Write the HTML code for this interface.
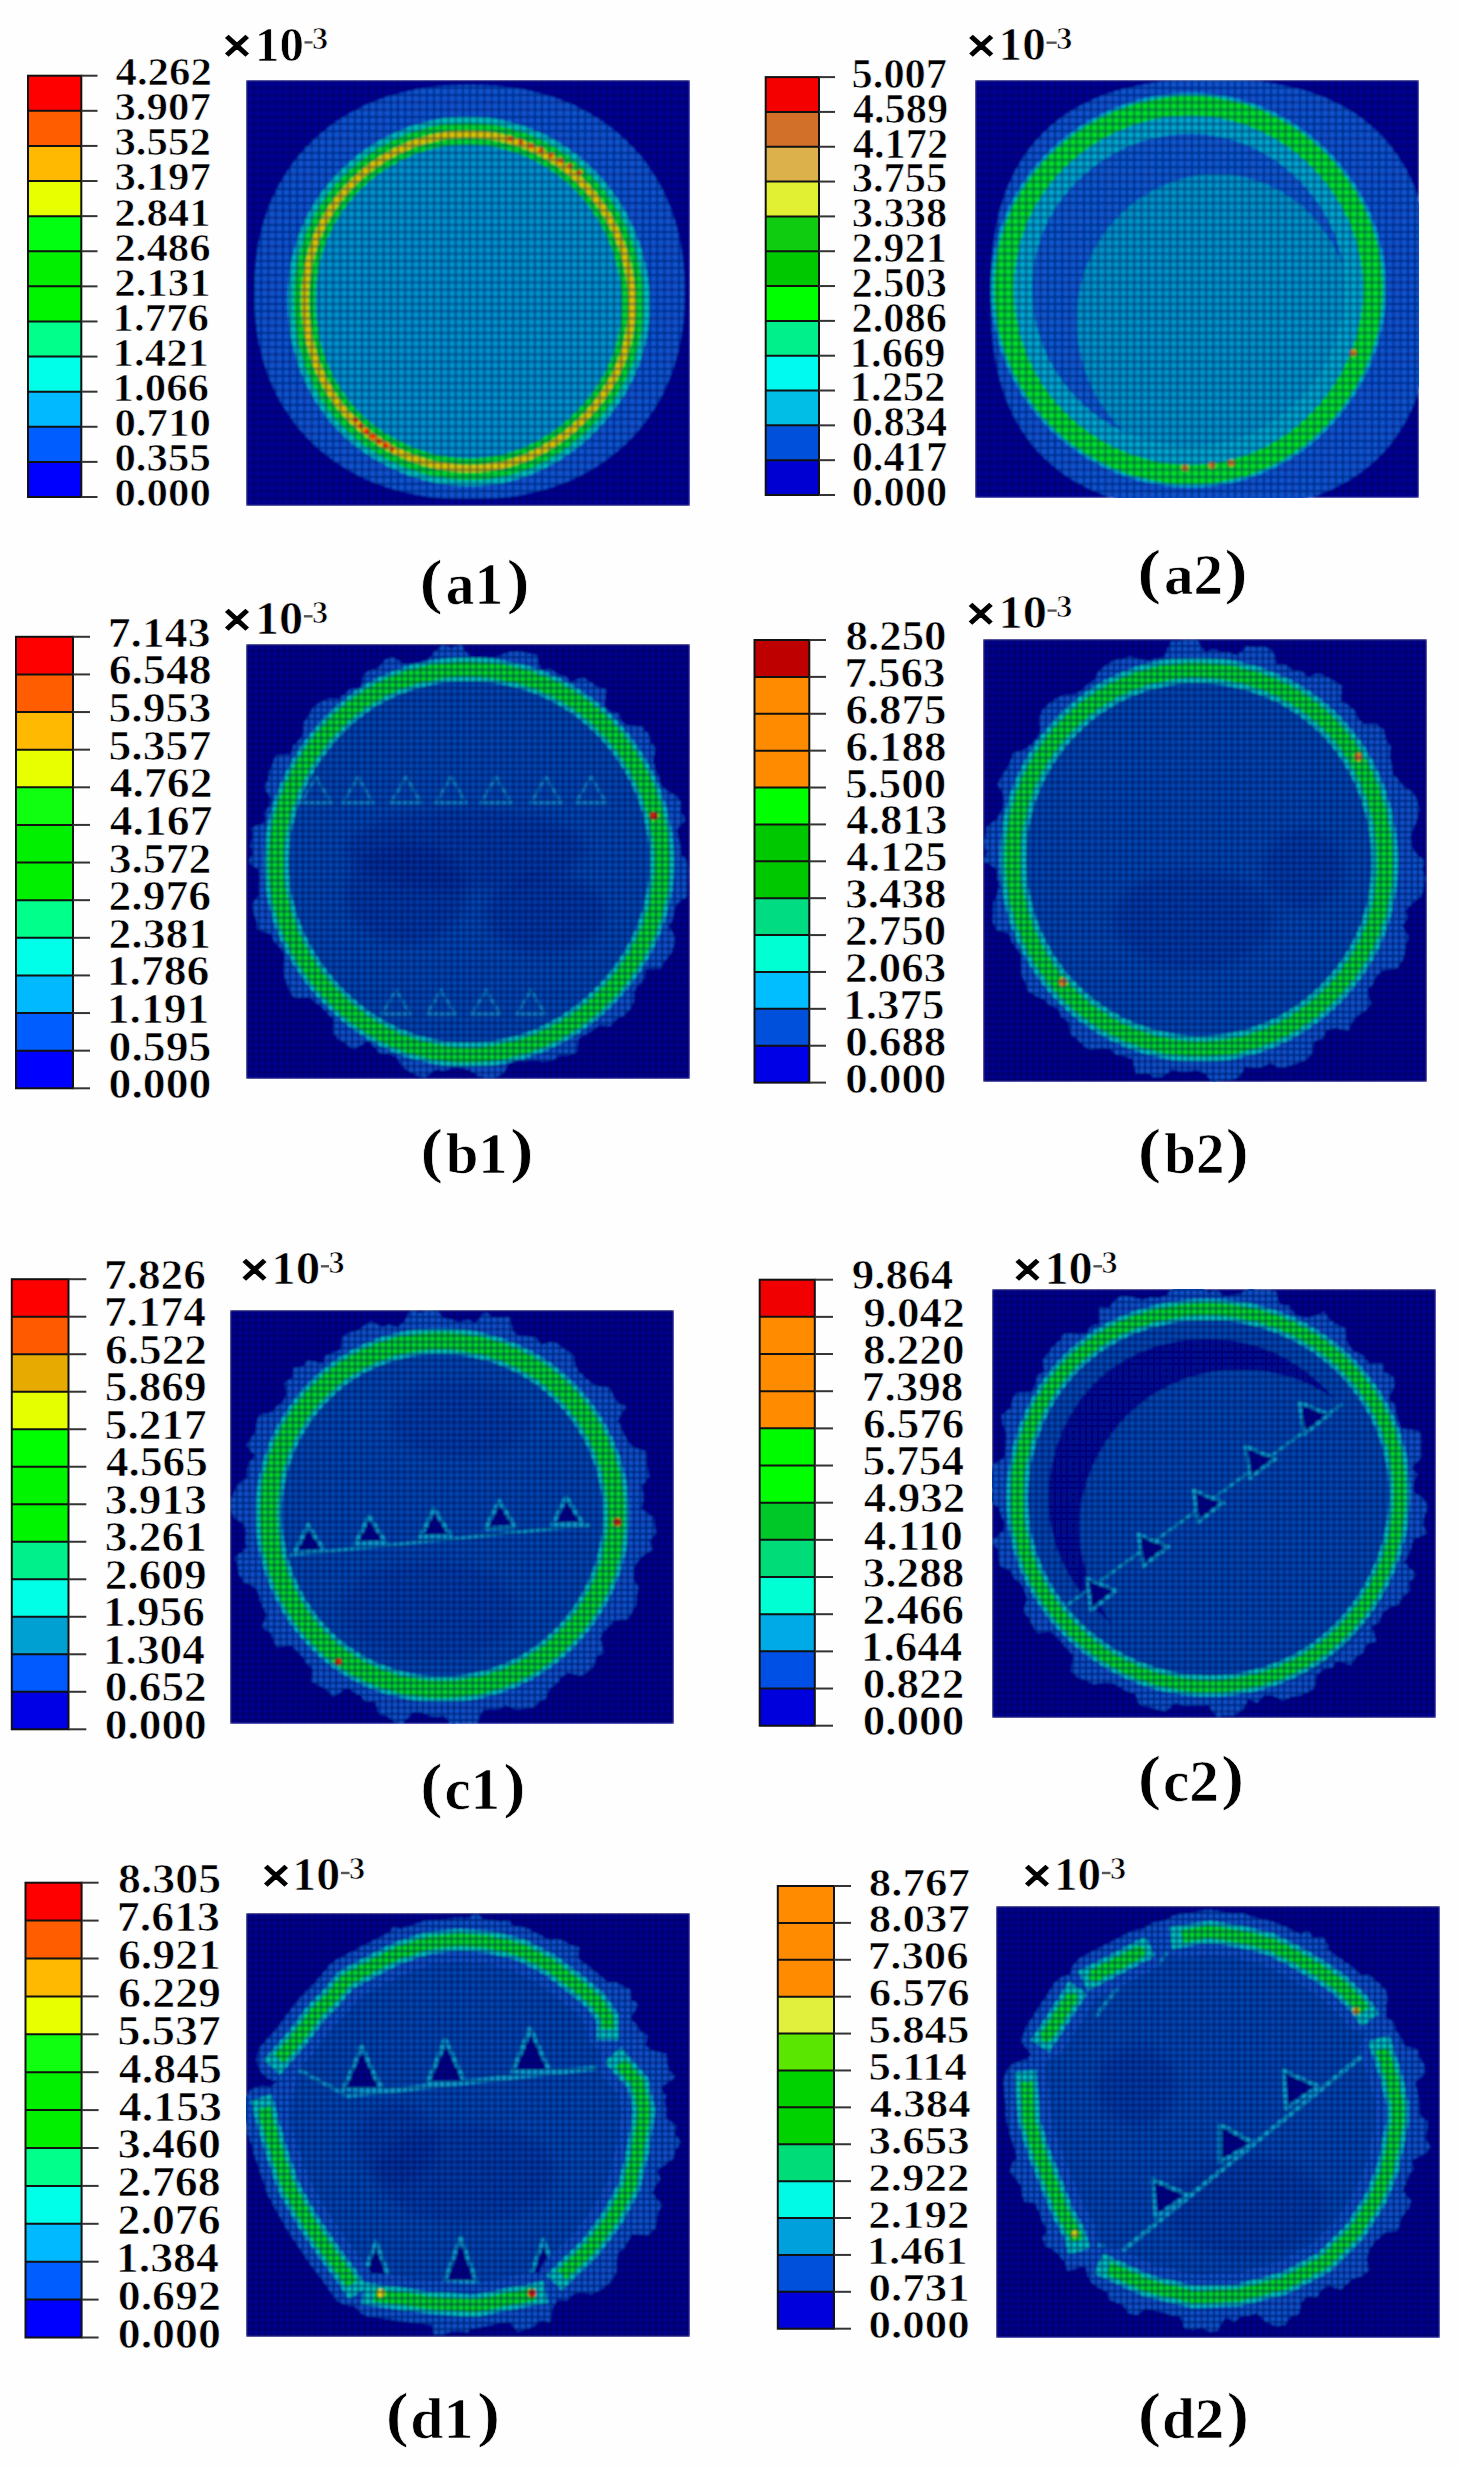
<!DOCTYPE html>
<html><head><meta charset="utf-8"><title>Figure</title>
<style>
html,body{margin:0;padding:0;background:#fff;}
svg{display:block;}
text{font-family:"Liberation Serif",serif;font-weight:bold;stroke:#fff;stroke-width:0.7px;}
</style></head>
<body>
<svg width="1460" height="2468" viewBox="0 0 1460 2468">
<defs>
<pattern id="m7" width="7.2" height="7.2" patternUnits="userSpaceOnUse"><path d="M0 0H7.2M0 0V7.2" stroke="#000040" stroke-width="3.2" stroke-opacity="0.62" fill="none"/></pattern>
<pattern id="m6" width="6.2" height="6.2" patternUnits="userSpaceOnUse"><path d="M0 0H6.2M0 0V6.2" stroke="#000040" stroke-width="3.2" stroke-opacity="0.75" fill="none"/></pattern>
<filter id="soft" x="-2%" y="-2%" width="104%" height="104%"><feGaussianBlur stdDeviation="1.0"/></filter>
<filter id="blur6" x="-50%" y="-50%" width="200%" height="200%"><feGaussianBlur stdDeviation="6"/></filter>
</defs>
<rect width="1460" height="2468" fill="#fefefe"/>
<!-- a1 -->
<rect x="28.0" y="75.70" width="53.3" height="35.61" fill="#ff0000"/>
<rect x="28.0" y="110.81" width="53.3" height="35.61" fill="#ff5d00"/>
<rect x="28.0" y="145.92" width="53.3" height="35.61" fill="#ffb900"/>
<rect x="28.0" y="181.03" width="53.3" height="35.61" fill="#e8ff00"/>
<rect x="28.0" y="216.13" width="53.3" height="35.61" fill="#00ff10"/>
<rect x="28.0" y="251.24" width="53.3" height="35.61" fill="#00f000"/>
<rect x="28.0" y="286.35" width="53.3" height="35.61" fill="#00f500"/>
<rect x="28.0" y="321.46" width="53.3" height="35.61" fill="#00ff8b"/>
<rect x="28.0" y="356.57" width="53.3" height="35.61" fill="#00ffe8"/>
<rect x="28.0" y="391.68" width="53.3" height="35.61" fill="#00b9ff"/>
<rect x="28.0" y="426.78" width="53.3" height="35.61" fill="#005dff"/>
<rect x="28.0" y="461.89" width="53.3" height="35.61" fill="#0000ff"/>
<line x1="28.0" y1="110.81" x2="81.3" y2="110.81" stroke="#111" stroke-width="2"/>
<line x1="28.0" y1="145.92" x2="81.3" y2="145.92" stroke="#111" stroke-width="2"/>
<line x1="28.0" y1="181.03" x2="81.3" y2="181.03" stroke="#111" stroke-width="2"/>
<line x1="28.0" y1="216.13" x2="81.3" y2="216.13" stroke="#111" stroke-width="2"/>
<line x1="28.0" y1="251.24" x2="81.3" y2="251.24" stroke="#111" stroke-width="2"/>
<line x1="28.0" y1="286.35" x2="81.3" y2="286.35" stroke="#111" stroke-width="2"/>
<line x1="28.0" y1="321.46" x2="81.3" y2="321.46" stroke="#111" stroke-width="2"/>
<line x1="28.0" y1="356.57" x2="81.3" y2="356.57" stroke="#111" stroke-width="2"/>
<line x1="28.0" y1="391.68" x2="81.3" y2="391.68" stroke="#111" stroke-width="2"/>
<line x1="28.0" y1="426.78" x2="81.3" y2="426.78" stroke="#111" stroke-width="2"/>
<line x1="28.0" y1="461.89" x2="81.3" y2="461.89" stroke="#111" stroke-width="2"/>
<rect x="28.0" y="75.70" width="53.3" height="421.30" fill="none" stroke="#111" stroke-width="2"/>
<line x1="81.3" y1="75.70" x2="97.5" y2="75.70" stroke="#333" stroke-width="2"/>
<line x1="81.3" y1="110.81" x2="97.5" y2="110.81" stroke="#333" stroke-width="2"/>
<line x1="81.3" y1="145.92" x2="97.5" y2="145.92" stroke="#333" stroke-width="2"/>
<line x1="81.3" y1="181.03" x2="97.5" y2="181.03" stroke="#333" stroke-width="2"/>
<line x1="81.3" y1="216.13" x2="97.5" y2="216.13" stroke="#333" stroke-width="2"/>
<line x1="81.3" y1="251.24" x2="97.5" y2="251.24" stroke="#333" stroke-width="2"/>
<line x1="81.3" y1="286.35" x2="97.5" y2="286.35" stroke="#333" stroke-width="2"/>
<line x1="81.3" y1="321.46" x2="97.5" y2="321.46" stroke="#333" stroke-width="2"/>
<line x1="81.3" y1="356.57" x2="97.5" y2="356.57" stroke="#333" stroke-width="2"/>
<line x1="81.3" y1="391.68" x2="97.5" y2="391.68" stroke="#333" stroke-width="2"/>
<line x1="81.3" y1="426.78" x2="97.5" y2="426.78" stroke="#333" stroke-width="2"/>
<line x1="81.3" y1="461.89" x2="97.5" y2="461.89" stroke="#333" stroke-width="2"/>
<line x1="81.3" y1="497.00" x2="97.5" y2="497.00" stroke="#333" stroke-width="2"/>
<text transform="translate(115.46,85.07) scale(1.0437,1)" font-size="41.08">4.262</text>
<text transform="translate(114.44,120.18) scale(1.0437,1)" font-size="41.08">3.907</text>
<text transform="translate(114.44,155.28) scale(1.0437,1)" font-size="41.08">3.552</text>
<text transform="translate(114.44,190.39) scale(1.0437,1)" font-size="41.08">3.197</text>
<text transform="translate(114.25,225.50) scale(1.0437,1)" font-size="41.08">2.841</text>
<text transform="translate(114.25,260.61) scale(1.0437,1)" font-size="41.08">2.486</text>
<text transform="translate(114.25,295.72) scale(1.0437,1)" font-size="41.08">2.131</text>
<text transform="translate(112.62,330.83) scale(1.0437,1)" font-size="41.08">1.776</text>
<text transform="translate(112.62,365.93) scale(1.0437,1)" font-size="41.08">1.421</text>
<text transform="translate(112.62,401.04) scale(1.0437,1)" font-size="41.08">1.066</text>
<text transform="translate(114.42,436.15) scale(1.0437,1)" font-size="41.08">0.710</text>
<text transform="translate(114.42,471.26) scale(1.0437,1)" font-size="41.08">0.355</text>
<text transform="translate(114.42,506.37) scale(1.0437,1)" font-size="41.08">0.000</text>
<text transform="translate(254.99,60.54) scale(1.0275,1)" font-size="47.57" fill="#000" >10</text>
<text transform="translate(221.96,62.18) scale(1.0846,1)" font-size="48.92" fill="#000" style="stroke:#000;stroke-width:1.3px">×</text>
<text transform="translate(311.99,48.80) scale(1.0511,1)" font-size="30.66" fill="#000" >3</text>
<line x1="304.5" y1="42.4" x2="312.5" y2="42.4" stroke="#555" stroke-width="2.4"/>
<text transform="translate(419.42,601.52) scale(1.1491,1)" font-size="60.99" fill="#000" >(</text>
<text transform="translate(506.79,601.52) scale(1.1236,1)" font-size="60.99" fill="#000" >)</text>
<text transform="translate(445.85,603.60) scale(0.9872,1)" font-size="58.17">a1</text>
<clipPath id="clip_a1"><rect x="0" y="0" width="444" height="426"/></clipPath><g transform="translate(246,80)" clip-path="url(#clip_a1)"><g filter="url(#soft)"><rect width="444" height="426" fill="#000598"/><path d="M438.5 212.0 L438.2 226.2 L437.4 238.6 L436.1 250.3 L434.2 261.6 L431.8 272.6 L428.9 283.2 L425.5 293.4 L421.5 303.4 L417.1 313.0 L412.1 322.2 L406.7 331.1 L400.8 339.7 L394.5 347.9 L387.6 355.7 L380.4 363.1 L372.7 370.0 L364.6 376.6 L356.1 382.7 L347.2 388.4 L338.0 393.6 L328.4 398.4 L318.4 402.7 L308.1 406.5 L297.4 409.8 L286.4 412.6 L275.1 414.9 L263.3 416.7 L251.1 418.0 L238.2 418.7 L223.5 419.0 L208.8 418.7 L195.9 418.0 L183.7 416.7 L171.9 414.9 L160.6 412.6 L149.6 409.8 L138.9 406.5 L128.6 402.7 L118.6 398.4 L109.0 393.6 L99.8 388.4 L90.9 382.7 L82.4 376.6 L74.3 370.0 L66.6 363.1 L59.4 355.7 L52.5 347.9 L46.2 339.7 L40.3 331.1 L34.9 322.2 L29.9 313.0 L25.5 303.4 L21.5 293.4 L18.1 283.2 L15.2 272.6 L12.8 261.6 L10.9 250.3 L9.6 238.6 L8.8 226.2 L8.5 212.0 L8.8 197.8 L9.6 185.4 L10.9 173.7 L12.8 162.4 L15.2 151.4 L18.1 140.8 L21.5 130.6 L25.5 120.6 L29.9 111.0 L34.9 101.8 L40.3 92.9 L46.2 84.3 L52.5 76.1 L59.4 68.3 L66.6 60.9 L74.3 54.0 L82.4 47.4 L90.9 41.3 L99.8 35.6 L109.0 30.4 L118.6 25.6 L128.6 21.3 L138.9 17.5 L149.6 14.2 L160.6 11.4 L171.9 9.1 L183.7 7.3 L195.9 6.0 L208.8 5.3 L223.5 5.0 L238.2 5.3 L251.1 6.0 L263.3 7.3 L275.1 9.1 L286.4 11.4 L297.4 14.2 L308.1 17.5 L318.4 21.3 L328.4 25.6 L338.0 30.4 L347.2 35.6 L356.1 41.3 L364.6 47.4 L372.7 54.0 L380.4 60.9 L387.6 68.3 L394.5 76.1 L400.8 84.3 L406.7 92.9 L412.1 101.8 L417.1 111.0 L421.5 120.6 L425.5 130.6 L428.9 140.8 L431.8 151.4 L434.2 162.4 L436.1 173.7 L437.4 185.4 L438.2 197.8Z" fill="#0a55d2" />
<path d="M379.6 222.5 L379.4 233.1 L378.5 243.6 L376.9 254.1 L374.5 264.4 L371.4 274.5 L367.7 284.4 L363.3 293.9 L358.3 303.1 L352.7 311.9 L346.6 320.4 L340.0 328.4 L332.9 336.0 L325.5 343.1 L317.6 349.8 L309.4 356.0 L300.8 361.6 L291.9 366.8 L282.7 371.3 L273.2 375.1 L263.5 378.3 L253.5 380.8 L243.4 382.5 L233.2 383.5 L223.0 383.8 L212.8 383.3 L202.6 382.1 L192.6 380.3 L182.7 377.8 L173.0 374.6 L163.4 370.9 L154.1 366.6 L145.1 361.7 L136.4 356.3 L128.0 350.3 L120.0 343.7 L112.5 336.5 L105.5 328.9 L99.0 320.7 L93.0 312.1 L87.7 303.1 L83.0 293.7 L79.0 284.1 L75.5 274.2 L72.7 264.1 L70.5 253.8 L68.9 243.4 L67.9 233.0 L67.6 222.5 L67.8 212.0 L68.6 201.5 L70.1 191.1 L72.3 180.8 L75.1 170.7 L78.6 160.8 L82.8 151.1 L87.6 141.8 L93.0 132.8 L99.0 124.3 L105.5 116.2 L112.5 108.5 L120.0 101.3 L128.0 94.7 L136.3 88.6 L145.0 83.0 L154.0 78.0 L163.2 73.6 L172.8 69.8 L182.6 66.7 L192.5 64.3 L202.6 62.5 L212.8 61.5 L223.0 61.1 L233.2 61.5 L243.4 62.6 L253.5 64.5 L263.4 67.0 L273.1 70.1 L282.6 73.9 L291.9 78.4 L300.8 83.4 L309.4 89.0 L317.6 95.2 L325.5 101.9 L332.9 109.1 L339.8 116.8 L346.3 124.9 L352.2 133.4 L357.6 142.3 L362.4 151.5 L366.7 161.1 L370.4 170.8 L373.5 180.9 L376.0 191.1 L377.9 201.5 L379.1 211.9Z" fill="#0094d0" />
<path d="M403.7 221.5 L403.5 233.6 L402.4 245.7 L400.5 257.7 L397.8 269.5 L394.2 281.1 L389.9 292.4 L384.8 303.3 L378.9 313.9 L372.5 324.0 L365.4 333.6 L357.7 342.8 L349.5 351.5 L340.9 359.7 L331.8 367.4 L322.3 374.5 L312.3 381.0 L302.0 386.8 L291.3 392.0 L280.2 396.4 L268.9 400.1 L257.4 402.9 L245.7 404.9 L233.9 406.0 L222.0 406.3 L210.2 405.8 L198.4 404.4 L186.7 402.3 L175.2 399.4 L163.9 395.9 L152.9 391.6 L142.1 386.7 L131.6 381.1 L121.5 374.8 L111.8 367.9 L102.5 360.4 L93.8 352.2 L85.6 343.4 L78.1 334.1 L71.2 324.2 L65.1 313.9 L59.6 303.1 L54.9 292.1 L50.9 280.7 L47.6 269.1 L45.1 257.4 L43.2 245.5 L42.1 233.5 L41.6 221.5 L41.9 209.5 L42.9 197.5 L44.6 185.5 L47.1 173.7 L50.4 162.1 L54.5 150.8 L59.3 139.7 L64.8 129.0 L71.1 118.7 L78.1 108.9 L85.7 99.6 L93.8 90.9 L102.5 82.7 L111.7 75.0 L121.4 68.0 L131.5 61.6 L141.9 55.9 L152.7 50.9 L163.7 46.5 L175.1 43.0 L186.6 40.2 L198.3 38.1 L210.1 36.9 L222.0 36.6 L233.9 37.0 L245.7 38.3 L257.3 40.4 L268.9 43.3 L280.1 46.9 L291.2 51.3 L301.9 56.3 L312.3 62.1 L322.3 68.6 L331.8 75.6 L340.9 83.3 L349.5 91.5 L357.5 100.3 L365.0 109.6 L371.9 119.4 L378.2 129.6 L383.8 140.2 L388.8 151.1 L393.1 162.3 L396.7 173.8 L399.6 185.5 L401.7 197.4 L403.1 209.4Z M397.1 209.8 L395.8 198.2 L393.7 186.7 L390.9 175.3 L387.4 164.2 L383.2 153.4 L378.4 142.8 L373.0 132.6 L366.9 122.7 L360.3 113.3 L353.0 104.3 L345.3 95.8 L337.0 87.8 L328.2 80.4 L318.9 73.5 L309.3 67.3 L299.2 61.7 L288.9 56.8 L278.2 52.6 L267.3 49.1 L256.2 46.3 L244.9 44.3 L233.5 43.0 L222.0 42.6 L210.5 42.9 L199.1 44.1 L187.8 46.1 L176.6 48.8 L165.7 52.2 L155.0 56.4 L144.5 61.3 L134.5 66.8 L124.7 73.0 L115.4 79.8 L106.5 87.2 L98.1 95.1 L90.2 103.6 L82.9 112.6 L76.1 122.1 L70.1 132.0 L64.7 142.4 L60.0 153.1 L56.1 164.1 L52.9 175.3 L50.5 186.7 L48.8 198.2 L47.9 209.9 L47.6 221.5 L48.1 233.1 L49.2 244.7 L51.0 256.2 L53.4 267.6 L56.6 278.8 L60.4 289.8 L65.0 300.5 L70.3 310.9 L76.2 320.9 L82.9 330.4 L90.1 339.4 L98.0 347.9 L106.5 355.8 L115.4 363.1 L124.8 369.8 L134.6 375.9 L144.7 381.3 L155.2 386.1 L165.9 390.2 L176.8 393.6 L187.9 396.4 L199.2 398.5 L210.5 399.8 L222.0 400.3 L233.5 400.0 L244.9 398.9 L256.2 397.0 L267.4 394.3 L278.3 390.7 L289.0 386.4 L299.3 381.4 L309.3 375.8 L318.9 369.5 L328.2 362.6 L337.0 355.2 L345.3 347.3 L353.2 338.9 L360.6 330.0 L367.5 320.6 L373.7 310.9 L379.4 300.7 L384.3 290.1 L388.5 279.2 L392.0 267.9 L394.6 256.5 L396.4 244.9 L397.5 233.2 L397.7 221.5Z" fill="#00c0c0" fill-rule="evenodd" />
<path d="M397.7 221.5 L397.5 233.2 L396.4 244.9 L394.6 256.5 L392.0 267.9 L388.5 279.2 L384.3 290.1 L379.4 300.7 L373.7 310.9 L367.5 320.6 L360.6 330.0 L353.2 338.9 L345.3 347.3 L337.0 355.2 L328.2 362.6 L318.9 369.5 L309.3 375.8 L299.3 381.4 L289.0 386.4 L278.3 390.7 L267.4 394.3 L256.2 397.0 L244.9 398.9 L233.5 400.0 L222.0 400.3 L210.5 399.8 L199.2 398.5 L187.9 396.4 L176.8 393.6 L165.9 390.2 L155.2 386.1 L144.7 381.3 L134.6 375.9 L124.8 369.8 L115.4 363.1 L106.5 355.8 L98.0 347.9 L90.1 339.4 L82.9 330.4 L76.2 320.9 L70.3 310.9 L65.0 300.5 L60.4 289.8 L56.6 278.8 L53.4 267.6 L51.0 256.2 L49.2 244.7 L48.1 233.1 L47.6 221.5 L47.9 209.9 L48.8 198.2 L50.5 186.7 L52.9 175.3 L56.1 164.1 L60.0 153.1 L64.7 142.4 L70.1 132.0 L76.1 122.1 L82.9 112.6 L90.2 103.6 L98.1 95.1 L106.5 87.2 L115.4 79.8 L124.7 73.0 L134.5 66.8 L144.5 61.3 L155.0 56.4 L165.7 52.2 L176.6 48.8 L187.8 46.1 L199.1 44.1 L210.5 42.9 L222.0 42.6 L233.5 43.0 L244.9 44.3 L256.2 46.3 L267.3 49.1 L278.2 52.6 L288.9 56.8 L299.2 61.7 L309.3 67.3 L318.9 73.5 L328.2 80.4 L337.0 87.8 L345.3 95.8 L353.0 104.3 L360.3 113.3 L366.9 122.7 L373.0 132.6 L378.4 142.8 L383.2 153.4 L387.4 164.2 L390.9 175.3 L393.7 186.7 L395.8 198.2 L397.1 209.8Z M375.1 211.2 L373.9 201.0 L372.1 191.0 L369.7 181.0 L366.6 171.3 L363.0 161.8 L358.8 152.5 L354.0 143.5 L348.7 134.9 L342.9 126.6 L336.6 118.7 L329.8 111.3 L322.5 104.3 L314.8 97.8 L306.7 91.8 L298.3 86.3 L289.5 81.4 L280.5 77.1 L271.2 73.4 L261.6 70.3 L251.9 67.9 L242.0 66.1 L232.0 65.0 L222.0 64.6 L212.0 65.0 L202.0 66.0 L192.1 67.7 L182.3 70.1 L172.8 73.1 L163.4 76.8 L154.3 81.0 L145.5 85.9 L137.0 91.3 L128.8 97.3 L121.0 103.7 L113.7 110.7 L106.8 118.1 L100.3 126.0 L94.5 134.3 L89.2 143.0 L84.5 152.1 L80.4 161.5 L77.0 171.1 L74.2 181.0 L72.1 191.0 L70.6 201.1 L69.8 211.3 L69.5 221.5 L69.9 231.7 L70.9 241.8 L72.5 251.9 L74.6 261.9 L77.4 271.7 L80.7 281.3 L84.7 290.7 L89.3 299.8 L94.5 308.6 L100.4 317.0 L106.7 324.9 L113.6 332.4 L121.0 339.3 L128.8 345.7 L137.1 351.5 L145.6 356.8 L154.5 361.6 L163.6 365.8 L172.9 369.4 L182.5 372.4 L192.2 374.9 L202.0 376.7 L212.0 377.8 L222.0 378.3 L232.0 378.0 L242.0 377.1 L251.9 375.4 L261.7 373.0 L271.2 369.9 L280.6 366.1 L289.6 361.7 L298.3 356.8 L306.8 351.2 L314.8 345.2 L322.5 338.7 L329.8 331.8 L336.7 324.4 L343.2 316.6 L349.2 308.4 L354.7 299.8 L359.6 290.9 L363.9 281.6 L367.6 272.0 L370.6 262.2 L372.9 252.2 L374.5 242.0 L375.4 231.8 L375.6 221.5Z" fill="#00d830" fill-rule="evenodd" />
<path d="M389.6 221.5 L389.4 232.7 L388.5 243.9 L386.7 254.9 L384.2 265.9 L380.9 276.6 L376.9 287.0 L372.2 297.1 L366.8 306.8 L360.8 316.2 L354.3 325.1 L347.2 333.6 L339.7 341.6 L331.7 349.2 L323.3 356.3 L314.5 362.8 L305.3 368.9 L295.8 374.3 L285.9 379.0 L275.7 383.1 L265.3 386.5 L254.7 389.1 L243.9 391.0 L232.9 392.0 L222.0 392.3 L211.1 391.8 L200.2 390.5 L189.4 388.6 L178.8 385.9 L168.4 382.6 L158.2 378.7 L148.3 374.1 L138.6 369.0 L129.3 363.2 L120.3 356.8 L111.8 349.8 L103.7 342.3 L96.2 334.2 L89.2 325.5 L82.9 316.4 L77.2 306.9 L72.2 296.9 L67.8 286.7 L64.1 276.2 L61.1 265.5 L58.8 254.6 L57.1 243.7 L56.0 232.6 L55.6 221.5 L55.8 210.4 L56.8 199.3 L58.4 188.3 L60.7 177.4 L63.7 166.6 L67.4 156.1 L71.9 145.9 L77.0 136.0 L82.8 126.5 L89.2 117.5 L96.2 108.9 L103.8 100.8 L111.8 93.2 L120.3 86.1 L129.2 79.7 L138.5 73.8 L148.1 68.5 L158.0 63.8 L168.2 59.8 L178.7 56.5 L189.3 53.9 L200.2 52.1 L211.1 51.0 L222.0 50.6 L232.9 51.0 L243.8 52.2 L254.6 54.1 L265.2 56.8 L275.6 60.1 L285.8 64.2 L295.7 68.9 L305.3 74.2 L314.5 80.2 L323.3 86.7 L331.7 93.8 L339.6 101.4 L347.1 109.5 L354.0 118.1 L360.3 127.2 L366.1 136.6 L371.3 146.3 L375.9 156.4 L379.8 166.8 L383.2 177.4 L385.8 188.2 L387.8 199.2 L389.1 210.3Z M382.1 210.8 L380.9 200.1 L379.0 189.6 L376.4 179.2 L373.2 169.0 L369.4 159.1 L365.0 149.4 L360.0 140.1 L354.5 131.0 L348.4 122.4 L341.8 114.1 L334.7 106.3 L327.1 99.0 L319.1 92.2 L310.6 86.0 L301.8 80.3 L292.6 75.1 L283.1 70.6 L273.4 66.8 L263.4 63.6 L253.2 61.0 L242.9 59.2 L232.5 58.0 L222.0 57.6 L211.5 58.0 L201.1 59.0 L190.7 60.8 L180.5 63.3 L170.5 66.5 L160.7 70.3 L151.2 74.8 L142.0 79.8 L133.1 85.5 L124.5 91.7 L116.4 98.5 L108.7 105.7 L101.5 113.5 L94.8 121.7 L88.6 130.4 L83.1 139.5 L78.2 149.0 L73.9 158.8 L70.3 168.9 L67.4 179.2 L65.2 189.6 L63.7 200.2 L62.8 210.8 L62.6 221.5 L63.0 232.2 L64.0 242.8 L65.6 253.3 L67.9 263.7 L70.8 274.0 L74.3 284.0 L78.4 293.8 L83.3 303.4 L88.7 312.5 L94.8 321.2 L101.5 329.5 L108.7 337.3 L116.4 344.6 L124.6 351.2 L133.2 357.4 L142.1 362.9 L151.4 367.9 L160.9 372.2 L170.7 376.0 L180.7 379.2 L190.8 381.7 L201.1 383.6 L211.5 384.8 L222.0 385.3 L232.5 385.0 L242.9 384.0 L253.3 382.3 L263.5 379.7 L273.5 376.5 L283.2 372.6 L292.7 368.0 L301.8 362.8 L310.6 357.0 L319.1 350.8 L327.1 344.0 L334.8 336.7 L342.0 329.0 L348.7 320.9 L355.0 312.3 L360.7 303.3 L365.9 294.0 L370.4 284.3 L374.2 274.3 L377.4 264.0 L379.8 253.6 L381.5 243.0 L382.4 232.2 L382.6 221.5Z" fill="#d8c800" fill-rule="evenodd" />
<path d="M262 58 Q300 68 338 96" stroke="#f06000" stroke-width="5" fill="none" stroke-dasharray="5 6"/>
<path d="M108 338 Q122 356 148 370" stroke="#ff3000" stroke-width="5" fill="none" stroke-dasharray="5 3"/><rect width="444" height="426" fill="url(#m7)"/></g></g>
<!-- a2 -->
<rect x="765.7" y="77.10" width="53.3" height="35.32" fill="#f50000"/>
<rect x="765.7" y="111.92" width="53.3" height="35.32" fill="#d2702a"/>
<rect x="765.7" y="146.75" width="53.3" height="35.32" fill="#dcb04a"/>
<rect x="765.7" y="181.57" width="53.3" height="35.32" fill="#e2f033"/>
<rect x="765.7" y="216.40" width="53.3" height="35.32" fill="#10cc10"/>
<rect x="765.7" y="251.22" width="53.3" height="35.32" fill="#00c800"/>
<rect x="765.7" y="286.05" width="53.3" height="35.32" fill="#00ff00"/>
<rect x="765.7" y="320.88" width="53.3" height="35.32" fill="#00f08c"/>
<rect x="765.7" y="355.70" width="53.3" height="35.32" fill="#00faf0"/>
<rect x="765.7" y="390.52" width="53.3" height="35.32" fill="#00bee6"/>
<rect x="765.7" y="425.35" width="53.3" height="35.32" fill="#0050dc"/>
<rect x="765.7" y="460.17" width="53.3" height="35.32" fill="#0000d2"/>
<line x1="765.7" y1="111.92" x2="819.0" y2="111.92" stroke="#111" stroke-width="2"/>
<line x1="765.7" y1="146.75" x2="819.0" y2="146.75" stroke="#111" stroke-width="2"/>
<line x1="765.7" y1="181.57" x2="819.0" y2="181.57" stroke="#111" stroke-width="2"/>
<line x1="765.7" y1="216.40" x2="819.0" y2="216.40" stroke="#111" stroke-width="2"/>
<line x1="765.7" y1="251.22" x2="819.0" y2="251.22" stroke="#111" stroke-width="2"/>
<line x1="765.7" y1="286.05" x2="819.0" y2="286.05" stroke="#111" stroke-width="2"/>
<line x1="765.7" y1="320.88" x2="819.0" y2="320.88" stroke="#111" stroke-width="2"/>
<line x1="765.7" y1="355.70" x2="819.0" y2="355.70" stroke="#111" stroke-width="2"/>
<line x1="765.7" y1="390.52" x2="819.0" y2="390.52" stroke="#111" stroke-width="2"/>
<line x1="765.7" y1="425.35" x2="819.0" y2="425.35" stroke="#111" stroke-width="2"/>
<line x1="765.7" y1="460.17" x2="819.0" y2="460.17" stroke="#111" stroke-width="2"/>
<rect x="765.7" y="77.10" width="53.3" height="417.90" fill="none" stroke="#111" stroke-width="2"/>
<line x1="819.0" y1="77.10" x2="835.0" y2="77.10" stroke="#333" stroke-width="2"/>
<line x1="819.0" y1="111.92" x2="835.0" y2="111.92" stroke="#333" stroke-width="2"/>
<line x1="819.0" y1="146.75" x2="835.0" y2="146.75" stroke="#333" stroke-width="2"/>
<line x1="819.0" y1="181.57" x2="835.0" y2="181.57" stroke="#333" stroke-width="2"/>
<line x1="819.0" y1="216.40" x2="835.0" y2="216.40" stroke="#333" stroke-width="2"/>
<line x1="819.0" y1="251.22" x2="835.0" y2="251.22" stroke="#333" stroke-width="2"/>
<line x1="819.0" y1="286.05" x2="835.0" y2="286.05" stroke="#333" stroke-width="2"/>
<line x1="819.0" y1="320.88" x2="835.0" y2="320.88" stroke="#333" stroke-width="2"/>
<line x1="819.0" y1="355.70" x2="835.0" y2="355.70" stroke="#333" stroke-width="2"/>
<line x1="819.0" y1="390.52" x2="835.0" y2="390.52" stroke="#333" stroke-width="2"/>
<line x1="819.0" y1="425.35" x2="835.0" y2="425.35" stroke="#333" stroke-width="2"/>
<line x1="819.0" y1="460.17" x2="835.0" y2="460.17" stroke="#333" stroke-width="2"/>
<line x1="819.0" y1="495.00" x2="835.0" y2="495.00" stroke="#333" stroke-width="2"/>
<text transform="translate(851.55,87.96) scale(1.0226,1)" font-size="41.52">5.007</text>
<text transform="translate(852.67,122.79) scale(1.0226,1)" font-size="41.52">4.589</text>
<text transform="translate(852.67,157.61) scale(1.0226,1)" font-size="41.52">4.172</text>
<text transform="translate(851.65,192.44) scale(1.0226,1)" font-size="41.52">3.755</text>
<text transform="translate(851.65,227.26) scale(1.0226,1)" font-size="41.52">3.338</text>
<text transform="translate(851.47,262.09) scale(1.0226,1)" font-size="41.52">2.921</text>
<text transform="translate(851.47,296.91) scale(1.0226,1)" font-size="41.52">2.503</text>
<text transform="translate(851.47,331.74) scale(1.0226,1)" font-size="41.52">2.086</text>
<text transform="translate(849.85,366.56) scale(1.0226,1)" font-size="41.52">1.669</text>
<text transform="translate(849.85,401.39) scale(1.0226,1)" font-size="41.52">1.252</text>
<text transform="translate(851.63,436.21) scale(1.0226,1)" font-size="41.52">0.834</text>
<text transform="translate(851.63,471.04) scale(1.0226,1)" font-size="41.52">0.417</text>
<text transform="translate(851.63,505.86) scale(1.0226,1)" font-size="41.52">0.000</text>
<text transform="translate(998.62,60.15) scale(1.0138,1)" font-size="46.53" fill="#000" >10</text>
<text transform="translate(966.16,62.11) scale(1.0846,1)" font-size="48.92" fill="#000" style="stroke:#000;stroke-width:1.3px">×</text>
<text transform="translate(1056.19,49.10) scale(1.0511,1)" font-size="30.66" fill="#000" >3</text>
<line x1="1046.5" y1="42.7" x2="1056.7" y2="42.7" stroke="#555" stroke-width="2.4"/>
<text transform="translate(1137.23,591.67) scale(1.1768,1)" font-size="61.21" fill="#000" >(</text>
<text transform="translate(1224.47,591.67) scale(1.1323,1)" font-size="61.21" fill="#000" >)</text>
<text transform="translate(1163.89,594.40) scale(1.0198,1)" font-size="58.00">a2</text>
<clipPath id="clip_a2"><rect x="0" y="0" width="444" height="418"/></clipPath><g transform="translate(975,80)" clip-path="url(#clip_a2)"><g filter="url(#soft)"><rect width="444" height="418" fill="#000598"/><path d="M456.0 215.0 L455.8 235.3 L455.0 250.3 L453.8 263.7 L452.1 276.2 L450.0 287.9 L447.3 299.0 L444.2 309.6 L440.6 319.7 L436.6 329.3 L432.1 338.5 L427.1 347.2 L421.7 355.5 L415.8 363.4 L409.5 370.9 L402.7 377.9 L395.5 384.5 L387.9 390.7 L379.8 396.5 L371.3 401.8 L362.4 406.6 L353.0 411.0 L343.1 415.0 L332.8 418.5 L322.0 421.5 L310.6 424.1 L298.6 426.2 L285.9 427.9 L272.1 429.1 L256.8 429.8 L236.0 430.0 L215.2 429.8 L199.9 429.1 L186.1 427.9 L173.4 426.2 L161.4 424.1 L150.0 421.5 L139.2 418.5 L128.9 415.0 L119.0 411.0 L109.6 406.6 L100.7 401.8 L92.2 396.5 L84.1 390.7 L76.5 384.5 L69.3 377.9 L62.5 370.9 L56.2 363.4 L50.3 355.5 L44.9 347.2 L39.9 338.5 L35.4 329.3 L31.4 319.7 L27.8 309.6 L24.7 299.0 L22.0 287.9 L19.9 276.2 L18.2 263.7 L17.0 250.3 L16.2 235.3 L16.0 215.0 L16.2 194.7 L17.0 179.7 L18.2 166.3 L19.9 153.8 L22.0 142.1 L24.7 131.0 L27.8 120.4 L31.4 110.3 L35.4 100.7 L39.9 91.5 L44.9 82.8 L50.3 74.5 L56.2 66.6 L62.5 59.1 L69.3 52.1 L76.5 45.5 L84.1 39.3 L92.2 33.5 L100.7 28.2 L109.6 23.4 L119.0 19.0 L128.9 15.0 L139.2 11.5 L150.0 8.5 L161.4 5.9 L173.4 3.8 L186.1 2.1 L199.9 0.9 L215.2 0.2 L236.0 0.0 L256.8 0.2 L272.1 0.9 L285.9 2.1 L298.6 3.8 L310.6 5.9 L322.0 8.5 L332.8 11.5 L343.1 15.0 L353.0 19.0 L362.4 23.4 L371.3 28.2 L379.8 33.5 L387.9 39.3 L395.5 45.5 L402.7 52.1 L409.5 59.1 L415.8 66.6 L421.7 74.5 L427.1 82.8 L432.1 91.5 L436.6 100.7 L440.6 110.3 L444.2 120.4 L447.3 131.0 L450.0 142.1 L452.1 153.8 L453.8 166.3 L455.0 179.7 L455.8 194.7Z" fill="#0a55d2" />
<path d="M384.3 211.0 L383.9 222.1 L382.7 233.2 L380.7 244.2 L378.1 255.0 L374.7 265.6 L370.7 275.9 L366.0 286.0 L360.7 295.7 L354.9 305.1 L348.4 314.1 L341.4 322.8 L333.9 330.9 L325.9 338.6 L317.4 345.8 L308.5 352.4 L299.1 358.4 L289.4 363.8 L279.3 368.5 L268.8 372.6 L258.2 375.8 L247.3 378.4 L236.3 380.2 L225.2 381.2 L214.0 381.5 L202.9 381.0 L191.8 379.7 L180.8 377.8 L170.0 375.1 L159.4 371.8 L149.1 367.8 L139.0 363.1 L129.2 357.8 L119.8 351.9 L110.8 345.5 L102.2 338.4 L94.1 330.9 L86.5 322.8 L79.4 314.2 L72.9 305.3 L67.0 295.9 L61.7 286.1 L57.1 276.0 L53.1 265.6 L49.8 255.0 L47.2 244.2 L45.3 233.2 L44.1 222.1 L43.6 211.0 L43.9 199.9 L44.9 188.7 L46.7 177.7 L49.2 166.8 L52.5 156.2 L56.4 145.7 L61.1 135.6 L66.5 125.8 L72.5 116.4 L79.1 107.5 L86.3 99.0 L94.0 91.0 L102.2 83.5 L110.8 76.5 L119.9 70.1 L129.3 64.3 L139.1 59.0 L149.1 54.4 L159.5 50.4 L170.1 47.1 L180.9 44.4 L191.8 42.5 L202.9 41.3 L214.0 40.8 L225.1 41.1 L236.2 42.2 L247.2 44.0 L258.1 46.5 L268.7 49.8 L279.1 53.8 L289.2 58.5 L299.0 63.8 L308.4 69.7 L317.4 76.3 L325.9 83.4 L334.0 91.0 L341.6 99.1 L348.7 107.6 L355.3 116.6 L361.2 126.0 L366.5 135.8 L371.2 145.9 L375.2 156.3 L378.5 166.9 L381.1 177.8 L382.9 188.8 L384.0 199.9Z" fill="#0a5ad2" />
<path d="M377.9 241.0 L377.6 250.6 L376.7 260.2 L375.2 269.6 L373.1 279.0 L370.5 288.2 L367.3 297.2 L363.5 305.9 L359.3 314.4 L354.6 322.5 L349.4 330.4 L343.7 337.9 L337.6 345.0 L331.1 351.6 L324.2 357.8 L316.9 363.5 L309.2 368.7 L301.3 373.3 L293.0 377.3 L284.5 380.7 L275.8 383.5 L267.0 385.6 L258.0 387.0 L249.0 387.8 L240.0 388.0 L231.0 387.5 L222.0 386.4 L213.2 384.8 L204.4 382.5 L195.8 379.7 L187.4 376.3 L179.2 372.4 L171.2 367.9 L163.5 362.9 L156.2 357.4 L149.1 351.4 L142.5 344.9 L136.3 337.9 L130.5 330.5 L125.2 322.7 L120.4 314.6 L116.1 306.1 L112.4 297.3 L109.2 288.3 L106.6 279.1 L104.5 269.7 L103.0 260.2 L102.1 250.6 L101.7 241.0 L102.0 231.4 L102.8 221.8 L104.3 212.2 L106.3 202.8 L109.0 193.6 L112.2 184.6 L116.0 175.8 L120.3 167.4 L125.1 159.2 L130.5 151.5 L136.3 144.1 L142.5 137.2 L149.2 130.7 L156.2 124.7 L163.6 119.2 L171.3 114.2 L179.2 109.7 L187.4 105.7 L195.8 102.4 L204.4 99.5 L213.2 97.3 L222.0 95.6 L231.0 94.6 L240.0 94.2 L249.0 94.4 L258.0 95.2 L267.0 96.6 L275.8 98.7 L284.5 101.4 L293.0 104.8 L301.2 108.7 L309.2 113.3 L316.9 118.4 L324.3 124.0 L331.2 130.2 L337.8 136.8 L343.9 143.9 L349.6 151.4 L354.8 159.3 L359.5 167.5 L363.7 176.0 L367.4 184.8 L370.5 193.8 L373.2 203.0 L375.2 212.4 L376.7 221.8 L377.6 231.4Z" fill="#0096cc" />
<path d="M410.9 210.0 L410.3 222.9 L409.0 235.7 L406.7 248.4 L403.6 260.9 L399.7 273.2 L395.1 285.2 L389.7 296.9 L383.5 308.2 L376.7 319.1 L369.3 329.5 L361.2 339.5 L352.5 349.0 L343.2 357.9 L333.4 366.2 L323.0 373.9 L312.1 380.8 L300.8 387.1 L289.1 392.6 L277.1 397.2 L264.7 401.0 L252.1 404.0 L239.3 406.0 L226.4 407.2 L213.5 407.5 L200.6 407.0 L187.8 405.5 L175.1 403.3 L162.5 400.2 L150.3 396.3 L138.3 391.7 L126.6 386.3 L115.3 380.1 L104.4 373.3 L93.9 365.8 L84.0 357.7 L74.6 348.9 L65.8 339.6 L57.6 329.6 L50.0 319.2 L43.2 308.3 L37.1 297.0 L31.7 285.3 L27.0 273.3 L23.2 261.0 L20.2 248.5 L18.0 235.7 L16.6 222.9 L16.1 210.0 L16.4 197.1 L17.6 184.2 L19.6 171.4 L22.5 158.8 L26.3 146.5 L30.9 134.4 L36.3 122.6 L42.5 111.3 L49.5 100.4 L57.1 90.0 L65.5 80.2 L74.4 70.9 L83.9 62.2 L93.9 54.1 L104.4 46.7 L115.3 40.0 L126.7 33.9 L138.3 28.5 L150.3 23.9 L162.6 20.1 L175.1 17.0 L187.8 14.7 L200.6 13.3 L213.5 12.8 L226.4 13.1 L239.3 14.3 L252.0 16.4 L264.6 19.4 L276.9 23.2 L289.0 27.8 L300.7 33.2 L312.0 39.4 L322.9 46.3 L333.3 53.9 L343.2 62.1 L352.6 70.9 L361.4 80.3 L369.6 90.2 L377.2 100.6 L384.1 111.5 L390.3 122.8 L395.7 134.5 L400.3 146.6 L404.2 158.9 L407.2 171.5 L409.3 184.2 L410.5 197.1Z M407.5 197.3 L406.3 184.6 L404.2 172.1 L401.3 159.7 L397.5 147.5 L392.9 135.7 L387.6 124.2 L381.5 113.0 L374.7 102.3 L367.2 92.0 L359.2 82.3 L350.5 73.0 L341.2 64.3 L331.5 56.2 L321.2 48.8 L310.5 42.0 L299.3 35.9 L287.8 30.6 L275.9 26.0 L263.8 22.3 L251.4 19.4 L238.9 17.3 L226.2 16.1 L213.5 15.8 L200.8 16.3 L188.2 17.7 L175.7 19.9 L163.4 22.9 L151.3 26.7 L139.5 31.3 L128.0 36.6 L116.8 42.6 L106.1 49.2 L95.7 56.5 L85.9 64.5 L76.5 73.0 L67.7 82.2 L59.5 91.9 L52.0 102.1 L45.1 112.8 L39.0 124.0 L33.7 135.5 L29.2 147.4 L25.4 159.6 L22.6 172.0 L20.5 184.6 L19.4 197.3 L19.1 210.0 L19.6 222.7 L20.9 235.4 L23.1 247.9 L26.1 260.2 L29.9 272.3 L34.4 284.2 L39.7 295.7 L45.8 306.8 L52.5 317.6 L59.9 327.8 L68.0 337.6 L76.7 346.8 L86.0 355.4 L95.8 363.5 L106.0 370.8 L116.8 377.6 L127.9 383.6 L139.4 388.9 L151.2 393.5 L163.3 397.3 L175.6 400.3 L188.1 402.6 L200.8 404.0 L213.5 404.5 L226.2 404.2 L238.9 403.1 L251.5 401.0 L263.9 398.1 L276.1 394.4 L288.0 389.8 L299.5 384.4 L310.6 378.2 L321.3 371.4 L331.5 363.8 L341.2 355.6 L350.4 346.9 L358.9 337.5 L366.9 327.7 L374.2 317.4 L380.9 306.7 L387.0 295.5 L392.3 284.1 L396.9 272.3 L400.7 260.2 L403.8 247.8 L406.0 235.3 L407.4 222.7 L407.9 210.0Z" fill="#00b4d2" fill-rule="evenodd" />
<path d="M407.9 210.0 L407.4 222.7 L406.0 235.3 L403.8 247.8 L400.7 260.2 L396.9 272.3 L392.3 284.1 L387.0 295.5 L380.9 306.7 L374.2 317.4 L366.9 327.7 L358.9 337.5 L350.4 346.9 L341.2 355.6 L331.5 363.8 L321.3 371.4 L310.6 378.2 L299.5 384.4 L288.0 389.8 L276.1 394.4 L263.9 398.1 L251.5 401.0 L238.9 403.1 L226.2 404.2 L213.5 404.5 L200.8 404.0 L188.1 402.6 L175.6 400.3 L163.3 397.3 L151.2 393.5 L139.4 388.9 L127.9 383.6 L116.8 377.6 L106.0 370.8 L95.8 363.5 L86.0 355.4 L76.7 346.8 L68.0 337.6 L59.9 327.8 L52.5 317.6 L45.8 306.8 L39.7 295.7 L34.4 284.2 L29.9 272.3 L26.1 260.2 L23.1 247.9 L20.9 235.4 L19.6 222.7 L19.1 210.0 L19.4 197.3 L20.5 184.6 L22.6 172.0 L25.4 159.6 L29.2 147.4 L33.7 135.5 L39.0 124.0 L45.1 112.8 L52.0 102.1 L59.5 91.9 L67.7 82.2 L76.5 73.0 L85.9 64.5 L95.7 56.5 L106.1 49.2 L116.8 42.6 L128.0 36.6 L139.5 31.3 L151.3 26.7 L163.4 22.9 L175.7 19.9 L188.2 17.7 L200.8 16.3 L213.5 15.8 L226.2 16.1 L238.9 17.3 L251.4 19.4 L263.8 22.3 L275.9 26.0 L287.8 30.6 L299.3 35.9 L310.5 42.0 L321.2 48.8 L331.5 56.2 L341.2 64.3 L350.5 73.0 L359.2 82.3 L367.2 92.0 L374.7 102.3 L381.5 113.0 L387.6 124.2 L392.9 135.7 L397.5 147.5 L401.3 159.7 L404.2 172.1 L406.3 184.6 L407.5 197.3Z M387.5 198.6 L386.4 187.2 L384.5 176.0 L381.9 164.9 L378.5 154.0 L374.4 143.3 L369.6 133.0 L364.2 123.0 L358.1 113.4 L351.4 104.2 L344.1 95.4 L336.4 87.1 L328.1 79.3 L319.3 72.1 L310.1 65.4 L300.5 59.3 L290.5 53.9 L280.2 49.1 L269.5 45.0 L258.6 41.6 L247.5 39.0 L236.3 37.2 L224.9 36.1 L213.5 35.8 L202.1 36.3 L190.8 37.5 L179.6 39.5 L168.5 42.2 L157.7 45.6 L147.1 49.7 L136.8 54.5 L126.8 59.8 L117.1 65.8 L107.9 72.3 L99.0 79.5 L90.6 87.1 L82.7 95.3 L75.4 104.0 L68.6 113.2 L62.5 122.8 L57.0 132.8 L52.2 143.2 L48.2 153.9 L44.8 164.8 L42.3 175.9 L40.4 187.2 L39.4 198.6 L39.1 210.0 L39.6 221.4 L40.8 232.7 L42.8 244.0 L45.4 255.0 L48.8 265.9 L52.9 276.5 L57.7 286.9 L63.1 296.9 L69.1 306.5 L75.8 315.7 L83.0 324.4 L90.8 332.7 L99.1 340.4 L107.9 347.6 L117.1 354.3 L126.7 360.3 L136.7 365.7 L147.0 370.4 L157.6 374.6 L168.5 378.0 L179.5 380.7 L190.8 382.7 L202.1 384.0 L213.5 384.5 L224.9 384.2 L236.3 383.2 L247.6 381.3 L258.7 378.7 L269.6 375.4 L280.3 371.2 L290.6 366.4 L300.6 360.9 L310.2 354.7 L319.4 348.0 L328.1 340.6 L336.3 332.8 L343.9 324.4 L351.1 315.6 L357.7 306.3 L363.7 296.7 L369.1 286.7 L373.9 276.4 L378.0 265.8 L381.4 255.0 L384.1 243.9 L386.1 232.7 L387.4 221.4 L387.8 210.0Z" fill="#06e02a" fill-rule="evenodd" />
<path d="M387.8 210.0 L387.4 221.4 L386.1 232.7 L384.1 243.9 L381.4 255.0 L378.0 265.8 L373.9 276.4 L369.1 286.7 L363.7 296.7 L357.7 306.3 L351.1 315.6 L343.9 324.4 L336.3 332.8 L328.1 340.6 L319.4 348.0 L310.2 354.7 L300.6 360.9 L290.6 366.4 L280.3 371.2 L269.6 375.4 L258.7 378.7 L247.6 381.3 L236.3 383.2 L224.9 384.2 L213.5 384.5 L202.1 384.0 L190.8 382.7 L179.5 380.7 L168.5 378.0 L157.6 374.6 L147.0 370.4 L136.7 365.7 L126.7 360.3 L117.1 354.3 L107.9 347.6 L99.1 340.4 L90.8 332.7 L83.0 324.4 L75.8 315.7 L69.1 306.5 L63.1 296.9 L57.7 286.9 L52.9 276.5 L48.8 265.9 L45.4 255.0 L42.8 244.0 L40.8 232.7 L39.6 221.4 L39.1 210.0 L39.4 198.6 L40.4 187.2 L42.3 175.9 L44.8 164.8 L48.2 153.9 L52.2 143.2 L57.0 132.8 L62.5 122.8 L68.6 113.2 L75.4 104.0 L82.7 95.3 L90.6 87.1 L99.0 79.5 L107.9 72.3 L117.1 65.8 L126.8 59.8 L136.8 54.5 L147.1 49.7 L157.7 45.6 L168.5 42.2 L179.6 39.5 L190.8 37.5 L202.1 36.3 L213.5 35.8 L224.9 36.1 L236.3 37.2 L247.5 39.0 L258.6 41.6 L269.5 45.0 L280.2 49.1 L290.5 53.9 L300.5 59.3 L310.1 65.4 L319.3 72.1 L328.1 79.3 L336.4 87.1 L344.1 95.4 L351.4 104.2 L358.1 113.4 L364.2 123.0 L369.6 133.0 L374.4 143.3 L378.5 154.0 L381.9 164.9 L384.5 176.0 L386.4 187.2 L387.5 198.6Z M369.5 199.8 L368.5 189.6 L366.8 179.5 L364.5 169.5 L361.5 159.8 L357.8 150.2 L353.5 141.0 L348.6 132.0 L343.1 123.4 L337.1 115.1 L330.6 107.3 L323.7 99.8 L316.2 92.9 L308.4 86.4 L300.1 80.4 L291.5 74.9 L282.5 70.0 L273.3 65.7 L263.7 62.1 L253.9 59.1 L244.0 56.7 L233.9 55.1 L223.7 54.1 L213.5 53.8 L203.3 54.3 L193.1 55.4 L183.1 57.2 L173.2 59.6 L163.5 62.6 L154.0 66.3 L144.7 70.5 L135.8 75.4 L127.1 80.7 L118.8 86.6 L110.9 93.0 L103.3 99.8 L96.3 107.2 L89.7 115.0 L83.6 123.2 L78.1 131.8 L73.2 140.8 L68.9 150.1 L65.3 159.7 L62.3 169.5 L60.0 179.5 L58.3 189.6 L57.4 199.8 L57.1 210.0 L57.6 220.2 L58.7 230.4 L60.4 240.5 L62.8 250.4 L65.9 260.1 L69.5 269.6 L73.8 278.9 L78.6 287.9 L84.1 296.5 L90.0 304.7 L96.5 312.6 L103.5 320.0 L110.9 326.9 L118.8 333.4 L127.1 339.3 L135.7 344.7 L144.7 349.6 L153.9 353.9 L163.4 357.5 L173.1 360.6 L183.1 363.0 L193.1 364.8 L203.3 366.0 L213.5 366.4 L223.7 366.2 L233.9 365.2 L244.1 363.6 L254.0 361.3 L263.8 358.2 L273.4 354.6 L282.7 350.2 L291.6 345.3 L300.2 339.8 L308.4 333.7 L316.2 327.1 L323.6 320.1 L330.4 312.6 L336.9 304.7 L342.8 296.4 L348.2 287.7 L353.0 278.8 L357.3 269.6 L361.0 260.1 L364.0 250.3 L366.5 240.4 L368.3 230.4 L369.4 220.2 L369.8 210.0Z" fill="#00a8d0" fill-rule="evenodd" />
<circle cx="210" cy="388" r="3.5" fill="#d08020"/>
<circle cx="237" cy="385" r="3.5" fill="#d08020"/>
<circle cx="256" cy="383" r="3.5" fill="#d08020"/>
<circle cx="378" cy="273" r="3.5" fill="#d08020"/><rect width="444" height="418" fill="url(#m7)"/></g></g>
<!-- b1 -->
<rect x="16.0" y="636.80" width="57.0" height="38.12" fill="#ff0000"/>
<rect x="16.0" y="674.42" width="57.0" height="38.12" fill="#ff5d00"/>
<rect x="16.0" y="712.05" width="57.0" height="38.12" fill="#ffb900"/>
<rect x="16.0" y="749.67" width="57.0" height="38.12" fill="#e8ff00"/>
<rect x="16.0" y="787.30" width="57.0" height="38.12" fill="#10ff10"/>
<rect x="16.0" y="824.92" width="57.0" height="38.12" fill="#00f000"/>
<rect x="16.0" y="862.55" width="57.0" height="38.12" fill="#00f000"/>
<rect x="16.0" y="900.17" width="57.0" height="38.12" fill="#00ff8b"/>
<rect x="16.0" y="937.80" width="57.0" height="38.12" fill="#00ffe8"/>
<rect x="16.0" y="975.42" width="57.0" height="38.12" fill="#00b9ff"/>
<rect x="16.0" y="1013.05" width="57.0" height="38.12" fill="#005dff"/>
<rect x="16.0" y="1050.67" width="57.0" height="38.12" fill="#0000ff"/>
<line x1="16.0" y1="674.42" x2="73.0" y2="674.42" stroke="#111" stroke-width="2"/>
<line x1="16.0" y1="712.05" x2="73.0" y2="712.05" stroke="#111" stroke-width="2"/>
<line x1="16.0" y1="749.67" x2="73.0" y2="749.67" stroke="#111" stroke-width="2"/>
<line x1="16.0" y1="787.30" x2="73.0" y2="787.30" stroke="#111" stroke-width="2"/>
<line x1="16.0" y1="824.92" x2="73.0" y2="824.92" stroke="#111" stroke-width="2"/>
<line x1="16.0" y1="862.55" x2="73.0" y2="862.55" stroke="#111" stroke-width="2"/>
<line x1="16.0" y1="900.17" x2="73.0" y2="900.17" stroke="#111" stroke-width="2"/>
<line x1="16.0" y1="937.80" x2="73.0" y2="937.80" stroke="#111" stroke-width="2"/>
<line x1="16.0" y1="975.42" x2="73.0" y2="975.42" stroke="#111" stroke-width="2"/>
<line x1="16.0" y1="1013.05" x2="73.0" y2="1013.05" stroke="#111" stroke-width="2"/>
<line x1="16.0" y1="1050.67" x2="73.0" y2="1050.67" stroke="#111" stroke-width="2"/>
<rect x="16.0" y="636.80" width="57.0" height="451.50" fill="none" stroke="#111" stroke-width="2"/>
<line x1="73.0" y1="636.80" x2="90.0" y2="636.80" stroke="#333" stroke-width="2"/>
<line x1="73.0" y1="674.42" x2="90.0" y2="674.42" stroke="#333" stroke-width="2"/>
<line x1="73.0" y1="712.05" x2="90.0" y2="712.05" stroke="#333" stroke-width="2"/>
<line x1="73.0" y1="749.67" x2="90.0" y2="749.67" stroke="#333" stroke-width="2"/>
<line x1="73.0" y1="787.30" x2="90.0" y2="787.30" stroke="#333" stroke-width="2"/>
<line x1="73.0" y1="824.92" x2="90.0" y2="824.92" stroke="#333" stroke-width="2"/>
<line x1="73.0" y1="862.55" x2="90.0" y2="862.55" stroke="#333" stroke-width="2"/>
<line x1="73.0" y1="900.17" x2="90.0" y2="900.17" stroke="#333" stroke-width="2"/>
<line x1="73.0" y1="937.80" x2="90.0" y2="937.80" stroke="#333" stroke-width="2"/>
<line x1="73.0" y1="975.42" x2="90.0" y2="975.42" stroke="#333" stroke-width="2"/>
<line x1="73.0" y1="1013.05" x2="90.0" y2="1013.05" stroke="#333" stroke-width="2"/>
<line x1="73.0" y1="1050.67" x2="90.0" y2="1050.67" stroke="#333" stroke-width="2"/>
<line x1="73.0" y1="1088.30" x2="90.0" y2="1088.30" stroke="#333" stroke-width="2"/>
<text transform="translate(107.74,646.85) scale(1.0699,1)" font-size="42.70">7.143</text>
<text transform="translate(108.79,684.47) scale(1.0699,1)" font-size="42.70">6.548</text>
<text transform="translate(108.52,722.10) scale(1.0699,1)" font-size="42.70">5.953</text>
<text transform="translate(108.52,759.72) scale(1.0699,1)" font-size="42.70">5.357</text>
<text transform="translate(109.73,797.35) scale(1.0699,1)" font-size="42.70">4.762</text>
<text transform="translate(109.73,834.97) scale(1.0699,1)" font-size="42.70">4.167</text>
<text transform="translate(108.63,872.60) scale(1.0699,1)" font-size="42.70">3.572</text>
<text transform="translate(108.43,910.22) scale(1.0699,1)" font-size="42.70">2.976</text>
<text transform="translate(108.43,947.85) scale(1.0699,1)" font-size="42.70">2.381</text>
<text transform="translate(106.69,985.47) scale(1.0699,1)" font-size="42.70">1.786</text>
<text transform="translate(106.69,1023.10) scale(1.0699,1)" font-size="42.70">1.191</text>
<text transform="translate(108.61,1060.72) scale(1.0699,1)" font-size="42.70">0.595</text>
<text transform="translate(108.61,1098.35) scale(1.0699,1)" font-size="42.70">0.000</text>
<text transform="translate(254.93,633.55) scale(1.0448,1)" font-size="46.24" fill="#000" >10</text>
<text transform="translate(222.06,635.60) scale(1.0846,1)" font-size="48.92" fill="#000" style="stroke:#000;stroke-width:1.3px">×</text>
<text transform="translate(312.09,622.70) scale(1.0511,1)" font-size="30.66" fill="#000" >3</text>
<line x1="303.9" y1="616.3" x2="312.6" y2="616.3" stroke="#555" stroke-width="2.4"/>
<text transform="translate(420.62,1170.57) scale(1.1068,1)" font-size="61.21" fill="#000" >(</text>
<text transform="translate(509.92,1170.57) scale(1.1577,1)" font-size="61.21" fill="#000" >)</text>
<text transform="translate(445.65,1173.30) scale(1.0432,1)" font-size="56.35">b1</text>
<clipPath id="clip_b1"><rect x="0" y="0" width="444" height="435"/></clipPath><g transform="translate(246,644)" clip-path="url(#clip_b1)"><g filter="url(#soft)"><rect width="444" height="435" fill="#000598"/><path d="M441.7 218.0 L442.5 226.5 L442.0 235.1 L441.4 243.6 L441.4 252.3 L431.4 259.1 L428.0 266.8 L426.6 274.9 L422.9 282.3 L428.7 293.2 L427.5 301.9 L424.7 310.1 L418.7 316.8 L414.9 324.4 L399.4 325.1 L398.8 334.4 L392.9 340.3 L387.8 346.7 L387.8 357.4 L383.8 365.2 L377.8 371.4 L369.8 375.3 L364.3 381.9 L352.9 381.2 L346.4 386.2 L339.4 390.5 L332.3 394.6 L330.6 408.4 L322.6 411.6 L313.1 411.5 L306.0 416.4 L297.4 417.8 L288.0 416.2 L279.8 417.4 L271.2 417.0 L263.3 418.5 L256.9 429.8 L248.7 433.2 L240.1 433.4 L231.5 431.4 L223.0 425.8 L214.8 423.7 L206.7 423.4 L198.1 426.8 L189.9 425.2 L179.8 433.1 L171.3 431.4 L163.3 427.5 L156.0 422.3 L150.6 412.4 L142.5 410.6 L134.1 409.1 L128.2 402.4 L121.7 397.2 L107.0 405.6 L100.4 399.8 L92.9 395.4 L87.3 388.6 L87.6 375.0 L81.4 369.7 L76.3 363.4 L69.7 358.4 L63.4 353.1 L48.8 354.1 L43.5 347.2 L40.8 338.6 L37.5 330.6 L37.8 320.8 L38.7 311.0 L34.8 304.0 L28.3 297.9 L25.7 290.1 L11.7 286.0 L10.8 277.3 L7.9 269.1 L5.7 260.8 L13.3 250.9 L12.6 242.7 L14.1 234.3 L12.9 226.2 L2.5 218.0 L7.0 209.6 L4.7 201.0 L6.4 192.6 L5.5 183.9 L19.9 178.0 L18.1 169.3 L23.7 162.3 L24.8 154.2 L18.0 143.1 L22.4 135.7 L23.6 127.0 L27.0 119.1 L30.1 111.0 L45.5 110.2 L47.4 101.8 L53.6 96.1 L57.6 88.8 L58.2 78.6 L62.7 71.2 L67.3 63.8 L74.0 58.4 L82.2 54.6 L93.3 55.0 L99.2 49.2 L105.8 44.2 L115.2 43.7 L117.4 31.1 L124.3 26.1 L132.7 24.1 L138.6 16.2 L146.8 13.4 L158.0 19.9 L166.3 18.8 L174.6 18.1 L182.4 15.6 L189.3 7.0 L197.1 1.5 L206.0 4.2 L214.4 0.5 L223.0 12.1 L231.1 13.2 L239.3 12.3 L247.4 13.4 L256.1 10.8 L265.2 7.8 L273.9 7.8 L282.4 9.4 L290.8 11.3 L294.6 25.6 L304.0 24.3 L310.6 29.8 L318.7 31.9 L324.9 37.8 L337.0 33.7 L344.3 38.1 L351.4 42.9 L360.2 45.5 L358.1 61.3 L363.4 67.5 L373.1 69.3 L375.6 78.3 L384.1 81.7 L395.7 83.1 L401.8 89.3 L404.6 97.8 L409.3 104.9 L406.8 116.0 L408.9 124.2 L412.5 131.4 L413.9 139.7 L419.8 146.1 L429.7 151.5 L435.5 158.6 L434.2 167.8 L439.6 175.3 L430.6 185.4 L432.2 193.5 L434.0 201.5 L434.2 209.8Z" fill="#0a55d2" />
<path d="M407.9 217.5 L407.4 229.7 L406.1 241.9 L404.0 253.9 L401.0 265.7 L397.2 277.3 L392.6 288.5 L387.3 299.4 L381.4 309.9 L374.8 320.0 L367.6 329.7 L359.9 338.9 L351.7 347.6 L342.9 355.7 L333.7 363.3 L324.0 370.4 L314.0 376.8 L303.5 382.6 L292.7 387.6 L281.6 392.0 L270.2 395.6 L258.6 398.5 L246.8 400.6 L235.0 401.9 L223.0 402.3 L211.0 402.0 L199.1 400.9 L187.3 398.9 L175.7 396.1 L164.2 392.5 L153.1 388.2 L142.2 383.1 L131.8 377.3 L121.7 370.8 L112.1 363.7 L102.9 356.0 L94.2 347.7 L86.0 339.0 L78.3 329.7 L71.2 320.0 L64.7 309.9 L58.7 299.4 L53.4 288.5 L48.9 277.3 L45.1 265.7 L42.0 253.9 L39.9 241.9 L38.6 229.7 L38.2 217.5 L38.7 205.3 L40.1 193.2 L42.4 181.2 L45.4 169.4 L49.2 157.8 L53.7 146.6 L58.8 135.7 L64.6 125.1 L71.0 114.8 L78.0 105.0 L85.6 95.7 L93.7 86.8 L102.4 78.5 L111.6 70.7 L121.3 63.7 L131.5 57.3 L142.1 51.7 L153.1 46.8 L164.3 42.7 L175.8 39.4 L187.5 36.9 L199.3 35.1 L211.1 34.1 L223.0 33.9 L234.9 34.3 L246.7 35.5 L258.4 37.4 L270.1 40.0 L281.5 43.3 L292.7 47.4 L303.6 52.2 L314.3 57.7 L324.5 64.0 L334.3 70.9 L343.6 78.5 L352.3 86.7 L360.6 95.5 L368.3 104.8 L375.3 114.6 L381.8 124.8 L387.6 135.4 L392.8 146.4 L397.2 157.7 L401.0 169.3 L403.9 181.1 L406.1 193.1 L407.4 205.3Z" fill="#044cbc" />
<ellipse cx="220" cy="205" rx="120" ry="40" fill="#000070" opacity="0.18" filter="url(#blur6)"/>
<ellipse cx="160" cy="250" rx="60" ry="50" fill="#000070" opacity="0.18" filter="url(#blur6)"/>
<ellipse cx="300" cy="270" rx="60" ry="40" fill="#000070" opacity="0.18" filter="url(#blur6)"/>
<path d="M70.0 132.7 L85.0 158.7 L55.0 158.7Z" fill="none" stroke="#10a0d8" stroke-width="3" stroke-linejoin="round" opacity="0.6"/>
<path d="M112.0 132.7 L127.0 158.7 L97.0 158.7Z" fill="none" stroke="#10a0d8" stroke-width="3" stroke-linejoin="round" opacity="0.6"/>
<path d="M160.0 132.7 L175.0 158.7 L145.0 158.7Z" fill="none" stroke="#10a0d8" stroke-width="3" stroke-linejoin="round" opacity="0.6"/>
<path d="M205.0 132.7 L220.0 158.7 L190.0 158.7Z" fill="none" stroke="#10a0d8" stroke-width="3" stroke-linejoin="round" opacity="0.6"/>
<path d="M250.0 132.7 L265.0 158.7 L235.0 158.7Z" fill="none" stroke="#10a0d8" stroke-width="3" stroke-linejoin="round" opacity="0.6"/>
<path d="M300.0 132.7 L315.0 158.7 L285.0 158.7Z" fill="none" stroke="#10a0d8" stroke-width="3" stroke-linejoin="round" opacity="0.6"/>
<path d="M345.0 132.7 L360.0 158.7 L330.0 158.7Z" fill="none" stroke="#10a0d8" stroke-width="3" stroke-linejoin="round" opacity="0.6"/>
<path d="M150.0 346.0 L164.0 370.0 L136.0 370.0Z" fill="none" stroke="#10a0d8" stroke-width="3" stroke-linejoin="round" opacity="0.6"/>
<path d="M195.0 346.0 L209.0 370.0 L181.0 370.0Z" fill="none" stroke="#10a0d8" stroke-width="3" stroke-linejoin="round" opacity="0.6"/>
<path d="M240.0 346.0 L254.0 370.0 L226.0 370.0Z" fill="none" stroke="#10a0d8" stroke-width="3" stroke-linejoin="round" opacity="0.6"/>
<path d="M285.0 346.0 L299.0 370.0 L271.0 370.0Z" fill="none" stroke="#10a0d8" stroke-width="3" stroke-linejoin="round" opacity="0.6"/>
<path d="M428.1 217.5 L427.6 231.1 L426.2 244.6 L423.8 257.9 L420.4 271.0 L416.2 283.9 L411.1 296.4 L405.3 308.5 L398.7 320.2 L391.4 331.4 L383.4 342.1 L374.9 352.3 L365.7 362.0 L356.0 371.0 L345.8 379.5 L335.1 387.3 L323.9 394.4 L312.3 400.8 L300.3 406.5 L288.0 411.3 L275.4 415.4 L262.5 418.5 L249.4 420.9 L236.3 422.3 L223.0 422.8 L209.7 422.5 L196.5 421.2 L183.4 419.0 L170.5 415.9 L157.8 411.9 L145.4 407.1 L133.4 401.4 L121.8 395.0 L110.6 387.8 L99.9 379.9 L89.8 371.3 L80.1 362.1 L71.0 352.4 L62.5 342.2 L54.6 331.4 L47.4 320.2 L40.8 308.5 L34.9 296.4 L29.8 283.9 L25.6 271.0 L22.3 257.9 L19.9 244.6 L18.5 231.1 L18.0 217.5 L18.6 203.9 L20.1 190.5 L22.6 177.2 L26.0 164.1 L30.2 151.2 L35.2 138.7 L40.9 126.6 L47.3 114.8 L54.4 103.5 L62.2 92.6 L70.6 82.2 L79.6 72.3 L89.2 63.1 L99.4 54.5 L110.2 46.6 L121.5 39.5 L133.3 33.3 L145.4 27.9 L157.9 23.3 L170.6 19.7 L183.6 16.9 L196.7 14.9 L209.8 13.8 L223.0 13.5 L236.2 14.0 L249.3 15.3 L262.3 17.4 L275.2 20.3 L287.9 24.0 L300.3 28.5 L312.5 33.9 L324.2 40.0 L335.6 47.0 L346.4 54.7 L356.7 63.1 L366.5 72.2 L375.6 82.0 L384.1 92.3 L392.0 103.2 L399.1 114.6 L405.6 126.3 L411.3 138.5 L416.3 151.1 L420.4 164.0 L423.7 177.1 L426.1 190.4 L427.6 203.9Z M423.5 204.2 L422.1 191.0 L419.7 177.9 L416.5 165.0 L412.5 152.4 L407.6 140.1 L402.0 128.1 L395.7 116.6 L388.6 105.4 L381.0 94.8 L372.6 84.6 L363.7 75.1 L354.1 66.1 L344.0 57.8 L333.3 50.3 L322.2 43.5 L310.7 37.4 L298.8 32.2 L286.6 27.8 L274.2 24.1 L261.5 21.3 L248.8 19.2 L235.9 18.0 L223.0 17.5 L210.1 17.8 L197.2 18.9 L184.4 20.8 L171.7 23.5 L159.2 27.1 L146.9 31.6 L135.0 36.9 L123.5 43.0 L112.4 49.9 L101.9 57.7 L91.8 66.1 L82.4 75.1 L73.6 84.8 L65.3 95.0 L57.7 105.7 L50.8 116.8 L44.5 128.4 L38.9 140.3 L34.0 152.5 L29.9 165.1 L26.6 177.9 L24.1 191.0 L22.6 204.2 L22.1 217.5 L22.5 230.8 L23.9 244.0 L26.2 257.1 L29.5 270.0 L33.6 282.6 L38.6 294.8 L44.4 306.7 L50.8 318.2 L57.9 329.2 L65.7 339.7 L74.0 349.8 L82.9 359.3 L92.4 368.3 L102.4 376.7 L112.8 384.5 L123.8 391.5 L135.2 397.9 L146.9 403.4 L159.1 408.2 L171.5 412.1 L184.2 415.1 L197.0 417.2 L210.0 418.5 L223.0 418.8 L236.0 418.3 L248.9 416.9 L261.7 414.6 L274.3 411.5 L286.7 407.6 L298.8 402.8 L310.6 397.3 L321.9 391.0 L332.9 384.0 L343.4 376.4 L353.4 368.1 L362.9 359.2 L371.9 349.7 L380.3 339.7 L388.0 329.2 L395.2 318.2 L401.7 306.7 L407.4 294.8 L412.4 282.6 L416.5 270.0 L419.8 257.1 L422.2 244.0 L423.6 230.8 L424.0 217.5Z" fill="#00c8c8" fill-rule="evenodd" />
<path d="M424.0 217.5 L423.6 230.8 L422.2 244.0 L419.8 257.1 L416.5 270.0 L412.4 282.6 L407.4 294.8 L401.7 306.7 L395.2 318.2 L388.0 329.2 L380.3 339.7 L371.9 349.7 L362.9 359.2 L353.4 368.1 L343.4 376.4 L332.9 384.0 L321.9 391.0 L310.6 397.3 L298.8 402.8 L286.7 407.6 L274.3 411.5 L261.7 414.6 L248.9 416.9 L236.0 418.3 L223.0 418.8 L210.0 418.5 L197.0 417.2 L184.2 415.1 L171.5 412.1 L159.1 408.2 L146.9 403.4 L135.2 397.9 L123.8 391.5 L112.8 384.5 L102.4 376.7 L92.4 368.3 L82.9 359.3 L74.0 349.8 L65.7 339.7 L57.9 329.2 L50.8 318.2 L44.4 306.7 L38.6 294.8 L33.6 282.6 L29.5 270.0 L26.2 257.1 L23.9 244.0 L22.5 230.8 L22.1 217.5 L22.6 204.2 L24.1 191.0 L26.6 177.9 L29.9 165.1 L34.0 152.5 L38.9 140.3 L44.5 128.4 L50.8 116.8 L57.7 105.7 L65.3 95.0 L73.6 84.8 L82.4 75.1 L91.8 66.1 L101.9 57.7 L112.4 49.9 L123.5 43.0 L135.0 36.9 L146.9 31.6 L159.2 27.1 L171.7 23.5 L184.4 20.8 L197.2 18.9 L210.1 17.8 L223.0 17.5 L235.9 18.0 L248.8 19.2 L261.5 21.3 L274.2 24.1 L286.6 27.8 L298.8 32.2 L310.7 37.4 L322.2 43.5 L333.3 50.3 L344.0 57.8 L354.1 66.1 L363.7 75.1 L372.6 84.6 L381.0 94.8 L388.6 105.4 L395.7 116.6 L402.0 128.1 L407.6 140.1 L412.5 152.4 L416.5 165.0 L419.7 177.9 L422.1 191.0 L423.5 204.2Z M407.4 205.2 L406.1 193.1 L403.9 181.0 L401.0 169.2 L397.2 157.5 L392.8 146.2 L387.6 135.2 L381.8 124.6 L375.3 114.3 L368.3 104.5 L360.6 95.2 L352.3 86.4 L343.6 78.1 L334.3 70.5 L324.5 63.6 L314.3 57.3 L303.6 51.7 L292.7 46.9 L281.5 42.8 L270.1 39.5 L258.4 36.9 L246.7 35.0 L234.9 33.8 L223.0 33.4 L211.1 33.6 L199.3 34.6 L187.5 36.4 L175.8 38.9 L164.3 42.2 L153.1 46.3 L142.1 51.2 L131.5 56.9 L121.3 63.3 L111.6 70.3 L102.4 78.1 L93.7 86.4 L85.6 95.3 L78.0 104.7 L71.0 114.6 L64.6 124.8 L58.8 135.4 L53.7 146.4 L49.2 157.7 L45.4 169.3 L42.4 181.1 L40.1 193.1 L38.7 205.3 L38.2 217.5 L38.6 229.8 L39.9 241.9 L42.0 254.0 L45.1 265.8 L48.9 277.4 L53.4 288.7 L58.7 299.6 L64.7 310.2 L71.2 320.3 L78.3 330.0 L86.0 339.3 L94.2 348.1 L102.9 356.3 L112.1 364.1 L121.7 371.2 L131.8 377.7 L142.2 383.5 L153.1 388.7 L164.2 393.0 L175.7 396.6 L187.3 399.4 L199.1 401.4 L211.0 402.5 L223.0 402.8 L235.0 402.4 L246.8 401.1 L258.6 399.0 L270.2 396.1 L281.6 392.5 L292.7 388.1 L303.5 383.0 L314.0 377.2 L324.0 370.8 L333.7 363.7 L342.9 356.1 L351.7 347.9 L359.9 339.2 L367.6 330.0 L374.8 320.3 L381.4 310.2 L387.3 299.6 L392.6 288.7 L397.2 277.4 L401.0 265.8 L404.0 254.0 L406.1 241.9 L407.4 229.8 L407.9 217.5Z" fill="#06e02a" fill-rule="evenodd" />
<path d="M407.9 217.5 L407.4 229.8 L406.1 241.9 L404.0 254.0 L401.0 265.8 L397.2 277.4 L392.6 288.7 L387.3 299.6 L381.4 310.2 L374.8 320.3 L367.6 330.0 L359.9 339.2 L351.7 347.9 L342.9 356.1 L333.7 363.7 L324.0 370.8 L314.0 377.2 L303.5 383.0 L292.7 388.1 L281.6 392.5 L270.2 396.1 L258.6 399.0 L246.8 401.1 L235.0 402.4 L223.0 402.8 L211.0 402.5 L199.1 401.4 L187.3 399.4 L175.7 396.6 L164.2 393.0 L153.1 388.7 L142.2 383.5 L131.8 377.7 L121.7 371.2 L112.1 364.1 L102.9 356.3 L94.2 348.1 L86.0 339.3 L78.3 330.0 L71.2 320.3 L64.7 310.2 L58.7 299.6 L53.4 288.7 L48.9 277.4 L45.1 265.8 L42.0 254.0 L39.9 241.9 L38.6 229.8 L38.2 217.5 L38.7 205.3 L40.1 193.1 L42.4 181.1 L45.4 169.3 L49.2 157.7 L53.7 146.4 L58.8 135.4 L64.6 124.8 L71.0 114.6 L78.0 104.7 L85.6 95.3 L93.7 86.4 L102.4 78.1 L111.6 70.3 L121.3 63.3 L131.5 56.9 L142.1 51.2 L153.1 46.3 L164.3 42.2 L175.8 38.9 L187.5 36.4 L199.3 34.6 L211.1 33.6 L223.0 33.4 L234.9 33.8 L246.7 35.0 L258.4 36.9 L270.1 39.5 L281.5 42.8 L292.7 46.9 L303.6 51.7 L314.3 57.3 L324.5 63.6 L334.3 70.5 L343.6 78.1 L352.3 86.4 L360.6 95.2 L368.3 104.5 L375.3 114.3 L381.8 124.6 L387.6 135.2 L392.8 146.2 L397.2 157.5 L401.0 169.2 L403.9 181.0 L406.1 193.1 L407.4 205.2Z M403.4 205.5 L402.1 193.6 L400.0 181.8 L397.1 170.2 L393.4 158.8 L389.1 147.8 L384.0 137.0 L378.3 126.6 L372.0 116.6 L365.1 107.0 L357.6 97.8 L349.5 89.2 L340.9 81.2 L331.8 73.7 L322.3 66.9 L312.3 60.7 L301.9 55.3 L291.2 50.6 L280.2 46.6 L269.0 43.3 L257.7 40.8 L246.2 38.9 L234.6 37.8 L223.0 37.3 L211.4 37.6 L199.8 38.6 L188.2 40.3 L176.8 42.8 L165.6 46.0 L154.6 50.0 L143.9 54.8 L133.5 60.3 L123.5 66.6 L114.0 73.5 L105.0 81.1 L96.5 89.3 L88.6 98.0 L81.2 107.2 L74.3 116.8 L68.1 126.8 L62.4 137.2 L57.4 147.9 L53.0 159.0 L49.3 170.3 L46.3 181.9 L44.1 193.6 L42.8 205.5 L42.3 217.5 L42.6 229.5 L43.9 241.4 L46.0 253.2 L48.9 264.8 L52.7 276.1 L57.1 287.2 L62.3 297.8 L68.1 308.2 L74.5 318.1 L81.5 327.6 L89.0 336.7 L97.0 345.3 L105.5 353.3 L114.5 360.9 L123.9 367.9 L133.7 374.3 L144.0 380.0 L154.6 385.0 L165.5 389.2 L176.7 392.7 L188.1 395.5 L199.6 397.4 L211.3 398.5 L223.0 398.8 L234.7 398.4 L246.3 397.1 L257.8 395.1 L269.2 392.3 L280.3 388.7 L291.2 384.4 L301.8 379.4 L312.0 373.8 L321.8 367.5 L331.3 360.6 L340.3 353.1 L348.8 345.1 L356.9 336.6 L364.4 327.6 L371.5 318.1 L377.9 308.2 L383.7 297.9 L388.9 287.2 L393.4 276.1 L397.1 264.8 L400.0 253.2 L402.1 241.4 L403.4 229.5 L403.8 217.5Z" fill="#00c8c8" fill-rule="evenodd" />
<circle cx="408" cy="172" r="4" fill="#e02000"/><rect width="444" height="435" fill="url(#m6)"/></g></g>
<!-- b2 -->
<rect x="754.5" y="640.00" width="54.8" height="37.38" fill="#be0000"/>
<rect x="754.5" y="676.88" width="54.8" height="37.38" fill="#ff8c00"/>
<rect x="754.5" y="713.77" width="54.8" height="37.38" fill="#ff8c00"/>
<rect x="754.5" y="750.65" width="54.8" height="37.38" fill="#ff8c00"/>
<rect x="754.5" y="787.53" width="54.8" height="37.38" fill="#00ff00"/>
<rect x="754.5" y="824.42" width="54.8" height="37.38" fill="#00c800"/>
<rect x="754.5" y="861.30" width="54.8" height="37.38" fill="#00c800"/>
<rect x="754.5" y="898.18" width="54.8" height="37.38" fill="#00dc82"/>
<rect x="754.5" y="935.07" width="54.8" height="37.38" fill="#00ffd2"/>
<rect x="754.5" y="971.95" width="54.8" height="37.38" fill="#00beff"/>
<rect x="754.5" y="1008.83" width="54.8" height="37.38" fill="#0050dc"/>
<rect x="754.5" y="1045.72" width="54.8" height="37.38" fill="#0000e6"/>
<line x1="754.5" y1="676.88" x2="809.3" y2="676.88" stroke="#111" stroke-width="2"/>
<line x1="754.5" y1="713.77" x2="809.3" y2="713.77" stroke="#111" stroke-width="2"/>
<line x1="754.5" y1="750.65" x2="809.3" y2="750.65" stroke="#111" stroke-width="2"/>
<line x1="754.5" y1="787.53" x2="809.3" y2="787.53" stroke="#111" stroke-width="2"/>
<line x1="754.5" y1="824.42" x2="809.3" y2="824.42" stroke="#111" stroke-width="2"/>
<line x1="754.5" y1="861.30" x2="809.3" y2="861.30" stroke="#111" stroke-width="2"/>
<line x1="754.5" y1="898.18" x2="809.3" y2="898.18" stroke="#111" stroke-width="2"/>
<line x1="754.5" y1="935.07" x2="809.3" y2="935.07" stroke="#111" stroke-width="2"/>
<line x1="754.5" y1="971.95" x2="809.3" y2="971.95" stroke="#111" stroke-width="2"/>
<line x1="754.5" y1="1008.83" x2="809.3" y2="1008.83" stroke="#111" stroke-width="2"/>
<line x1="754.5" y1="1045.72" x2="809.3" y2="1045.72" stroke="#111" stroke-width="2"/>
<rect x="754.5" y="640.00" width="54.8" height="442.60" fill="none" stroke="#111" stroke-width="2"/>
<line x1="809.3" y1="640.00" x2="826.0" y2="640.00" stroke="#333" stroke-width="2"/>
<line x1="809.3" y1="676.88" x2="826.0" y2="676.88" stroke="#333" stroke-width="2"/>
<line x1="809.3" y1="713.77" x2="826.0" y2="713.77" stroke="#333" stroke-width="2"/>
<line x1="809.3" y1="750.65" x2="826.0" y2="750.65" stroke="#333" stroke-width="2"/>
<line x1="809.3" y1="787.53" x2="826.0" y2="787.53" stroke="#333" stroke-width="2"/>
<line x1="809.3" y1="824.42" x2="826.0" y2="824.42" stroke="#333" stroke-width="2"/>
<line x1="809.3" y1="861.30" x2="826.0" y2="861.30" stroke="#333" stroke-width="2"/>
<line x1="809.3" y1="898.18" x2="826.0" y2="898.18" stroke="#333" stroke-width="2"/>
<line x1="809.3" y1="935.07" x2="826.0" y2="935.07" stroke="#333" stroke-width="2"/>
<line x1="809.3" y1="971.95" x2="826.0" y2="971.95" stroke="#333" stroke-width="2"/>
<line x1="809.3" y1="1008.83" x2="826.0" y2="1008.83" stroke="#333" stroke-width="2"/>
<line x1="809.3" y1="1045.72" x2="826.0" y2="1045.72" stroke="#333" stroke-width="2"/>
<line x1="809.3" y1="1082.60" x2="826.0" y2="1082.60" stroke="#333" stroke-width="2"/>
<text transform="translate(845.46,650.05) scale(1.0636,1)" font-size="42.26">8.250</text>
<text transform="translate(844.38,686.93) scale(1.0636,1)" font-size="42.26">7.563</text>
<text transform="translate(845.41,723.82) scale(1.0636,1)" font-size="42.26">6.875</text>
<text transform="translate(845.41,760.70) scale(1.0636,1)" font-size="42.26">6.188</text>
<text transform="translate(845.15,797.58) scale(1.0636,1)" font-size="42.26">5.500</text>
<text transform="translate(846.34,834.47) scale(1.0636,1)" font-size="42.26">4.813</text>
<text transform="translate(846.34,871.35) scale(1.0636,1)" font-size="42.26">4.125</text>
<text transform="translate(845.26,908.23) scale(1.0636,1)" font-size="42.26">3.438</text>
<text transform="translate(845.06,945.12) scale(1.0636,1)" font-size="42.26">2.750</text>
<text transform="translate(845.06,982.00) scale(1.0636,1)" font-size="42.26">2.063</text>
<text transform="translate(843.35,1018.88) scale(1.0636,1)" font-size="42.26">1.375</text>
<text transform="translate(845.24,1055.77) scale(1.0636,1)" font-size="42.26">0.688</text>
<text transform="translate(845.24,1092.65) scale(1.0636,1)" font-size="42.26">0.000</text>
<text transform="translate(998.53,627.75) scale(1.0482,1)" font-size="46.09" fill="#000" >10</text>
<text transform="translate(965.66,629.85) scale(1.0846,1)" font-size="48.92" fill="#000" style="stroke:#000;stroke-width:1.3px">×</text>
<text transform="translate(1056.19,617.00) scale(1.0511,1)" font-size="30.66" fill="#000" >3</text>
<line x1="1047.5" y1="610.6" x2="1056.7" y2="610.6" stroke="#555" stroke-width="2.4"/>
<text transform="translate(1137.70,1170.66) scale(1.1597,1)" font-size="60.77" fill="#000" >(</text>
<text transform="translate(1225.87,1170.66) scale(1.1405,1)" font-size="60.77" fill="#000" >)</text>
<text transform="translate(1164.28,1173.30) scale(1.0092,1)" font-size="56.35">b2</text>
<clipPath id="clip_b2"><rect x="0" y="0" width="444" height="443"/></clipPath><g transform="translate(983,639)" clip-path="url(#clip_b2)"><g filter="url(#soft)"><rect width="444" height="443" fill="#000598"/><path d="M441.1 222.0 L439.0 230.6 L442.9 239.5 L440.2 248.1 L438.7 256.6 L429.6 263.7 L423.0 270.7 L424.7 279.7 L419.1 286.6 L425.5 297.8 L422.7 305.9 L421.4 314.8 L418.6 323.1 L413.2 330.1 L398.7 331.3 L393.4 337.6 L389.5 344.9 L384.3 351.2 L387.8 365.0 L382.2 371.5 L374.8 376.2 L369.1 382.6 L365.4 391.4 L352.2 388.7 L343.6 391.0 L339.5 399.5 L331.3 402.1 L328.8 414.5 L322.4 420.9 L314.3 424.2 L305.9 426.4 L297.8 429.3 L287.0 423.8 L279.5 427.8 L271.3 429.2 L262.5 427.3 L255.9 438.0 L247.7 441.0 L239.1 441.3 L230.7 444.6 L222.0 434.0 L213.9 431.1 L205.6 432.2 L197.3 432.2 L189.3 430.5 L179.6 437.4 L170.6 438.0 L162.9 433.5 L153.4 435.0 L149.7 419.7 L141.8 417.4 L133.5 415.7 L127.2 409.7 L118.5 408.6 L107.3 410.9 L100.1 406.1 L94.1 399.7 L87.0 394.8 L86.0 382.7 L78.8 378.4 L75.6 369.7 L67.2 366.4 L61.5 360.4 L52.6 356.8 L45.0 351.8 L42.2 343.3 L38.4 335.5 L38.2 325.9 L38.2 316.5 L33.8 309.6 L29.0 302.7 L26.5 294.8 L12.9 290.6 L9.9 282.4 L10.4 273.3 L10.5 264.5 L14.1 255.2 L16.7 246.5 L14.4 238.5 L14.5 230.2 L1.0 222.0 L4.5 213.4 L1.3 204.5 L3.5 195.9 L4.2 187.2 L14.3 180.3 L18.2 172.6 L21.2 164.8 L20.5 155.9 L14.8 144.8 L19.1 137.2 L23.8 129.8 L27.8 122.1 L30.4 113.7 L42.0 110.6 L48.3 104.9 L54.5 99.1 L57.4 91.0 L56.4 79.2 L60.0 70.8 L66.2 64.8 L73.3 59.7 L81.4 55.8 L91.8 55.3 L99.2 51.4 L105.0 45.3 L111.9 40.7 L116.2 31.4 L123.4 26.6 L130.4 21.5 L139.3 20.6 L147.1 17.2 L157.2 20.7 L166.1 22.1 L173.7 19.0 L181.8 18.0 L187.6 2.5 L196.3 2.5 L204.8 1.4 L213.4 0.6 L222.0 13.6 L230.2 10.2 L238.3 13.3 L246.4 13.8 L254.2 16.6 L264.3 7.2 L272.8 8.4 L281.8 7.9 L289.6 12.1 L294.0 25.1 L302.4 26.1 L309.3 30.9 L318.1 31.7 L324.1 38.0 L335.9 34.4 L343.7 38.2 L351.4 42.2 L358.6 47.1 L357.6 61.7 L364.8 66.1 L371.1 71.5 L375.0 79.3 L380.7 85.2 L393.9 85.2 L400.7 90.9 L402.4 100.3 L407.6 107.2 L406.6 117.6 L408.5 126.1 L409.3 134.8 L415.4 141.1 L420.7 148.0 L430.1 153.8 L434.1 161.6 L436.5 170.0 L434.6 179.3 L430.8 188.6 L427.1 197.5 L428.3 205.6 L432.2 213.7Z" fill="#0a55d2" />
<path d="M390.8 220.5 L390.6 232.1 L389.7 243.8 L388.0 255.3 L385.5 266.7 L382.2 277.9 L378.2 288.8 L373.5 299.5 L368.0 309.8 L361.9 319.7 L355.2 329.1 L347.8 338.1 L340.0 346.6 L331.6 354.5 L322.7 361.9 L313.3 368.7 L303.6 374.8 L293.5 380.3 L283.0 385.1 L272.3 389.2 L261.3 392.6 L250.2 395.2 L238.9 397.1 L227.4 398.1 L216.0 398.4 L204.6 398.0 L193.2 396.7 L181.9 394.8 L170.8 392.1 L159.9 388.7 L149.2 384.6 L138.8 379.8 L128.7 374.3 L119.0 368.2 L109.7 361.5 L100.8 354.1 L92.5 346.2 L84.6 337.7 L77.4 328.7 L70.7 319.3 L64.7 309.4 L59.3 299.1 L54.5 288.5 L50.5 277.7 L47.1 266.5 L44.5 255.2 L42.5 243.7 L41.3 232.1 L40.9 220.5 L41.2 208.8 L42.3 197.2 L44.1 185.7 L46.7 174.4 L50.0 163.2 L54.1 152.3 L58.8 141.7 L64.2 131.4 L70.3 121.5 L77.0 112.0 L84.2 103.0 L92.0 94.4 L100.4 86.4 L109.2 78.9 L118.5 72.1 L128.3 65.9 L138.4 60.4 L148.9 55.6 L159.6 51.6 L170.6 48.3 L181.8 45.8 L193.2 44.1 L204.6 43.1 L216.0 42.8 L227.4 43.4 L238.8 44.6 L250.0 46.5 L261.1 49.1 L272.1 52.5 L282.8 56.5 L293.3 61.2 L303.4 66.5 L313.2 72.6 L322.6 79.3 L331.4 86.6 L339.8 94.6 L347.6 103.1 L354.8 112.1 L361.4 121.7 L367.4 131.6 L372.7 141.9 L377.3 152.5 L381.2 163.4 L384.5 174.6 L387.2 185.9 L389.1 197.3 L390.3 208.9Z" fill="#044cbc" />
<ellipse cx="210" cy="280" rx="80" ry="50" fill="#000070" opacity="0.15" filter="url(#blur6)"/>
<ellipse cx="320" cy="230" rx="40" ry="40" fill="#000070" opacity="0.15" filter="url(#blur6)"/>
<path d="M414.8 220.5 L414.6 233.7 L413.5 247.0 L411.5 260.1 L408.7 273.0 L405.0 285.8 L400.5 298.3 L395.1 310.4 L388.9 322.1 L381.9 333.3 L374.3 344.1 L365.9 354.3 L357.0 363.9 L347.4 373.0 L337.3 381.4 L326.7 389.1 L315.6 396.1 L304.1 402.3 L292.2 407.8 L280.0 412.5 L267.6 416.3 L254.9 419.3 L242.0 421.4 L229.0 422.6 L216.0 422.9 L203.0 422.4 L190.1 421.0 L177.2 418.8 L164.6 415.7 L152.2 411.8 L140.0 407.1 L128.2 401.7 L116.7 395.5 L105.7 388.5 L95.1 380.9 L85.0 372.5 L75.5 363.5 L66.6 353.8 L58.4 343.6 L50.8 332.8 L43.9 321.6 L37.8 309.9 L32.4 297.9 L27.8 285.5 L23.9 272.9 L20.9 260.0 L18.7 246.9 L17.4 233.7 L16.9 220.5 L17.2 207.2 L18.5 194.0 L20.5 180.9 L23.5 168.0 L27.3 155.3 L31.9 142.9 L37.3 130.8 L43.4 119.1 L50.3 107.8 L57.9 97.1 L66.2 86.8 L75.0 77.1 L84.5 67.9 L94.6 59.5 L105.1 51.7 L116.2 44.6 L127.7 38.4 L139.6 32.9 L151.9 28.3 L164.4 24.6 L177.1 21.7 L190.0 19.8 L203.0 18.7 L216.0 18.4 L229.0 19.0 L241.9 20.4 L254.7 22.6 L267.3 25.6 L279.8 29.3 L292.0 33.9 L303.9 39.2 L315.4 45.3 L326.5 52.2 L337.2 59.8 L347.3 68.2 L356.8 77.2 L365.7 86.9 L373.9 97.2 L381.4 108.1 L388.1 119.4 L394.1 131.1 L399.4 143.2 L403.9 155.6 L407.6 168.2 L410.6 181.1 L412.8 194.1 L414.2 207.3Z M409.3 207.6 L407.9 194.8 L405.7 182.1 L402.8 169.5 L399.2 157.2 L394.8 145.1 L389.7 133.3 L383.8 121.9 L377.2 110.8 L369.9 100.3 L361.9 90.2 L353.3 80.8 L344.0 71.9 L334.1 63.8 L323.7 56.3 L312.9 49.6 L301.6 43.7 L290.1 38.5 L278.2 34.1 L266.0 30.4 L253.7 27.5 L241.2 25.3 L228.7 24.0 L216.0 23.4 L203.3 23.6 L190.7 24.7 L178.1 26.6 L165.7 29.4 L153.5 33.1 L141.6 37.6 L130.0 42.9 L118.7 49.0 L107.9 55.9 L97.6 63.4 L87.8 71.7 L78.6 80.6 L69.9 90.1 L61.9 100.1 L54.5 110.6 L47.8 121.6 L41.8 133.0 L36.5 144.8 L32.0 156.9 L28.3 169.3 L25.5 181.9 L23.4 194.7 L22.2 207.6 L21.9 220.5 L22.4 233.4 L23.7 246.3 L25.8 259.0 L28.8 271.6 L32.5 283.9 L37.0 296.0 L42.2 307.7 L48.2 319.1 L54.9 330.1 L62.3 340.6 L70.4 350.5 L79.0 359.9 L88.3 368.7 L98.1 376.9 L108.4 384.4 L119.2 391.2 L130.4 397.2 L141.9 402.5 L153.8 407.1 L165.9 410.9 L178.2 413.9 L190.7 416.1 L203.3 417.4 L216.0 417.9 L228.7 417.6 L241.3 416.4 L253.9 414.4 L266.3 411.5 L278.4 407.7 L290.3 403.2 L301.9 397.8 L313.1 391.7 L323.9 384.9 L334.2 377.4 L344.1 369.2 L353.4 360.4 L362.2 351.0 L370.3 341.0 L377.8 330.5 L384.5 319.6 L390.6 308.1 L395.8 296.3 L400.3 284.2 L403.9 271.7 L406.6 259.1 L408.5 246.3 L409.6 233.4 L409.8 220.5Z" fill="#00c8c8" fill-rule="evenodd" />
<path d="M409.8 220.5 L409.6 233.4 L408.5 246.3 L406.6 259.1 L403.9 271.7 L400.3 284.2 L395.8 296.3 L390.6 308.1 L384.5 319.6 L377.8 330.5 L370.3 341.0 L362.2 351.0 L353.4 360.4 L344.1 369.2 L334.2 377.4 L323.9 384.9 L313.1 391.7 L301.9 397.8 L290.3 403.2 L278.4 407.7 L266.3 411.5 L253.9 414.4 L241.3 416.4 L228.7 417.6 L216.0 417.9 L203.3 417.4 L190.7 416.1 L178.2 413.9 L165.9 410.9 L153.8 407.1 L141.9 402.5 L130.4 397.2 L119.2 391.2 L108.4 384.4 L98.1 376.9 L88.3 368.7 L79.0 359.9 L70.4 350.5 L62.3 340.6 L54.9 330.1 L48.2 319.1 L42.2 307.7 L37.0 296.0 L32.5 283.9 L28.8 271.6 L25.8 259.0 L23.7 246.3 L22.4 233.4 L21.9 220.5 L22.2 207.6 L23.4 194.7 L25.5 181.9 L28.3 169.3 L32.0 156.9 L36.5 144.8 L41.8 133.0 L47.8 121.6 L54.5 110.6 L61.9 100.1 L69.9 90.1 L78.6 80.6 L87.8 71.7 L97.6 63.4 L107.9 55.9 L118.7 49.0 L130.0 42.9 L141.6 37.6 L153.5 33.1 L165.7 29.4 L178.1 26.6 L190.7 24.7 L203.3 23.6 L216.0 23.4 L228.7 24.0 L241.2 25.3 L253.7 27.5 L266.0 30.4 L278.2 34.1 L290.1 38.5 L301.6 43.7 L312.9 49.6 L323.7 56.3 L334.1 63.8 L344.0 71.9 L353.3 80.8 L361.9 90.2 L369.9 100.3 L377.2 110.8 L383.8 121.9 L389.7 133.3 L394.8 145.1 L399.2 157.2 L402.8 169.5 L405.7 182.1 L407.9 194.8 L409.3 207.6Z M393.3 208.6 L392.1 196.9 L390.1 185.2 L387.4 173.7 L384.1 162.3 L380.0 151.2 L375.3 140.4 L370.0 129.9 L363.9 119.7 L357.2 110.0 L349.9 100.8 L341.9 92.1 L333.4 84.0 L324.4 76.5 L314.9 69.6 L304.9 63.5 L294.6 58.0 L283.9 53.2 L273.0 49.2 L261.9 45.8 L250.6 43.1 L239.2 41.1 L227.6 39.9 L216.0 39.4 L204.4 39.6 L192.8 40.6 L181.2 42.4 L169.9 44.9 L158.7 48.3 L147.7 52.4 L137.1 57.3 L126.8 62.9 L116.8 69.2 L107.4 76.2 L98.4 83.8 L89.9 91.9 L82.0 100.6 L74.6 109.9 L67.8 119.5 L61.6 129.6 L56.1 140.1 L51.3 150.9 L47.2 162.1 L43.8 173.5 L41.2 185.0 L39.3 196.8 L38.2 208.6 L37.9 220.5 L38.3 232.4 L39.5 244.2 L41.5 255.9 L44.2 267.4 L47.6 278.8 L51.8 289.9 L56.6 300.7 L62.1 311.1 L68.2 321.2 L75.0 330.8 L82.4 340.0 L90.3 348.6 L98.8 356.7 L107.8 364.2 L117.3 371.1 L127.2 377.3 L137.5 382.9 L148.0 387.8 L158.9 392.0 L170.0 395.5 L181.3 398.2 L192.8 400.2 L204.4 401.5 L216.0 401.9 L227.6 401.6 L239.2 400.5 L250.8 398.7 L262.1 396.0 L273.3 392.6 L284.2 388.4 L294.8 383.5 L305.1 377.9 L315.0 371.6 L324.5 364.7 L333.5 357.2 L342.1 349.1 L350.1 340.4 L357.6 331.3 L364.4 321.6 L370.6 311.5 L376.2 301.0 L381.0 290.2 L385.1 279.0 L388.4 267.6 L390.9 256.0 L392.7 244.2 L393.6 232.4 L393.8 220.5Z" fill="#06e02a" fill-rule="evenodd" />
<path d="M393.8 220.5 L393.6 232.4 L392.7 244.2 L390.9 256.0 L388.4 267.6 L385.1 279.0 L381.0 290.2 L376.2 301.0 L370.6 311.5 L364.4 321.6 L357.6 331.3 L350.1 340.4 L342.1 349.1 L333.5 357.2 L324.5 364.7 L315.0 371.6 L305.1 377.9 L294.8 383.5 L284.2 388.4 L273.3 392.6 L262.1 396.0 L250.8 398.7 L239.2 400.5 L227.6 401.6 L216.0 401.9 L204.4 401.5 L192.8 400.2 L181.3 398.2 L170.0 395.5 L158.9 392.0 L148.0 387.8 L137.5 382.9 L127.2 377.3 L117.3 371.1 L107.8 364.2 L98.8 356.7 L90.3 348.6 L82.4 340.0 L75.0 330.8 L68.2 321.2 L62.1 311.1 L56.6 300.7 L51.8 289.9 L47.6 278.8 L44.2 267.4 L41.5 255.9 L39.5 244.2 L38.3 232.4 L37.9 220.5 L38.2 208.6 L39.3 196.8 L41.2 185.0 L43.8 173.5 L47.2 162.1 L51.3 150.9 L56.1 140.1 L61.6 129.6 L67.8 119.5 L74.6 109.9 L82.0 100.6 L89.9 91.9 L98.4 83.8 L107.4 76.2 L116.8 69.2 L126.8 62.9 L137.1 57.3 L147.7 52.4 L158.7 48.3 L169.9 44.9 L181.2 42.4 L192.8 40.6 L204.4 39.6 L216.0 39.4 L227.6 39.9 L239.2 41.1 L250.6 43.1 L261.9 45.8 L273.0 49.2 L283.9 53.2 L294.6 58.0 L304.9 63.5 L314.9 69.6 L324.4 76.5 L333.4 84.0 L341.9 92.1 L349.9 100.8 L357.2 110.0 L363.9 119.7 L370.0 129.9 L375.3 140.4 L380.0 151.2 L384.1 162.3 L387.4 173.7 L390.1 185.2 L392.1 196.9 L393.3 208.6Z M388.3 209.0 L387.1 197.5 L385.2 186.2 L382.6 175.0 L379.4 163.9 L375.4 153.1 L370.9 142.6 L365.6 132.4 L359.8 122.5 L353.3 113.0 L346.1 104.1 L338.4 95.6 L330.1 87.7 L321.3 80.4 L312.1 73.8 L302.4 67.8 L292.4 62.5 L282.0 57.8 L271.4 53.9 L260.6 50.6 L249.6 48.0 L238.5 46.1 L227.3 44.9 L216.0 44.3 L204.7 44.6 L193.4 45.5 L182.2 47.3 L171.2 49.8 L160.3 53.0 L149.6 57.0 L139.3 61.8 L129.3 67.2 L119.6 73.4 L110.4 80.1 L101.7 87.5 L93.5 95.5 L85.7 103.9 L78.6 112.9 L72.0 122.3 L66.0 132.1 L60.6 142.3 L55.9 152.9 L51.9 163.7 L48.6 174.7 L46.1 186.0 L44.3 197.4 L43.2 208.9 L42.9 220.5 L43.3 232.0 L44.5 243.5 L46.4 254.9 L49.0 266.1 L52.4 277.2 L56.4 288.0 L61.1 298.5 L66.4 308.6 L72.4 318.4 L78.9 327.8 L86.1 336.7 L93.9 345.1 L102.1 353.0 L110.9 360.3 L120.1 367.0 L129.7 373.0 L139.7 378.4 L150.0 383.2 L160.5 387.3 L171.3 390.6 L182.3 393.3 L193.4 395.3 L204.7 396.5 L216.0 396.9 L227.3 396.6 L238.6 395.6 L249.8 393.7 L260.8 391.2 L271.7 387.8 L282.3 383.8 L292.6 379.0 L302.6 373.5 L312.2 367.4 L321.4 360.7 L330.2 353.4 L338.5 345.5 L346.3 337.1 L353.6 328.2 L360.3 318.8 L366.3 309.0 L371.7 298.8 L376.4 288.3 L380.3 277.4 L383.5 266.3 L386.0 255.0 L387.7 243.6 L388.6 232.0 L388.8 220.5Z" fill="#00c8c8" fill-rule="evenodd" />
<circle cx="375" cy="118" r="4" fill="#e08020"/>
<circle cx="80" cy="343" r="4" fill="#e08020"/><rect width="444" height="443" fill="url(#m6)"/></g></g>
<!-- c1 -->
<rect x="11.8" y="1279.20" width="56.7" height="38.01" fill="#ff0000"/>
<rect x="11.8" y="1316.71" width="56.7" height="38.01" fill="#ff5a00"/>
<rect x="11.8" y="1354.22" width="56.7" height="38.01" fill="#e6aa00"/>
<rect x="11.8" y="1391.72" width="56.7" height="38.01" fill="#e6ff00"/>
<rect x="11.8" y="1429.23" width="56.7" height="38.01" fill="#00ff00"/>
<rect x="11.8" y="1466.74" width="56.7" height="38.01" fill="#00f500"/>
<rect x="11.8" y="1504.25" width="56.7" height="38.01" fill="#00f500"/>
<rect x="11.8" y="1541.76" width="56.7" height="38.01" fill="#00f08c"/>
<rect x="11.8" y="1579.27" width="56.7" height="38.01" fill="#00ffe6"/>
<rect x="11.8" y="1616.78" width="56.7" height="38.01" fill="#00a0d2"/>
<rect x="11.8" y="1654.28" width="56.7" height="38.01" fill="#005aff"/>
<rect x="11.8" y="1691.79" width="56.7" height="38.01" fill="#0000e6"/>
<line x1="11.8" y1="1316.71" x2="68.5" y2="1316.71" stroke="#111" stroke-width="2"/>
<line x1="11.8" y1="1354.22" x2="68.5" y2="1354.22" stroke="#111" stroke-width="2"/>
<line x1="11.8" y1="1391.72" x2="68.5" y2="1391.72" stroke="#111" stroke-width="2"/>
<line x1="11.8" y1="1429.23" x2="68.5" y2="1429.23" stroke="#111" stroke-width="2"/>
<line x1="11.8" y1="1466.74" x2="68.5" y2="1466.74" stroke="#111" stroke-width="2"/>
<line x1="11.8" y1="1504.25" x2="68.5" y2="1504.25" stroke="#111" stroke-width="2"/>
<line x1="11.8" y1="1541.76" x2="68.5" y2="1541.76" stroke="#111" stroke-width="2"/>
<line x1="11.8" y1="1579.27" x2="68.5" y2="1579.27" stroke="#111" stroke-width="2"/>
<line x1="11.8" y1="1616.78" x2="68.5" y2="1616.78" stroke="#111" stroke-width="2"/>
<line x1="11.8" y1="1654.28" x2="68.5" y2="1654.28" stroke="#111" stroke-width="2"/>
<line x1="11.8" y1="1691.79" x2="68.5" y2="1691.79" stroke="#111" stroke-width="2"/>
<rect x="11.8" y="1279.20" width="56.7" height="450.10" fill="none" stroke="#111" stroke-width="2"/>
<line x1="68.5" y1="1279.20" x2="86.3" y2="1279.20" stroke="#333" stroke-width="2"/>
<line x1="68.5" y1="1316.71" x2="86.3" y2="1316.71" stroke="#333" stroke-width="2"/>
<line x1="68.5" y1="1354.22" x2="86.3" y2="1354.22" stroke="#333" stroke-width="2"/>
<line x1="68.5" y1="1391.72" x2="86.3" y2="1391.72" stroke="#333" stroke-width="2"/>
<line x1="68.5" y1="1429.23" x2="86.3" y2="1429.23" stroke="#333" stroke-width="2"/>
<line x1="68.5" y1="1466.74" x2="86.3" y2="1466.74" stroke="#333" stroke-width="2"/>
<line x1="68.5" y1="1504.25" x2="86.3" y2="1504.25" stroke="#333" stroke-width="2"/>
<line x1="68.5" y1="1541.76" x2="86.3" y2="1541.76" stroke="#333" stroke-width="2"/>
<line x1="68.5" y1="1579.27" x2="86.3" y2="1579.27" stroke="#333" stroke-width="2"/>
<line x1="68.5" y1="1616.78" x2="86.3" y2="1616.78" stroke="#333" stroke-width="2"/>
<line x1="68.5" y1="1654.28" x2="86.3" y2="1654.28" stroke="#333" stroke-width="2"/>
<line x1="68.5" y1="1691.79" x2="86.3" y2="1691.79" stroke="#333" stroke-width="2"/>
<line x1="68.5" y1="1729.30" x2="86.3" y2="1729.30" stroke="#333" stroke-width="2"/>
<text transform="translate(103.96,1288.65) scale(1.0761,1)" font-size="42.11">7.826</text>
<text transform="translate(103.96,1326.16) scale(1.0761,1)" font-size="42.11">7.174</text>
<text transform="translate(105.00,1363.67) scale(1.0761,1)" font-size="42.11">6.522</text>
<text transform="translate(104.74,1401.18) scale(1.0761,1)" font-size="42.11">5.869</text>
<text transform="translate(104.74,1438.69) scale(1.0761,1)" font-size="42.11">5.217</text>
<text transform="translate(105.93,1476.20) scale(1.0761,1)" font-size="42.11">4.565</text>
<text transform="translate(104.85,1513.70) scale(1.0761,1)" font-size="42.11">3.913</text>
<text transform="translate(104.85,1551.21) scale(1.0761,1)" font-size="42.11">3.261</text>
<text transform="translate(104.65,1588.72) scale(1.0761,1)" font-size="42.11">2.609</text>
<text transform="translate(102.92,1626.23) scale(1.0761,1)" font-size="42.11">1.956</text>
<text transform="translate(102.92,1663.74) scale(1.0761,1)" font-size="42.11">1.304</text>
<text transform="translate(104.82,1701.25) scale(1.0761,1)" font-size="42.11">0.652</text>
<text transform="translate(104.82,1738.75) scale(1.0761,1)" font-size="42.11">0.000</text>
<text transform="translate(271.28,1283.55) scale(1.0595,1)" font-size="46.24" fill="#000" >10</text>
<text transform="translate(239.46,1285.60) scale(1.0846,1)" font-size="48.92" fill="#000" style="stroke:#000;stroke-width:1.3px">×</text>
<text transform="translate(328.49,1272.70) scale(1.0511,1)" font-size="30.66" fill="#000" >3</text>
<line x1="320.9" y1="1266.3" x2="329.0" y2="1266.3" stroke="#555" stroke-width="2.4"/>
<text transform="translate(420.27,1805.93) scale(1.1016,1)" font-size="60.44" fill="#000" >(</text>
<text transform="translate(503.14,1805.93) scale(1.1081,1)" font-size="60.44" fill="#000" >)</text>
<text transform="translate(444.38,1808.50) scale(1.0003,1)" font-size="59.08">c1</text>
<clipPath id="clip_c1"><rect x="0" y="0" width="444" height="414"/></clipPath><g transform="translate(230,1310)" clip-path="url(#clip_c1)"><g filter="url(#soft)"><rect width="444" height="414" fill="#000598"/><path d="M423.3 207.0 L424.5 215.2 L425.9 223.5 L419.4 231.1 L422.1 239.6 L412.4 246.1 L406.5 252.8 L403.5 259.9 L403.5 268.0 L408.2 277.9 L406.2 285.8 L406.2 294.7 L401.7 301.7 L398.0 309.1 L383.6 309.9 L379.4 316.4 L373.0 321.4 L369.9 328.7 L374.4 342.7 L366.0 346.1 L363.8 355.3 L358.3 361.6 L350.7 365.4 L337.8 362.5 L331.3 366.9 L326.5 373.8 L319.8 378.0 L316.3 387.9 L309.0 391.7 L302.9 398.0 L294.2 398.7 L285.8 399.7 L275.7 395.0 L268.8 399.3 L260.6 399.3 L252.7 399.7 L247.0 413.3 L238.7 413.6 L230.3 412.5 L222.3 415.5 L214.0 405.8 L206.1 407.0 L198.2 405.6 L190.7 402.0 L182.8 402.1 L172.5 413.6 L164.3 412.0 L157.4 405.9 L149.1 404.7 L145.5 391.0 L136.4 392.5 L130.8 385.6 L123.9 382.2 L117.7 377.2 L102.8 386.7 L97.2 380.1 L90.2 375.7 L82.1 372.6 L82.9 358.9 L77.0 353.8 L72.9 346.7 L67.4 341.2 L61.9 335.6 L47.1 337.3 L43.6 329.6 L40.2 322.0 L32.0 317.4 L36.9 305.2 L33.7 298.0 L30.2 290.9 L28.7 283.0 L23.7 276.5 L13.5 271.5 L8.9 264.3 L8.2 255.9 L4.3 248.3 L16.9 237.9 L15.5 230.3 L16.4 222.4 L14.8 214.7 L3.6 207.0 L1.4 198.7 L1.5 190.4 L4.2 182.4 L7.5 174.6 L17.5 168.3 L17.3 160.2 L18.9 152.5 L25.3 146.3 L16.8 135.0 L21.7 128.1 L25.9 121.1 L26.8 112.6 L29.6 104.7 L41.7 102.5 L47.0 96.5 L53.5 91.5 L56.3 83.9 L54.8 72.4 L62.2 68.1 L63.9 58.3 L73.2 56.1 L78.5 49.9 L92.1 53.9 L95.8 45.9 L103.0 42.5 L110.7 40.0 L112.1 26.7 L119.2 22.8 L127.4 20.9 L134.1 16.1 L141.1 11.3 L151.7 17.3 L159.3 15.0 L168.1 17.6 L174.7 11.3 L180.9 -0.1 L189.7 3.3 L197.6 0.5 L205.8 -0.4 L214.0 8.7 L221.8 9.7 L229.4 12.6 L237.6 9.4 L245.0 13.3 L255.2 2.0 L262.4 7.4 L270.7 7.8 L279.8 6.5 L282.9 22.0 L289.8 25.8 L298.1 26.4 L306.1 27.9 L311.3 34.9 L322.7 31.4 L329.8 35.4 L336.1 40.6 L343.3 44.6 L344.8 55.4 L349.1 62.3 L354.9 67.5 L360.8 72.7 L368.3 76.5 L379.7 77.7 L382.9 85.5 L387.5 92.2 L395.6 96.8 L387.5 110.8 L391.2 117.6 L394.3 124.7 L397.7 131.7 L403.6 137.7 L416.6 141.8 L416.5 150.4 L417.5 158.6 L418.9 166.6 L411.5 176.0 L413.0 183.7 L412.9 191.5 L411.1 199.3Z" fill="#0a55d2" />
<path d="M374.1 205.0 L373.7 215.7 L372.6 226.4 L370.8 237.0 L368.3 247.4 L365.0 257.6 L361.1 267.5 L356.6 277.2 L351.5 286.6 L345.9 295.6 L339.7 304.2 L332.9 312.4 L325.7 320.1 L318.0 327.4 L309.9 334.1 L301.3 340.3 L292.4 345.9 L283.1 350.9 L273.5 355.3 L263.6 358.9 L253.5 362.0 L243.3 364.3 L232.9 366.0 L222.5 367.0 L212.0 367.3 L201.5 367.0 L191.1 366.0 L180.7 364.4 L170.4 362.1 L160.3 359.1 L150.5 355.4 L140.8 351.1 L131.5 346.2 L122.5 340.6 L113.9 334.4 L105.8 327.6 L98.1 320.3 L91.0 312.5 L84.3 304.2 L78.2 295.5 L72.7 286.4 L67.8 277.0 L63.4 267.3 L59.6 257.4 L56.5 247.2 L54.0 236.8 L52.2 226.3 L51.1 215.7 L50.6 205.0 L50.9 194.3 L51.9 183.7 L53.6 173.1 L55.9 162.7 L59.0 152.4 L62.7 142.4 L67.1 132.6 L72.1 123.2 L77.6 114.1 L83.8 105.4 L90.5 97.1 L97.7 89.3 L105.4 82.0 L113.6 75.2 L122.3 69.0 L131.3 63.5 L140.7 58.5 L150.3 54.3 L160.3 50.7 L170.4 47.8 L180.7 45.7 L191.1 44.1 L201.5 43.3 L212.0 43.1 L222.5 43.5 L232.9 44.6 L243.2 46.3 L253.4 48.7 L263.4 51.7 L273.2 55.3 L282.8 59.6 L292.1 64.5 L301.1 70.0 L309.7 76.1 L317.9 82.7 L325.7 89.9 L333.0 97.6 L339.7 105.8 L346.0 114.4 L351.6 123.4 L356.7 132.7 L361.2 142.4 L365.1 152.4 L368.3 162.6 L370.8 173.0 L372.7 183.6 L373.8 194.3Z" fill="#044cbc" />
<ellipse cx="200" cy="300" rx="90" ry="50" fill="#000070" opacity="0.12" filter="url(#blur6)"/>
<ellipse cx="230" cy="110" rx="70" ry="40" fill="#000070" opacity="0.12" filter="url(#blur6)"/>
<path d="M60 245 L360 215" stroke="#0896d0" stroke-width="3" fill="none"/>
<path d="M78.1 215.0 L94.5 241.2 L64.5 242.8Z" fill="#000090" stroke="#0aa0d8" stroke-width="4" stroke-linejoin="round" opacity="1.0"/>
<path d="M139.1 206.0 L155.5 232.2 L125.5 233.8Z" fill="#000090" stroke="#0aa0d8" stroke-width="4" stroke-linejoin="round" opacity="1.0"/>
<path d="M204.1 199.0 L220.5 225.2 L190.5 226.8Z" fill="#000090" stroke="#0aa0d8" stroke-width="4" stroke-linejoin="round" opacity="1.0"/>
<path d="M269.1 191.0 L285.5 217.2 L255.5 218.8Z" fill="#000090" stroke="#0aa0d8" stroke-width="4" stroke-linejoin="round" opacity="1.0"/>
<path d="M336.1 187.0 L352.5 213.2 L322.5 214.8Z" fill="#000090" stroke="#0aa0d8" stroke-width="4" stroke-linejoin="round" opacity="1.0"/>
<path d="M399.3 205.0 L398.9 217.4 L397.6 229.7 L395.5 241.9 L392.5 253.9 L388.8 265.7 L384.3 277.1 L379.1 288.3 L373.2 299.1 L366.7 309.5 L359.5 319.4 L351.7 328.8 L343.4 337.8 L334.5 346.2 L325.1 353.9 L315.2 361.1 L304.8 367.5 L294.1 373.3 L283.0 378.3 L271.6 382.6 L260.0 386.0 L248.2 388.7 L236.2 390.7 L224.1 391.8 L212.0 392.2 L199.9 391.8 L187.8 390.7 L175.8 388.8 L164.0 386.1 L152.3 382.7 L140.9 378.5 L129.8 373.5 L119.0 367.8 L108.6 361.4 L98.7 354.2 L89.3 346.4 L80.5 338.0 L72.2 328.9 L64.5 319.4 L57.5 309.4 L51.1 298.9 L45.4 288.1 L40.3 276.9 L36.0 265.4 L32.4 253.6 L29.5 241.7 L27.4 229.6 L26.1 217.3 L25.6 205.0 L25.9 192.7 L27.0 180.4 L29.0 168.2 L31.7 156.2 L35.2 144.4 L39.5 132.8 L44.6 121.5 L50.3 110.7 L56.8 100.2 L63.9 90.1 L71.6 80.6 L80.0 71.5 L88.9 63.1 L98.4 55.3 L108.3 48.2 L118.8 41.8 L129.6 36.1 L140.8 31.2 L152.2 27.1 L163.9 23.7 L175.8 21.2 L187.8 19.5 L199.9 18.5 L212.0 18.2 L224.1 18.8 L236.1 20.0 L248.0 22.0 L259.8 24.7 L271.4 28.2 L282.7 32.4 L293.8 37.3 L304.6 42.9 L315.0 49.3 L324.9 56.3 L334.4 64.0 L343.3 72.2 L351.7 81.1 L359.6 90.6 L366.8 100.5 L373.3 110.9 L379.2 121.6 L384.4 132.8 L388.9 144.3 L392.6 156.1 L395.5 168.1 L397.6 180.3 L398.9 192.6Z M394.8 192.9 L393.6 180.8 L391.5 168.9 L388.7 157.1 L385.1 145.6 L380.7 134.4 L375.6 123.4 L369.9 112.9 L363.4 102.7 L356.4 93.0 L348.7 83.8 L340.5 75.1 L331.7 67.0 L322.5 59.4 L312.7 52.6 L302.6 46.4 L292.1 40.9 L281.2 36.0 L270.1 32.0 L258.8 28.6 L247.2 25.9 L235.6 24.0 L223.8 22.7 L212.0 22.2 L200.2 22.4 L188.4 23.4 L176.6 25.1 L165.0 27.6 L153.5 30.9 L142.3 34.9 L131.4 39.7 L120.8 45.2 L110.6 51.5 L100.8 58.5 L91.5 66.1 L82.8 74.4 L74.6 83.2 L67.1 92.6 L60.1 102.4 L53.8 112.7 L48.2 123.3 L43.2 134.3 L39.0 145.6 L35.6 157.2 L32.9 169.0 L31.0 180.9 L29.9 192.9 L29.6 205.0 L30.1 217.1 L31.4 229.0 L33.4 240.9 L36.2 252.6 L39.8 264.1 L44.0 275.3 L48.9 286.3 L54.5 296.9 L60.8 307.1 L67.7 317.0 L75.2 326.3 L83.3 335.1 L91.9 343.4 L101.1 351.1 L110.8 358.1 L121.0 364.4 L131.5 370.0 L142.4 374.8 L153.6 378.9 L165.0 382.3 L176.6 384.9 L188.3 386.8 L200.1 387.9 L212.0 388.2 L223.9 387.8 L235.7 386.7 L247.4 384.8 L259.0 382.2 L270.3 378.8 L281.5 374.6 L292.3 369.7 L302.9 364.1 L313.0 357.8 L322.6 350.8 L331.8 343.2 L340.5 335.0 L348.7 326.2 L356.3 317.0 L363.3 307.2 L369.7 297.1 L375.5 286.5 L380.6 275.6 L385.0 264.4 L388.6 252.8 L391.5 241.1 L393.6 229.2 L394.8 217.1 L395.3 205.0Z" fill="#00c8c8" fill-rule="evenodd" />
<path d="M395.3 205.0 L394.8 217.1 L393.6 229.2 L391.5 241.1 L388.6 252.8 L385.0 264.4 L380.6 275.6 L375.5 286.5 L369.7 297.1 L363.3 307.2 L356.3 317.0 L348.7 326.2 L340.5 335.0 L331.8 343.2 L322.6 350.8 L313.0 357.8 L302.9 364.1 L292.3 369.7 L281.5 374.6 L270.3 378.8 L259.0 382.2 L247.4 384.8 L235.7 386.7 L223.9 387.8 L212.0 388.2 L200.1 387.9 L188.3 386.8 L176.6 384.9 L165.0 382.3 L153.6 378.9 L142.4 374.8 L131.5 370.0 L121.0 364.4 L110.8 358.1 L101.1 351.1 L91.9 343.4 L83.3 335.1 L75.2 326.3 L67.7 317.0 L60.8 307.1 L54.5 296.9 L48.9 286.3 L44.0 275.3 L39.8 264.1 L36.2 252.6 L33.4 240.9 L31.4 229.0 L30.1 217.1 L29.6 205.0 L29.9 192.9 L31.0 180.9 L32.9 169.0 L35.6 157.2 L39.0 145.6 L43.2 134.3 L48.2 123.3 L53.8 112.7 L60.1 102.4 L67.1 92.6 L74.6 83.2 L82.8 74.4 L91.5 66.1 L100.8 58.5 L110.6 51.5 L120.8 45.2 L131.4 39.7 L142.3 34.9 L153.5 30.9 L165.0 27.6 L176.6 25.1 L188.4 23.4 L200.2 22.4 L212.0 22.2 L223.8 22.7 L235.6 24.0 L247.2 25.9 L258.8 28.6 L270.1 32.0 L281.2 36.0 L292.1 40.9 L302.6 46.4 L312.7 52.6 L322.5 59.4 L331.7 67.0 L340.5 75.1 L348.7 83.8 L356.4 93.0 L363.4 102.7 L369.9 112.9 L375.6 123.4 L380.7 134.4 L385.1 145.6 L388.7 157.1 L391.5 168.9 L393.6 180.8 L394.8 192.9Z M376.8 194.1 L375.6 183.2 L373.8 172.4 L371.2 161.8 L368.0 151.4 L364.0 141.3 L359.4 131.4 L354.2 121.9 L348.5 112.7 L342.1 103.9 L335.2 95.6 L327.8 87.8 L319.9 80.5 L311.6 73.7 L302.8 67.5 L293.6 61.9 L284.1 56.9 L274.4 52.6 L264.4 48.9 L254.1 45.8 L243.8 43.4 L233.2 41.7 L222.6 40.6 L212.0 40.1 L201.3 40.3 L190.7 41.2 L180.1 42.7 L169.6 45.0 L159.3 47.9 L149.2 51.5 L139.3 55.9 L129.8 60.9 L120.6 66.5 L111.8 72.8 L103.4 79.7 L95.6 87.2 L88.2 95.1 L81.4 103.6 L75.1 112.4 L69.5 121.7 L64.4 131.3 L59.9 141.2 L56.1 151.4 L53.0 161.9 L50.6 172.5 L48.9 183.3 L47.9 194.1 L47.6 205.0 L48.1 215.9 L49.2 226.7 L51.1 237.4 L53.6 248.0 L56.8 258.3 L60.6 268.5 L65.1 278.3 L70.1 287.9 L75.7 297.2 L82.0 306.0 L88.7 314.4 L96.0 322.4 L103.8 329.9 L112.1 336.8 L120.8 343.1 L130.0 348.8 L139.5 353.8 L149.3 358.2 L159.4 361.9 L169.7 364.9 L180.1 367.3 L190.7 369.0 L201.3 370.0 L212.0 370.3 L222.7 370.0 L233.3 368.9 L243.9 367.2 L254.3 364.8 L264.6 361.8 L274.6 358.0 L284.4 353.6 L293.9 348.5 L303.0 342.8 L311.7 336.5 L320.0 329.6 L327.8 322.2 L335.2 314.4 L342.0 306.0 L348.4 297.2 L354.1 288.1 L359.3 278.5 L363.9 268.7 L367.9 258.6 L371.2 248.2 L373.8 237.6 L375.6 226.8 L376.8 215.9 L377.1 205.0Z" fill="#06e02a" fill-rule="evenodd" />
<path d="M377.1 205.0 L376.8 215.9 L375.6 226.8 L373.8 237.6 L371.2 248.2 L367.9 258.6 L363.9 268.7 L359.3 278.5 L354.1 288.1 L348.4 297.2 L342.0 306.0 L335.2 314.4 L327.8 322.2 L320.0 329.6 L311.7 336.5 L303.0 342.8 L293.9 348.5 L284.4 353.6 L274.6 358.0 L264.6 361.8 L254.3 364.8 L243.9 367.2 L233.3 368.9 L222.7 370.0 L212.0 370.3 L201.3 370.0 L190.7 369.0 L180.1 367.3 L169.7 364.9 L159.4 361.9 L149.3 358.2 L139.5 353.8 L130.0 348.8 L120.8 343.1 L112.1 336.8 L103.8 329.9 L96.0 322.4 L88.7 314.4 L82.0 306.0 L75.7 297.2 L70.1 287.9 L65.1 278.3 L60.6 268.5 L56.8 258.3 L53.6 248.0 L51.1 237.4 L49.2 226.7 L48.1 215.9 L47.6 205.0 L47.9 194.1 L48.9 183.3 L50.6 172.5 L53.0 161.9 L56.1 151.4 L59.9 141.2 L64.4 131.3 L69.5 121.7 L75.1 112.4 L81.4 103.6 L88.2 95.1 L95.6 87.2 L103.4 79.7 L111.8 72.8 L120.6 66.5 L129.8 60.9 L139.3 55.9 L149.2 51.5 L159.3 47.9 L169.6 45.0 L180.1 42.7 L190.7 41.2 L201.3 40.3 L212.0 40.1 L222.6 40.6 L233.2 41.7 L243.8 43.4 L254.1 45.8 L264.4 48.9 L274.4 52.6 L284.1 56.9 L293.6 61.9 L302.8 67.5 L311.6 73.7 L319.9 80.5 L327.8 87.8 L335.2 95.6 L342.1 103.9 L348.5 112.7 L354.2 121.9 L359.4 131.4 L364.0 141.3 L368.0 151.4 L371.2 161.8 L373.8 172.4 L375.6 183.2 L376.8 194.1Z M372.7 194.3 L371.7 183.7 L369.8 173.2 L367.3 162.9 L364.1 152.7 L360.3 142.8 L355.8 133.2 L350.8 123.9 L345.1 114.9 L338.9 106.4 L332.2 98.3 L325.0 90.6 L317.3 83.5 L309.1 76.8 L300.6 70.8 L291.6 65.3 L282.4 60.5 L272.9 56.2 L263.1 52.6 L253.1 49.7 L243.0 47.3 L232.7 45.6 L222.4 44.5 L212.0 44.1 L201.6 44.3 L191.2 45.1 L180.9 46.6 L170.7 48.8 L160.6 51.7 L150.7 55.2 L141.1 59.4 L131.8 64.3 L122.8 69.9 L114.2 76.0 L106.1 82.7 L98.4 90.0 L91.2 97.8 L84.6 106.0 L78.5 114.7 L72.9 123.7 L68.0 133.1 L63.6 142.8 L59.9 152.7 L56.9 162.9 L54.5 173.3 L52.9 183.8 L51.9 194.4 L51.6 205.0 L52.1 215.6 L53.2 226.2 L55.0 236.6 L57.5 246.9 L60.6 257.0 L64.3 266.9 L68.7 276.6 L73.6 285.9 L79.1 294.9 L85.1 303.6 L91.7 311.8 L98.8 319.6 L106.5 326.9 L114.5 333.6 L123.1 339.8 L132.0 345.3 L141.3 350.2 L150.8 354.5 L160.7 358.1 L170.7 361.1 L180.9 363.4 L191.2 365.0 L201.6 366.0 L212.0 366.3 L222.4 366.0 L232.8 365.0 L243.1 363.3 L253.3 361.0 L263.3 358.0 L273.1 354.3 L282.6 350.0 L291.9 345.1 L300.8 339.5 L309.3 333.3 L317.4 326.6 L325.0 319.4 L332.2 311.7 L338.9 303.6 L345.0 295.0 L350.7 286.1 L355.7 276.8 L360.2 267.2 L364.1 257.3 L367.3 247.1 L369.8 236.8 L371.6 226.3 L372.7 215.7 L373.1 205.0Z" fill="#00c8c8" fill-rule="evenodd" />
<circle cx="387" cy="212" r="4" fill="#e03000"/>
<circle cx="108" cy="352" r="3.5" fill="#e03000"/><rect width="444" height="414" fill="url(#m6)"/></g></g>
<!-- c2 -->
<rect x="759.7" y="1279.70" width="55.1" height="37.67" fill="#f00000"/>
<rect x="759.7" y="1316.87" width="55.1" height="37.67" fill="#ff8c00"/>
<rect x="759.7" y="1354.03" width="55.1" height="37.67" fill="#ff8c00"/>
<rect x="759.7" y="1391.20" width="55.1" height="37.67" fill="#ff8c00"/>
<rect x="759.7" y="1428.37" width="55.1" height="37.67" fill="#00fa00"/>
<rect x="759.7" y="1465.53" width="55.1" height="37.67" fill="#00ff00"/>
<rect x="759.7" y="1502.70" width="55.1" height="37.67" fill="#00c828"/>
<rect x="759.7" y="1539.87" width="55.1" height="37.67" fill="#00dc78"/>
<rect x="759.7" y="1577.03" width="55.1" height="37.67" fill="#00ffd2"/>
<rect x="759.7" y="1614.20" width="55.1" height="37.67" fill="#00aae6"/>
<rect x="759.7" y="1651.37" width="55.1" height="37.67" fill="#0050e6"/>
<rect x="759.7" y="1688.53" width="55.1" height="37.67" fill="#0000dc"/>
<line x1="759.7" y1="1316.87" x2="814.8" y2="1316.87" stroke="#111" stroke-width="2"/>
<line x1="759.7" y1="1354.03" x2="814.8" y2="1354.03" stroke="#111" stroke-width="2"/>
<line x1="759.7" y1="1391.20" x2="814.8" y2="1391.20" stroke="#111" stroke-width="2"/>
<line x1="759.7" y1="1428.37" x2="814.8" y2="1428.37" stroke="#111" stroke-width="2"/>
<line x1="759.7" y1="1465.53" x2="814.8" y2="1465.53" stroke="#111" stroke-width="2"/>
<line x1="759.7" y1="1502.70" x2="814.8" y2="1502.70" stroke="#111" stroke-width="2"/>
<line x1="759.7" y1="1539.87" x2="814.8" y2="1539.87" stroke="#111" stroke-width="2"/>
<line x1="759.7" y1="1577.03" x2="814.8" y2="1577.03" stroke="#111" stroke-width="2"/>
<line x1="759.7" y1="1614.20" x2="814.8" y2="1614.20" stroke="#111" stroke-width="2"/>
<line x1="759.7" y1="1651.37" x2="814.8" y2="1651.37" stroke="#111" stroke-width="2"/>
<line x1="759.7" y1="1688.53" x2="814.8" y2="1688.53" stroke="#111" stroke-width="2"/>
<rect x="759.7" y="1279.70" width="55.1" height="446.00" fill="none" stroke="#111" stroke-width="2"/>
<line x1="814.8" y1="1279.70" x2="833.0" y2="1279.70" stroke="#333" stroke-width="2"/>
<line x1="814.8" y1="1316.87" x2="833.0" y2="1316.87" stroke="#333" stroke-width="2"/>
<line x1="814.8" y1="1354.03" x2="833.0" y2="1354.03" stroke="#333" stroke-width="2"/>
<line x1="814.8" y1="1391.20" x2="833.0" y2="1391.20" stroke="#333" stroke-width="2"/>
<line x1="814.8" y1="1428.37" x2="833.0" y2="1428.37" stroke="#333" stroke-width="2"/>
<line x1="814.8" y1="1465.53" x2="833.0" y2="1465.53" stroke="#333" stroke-width="2"/>
<line x1="814.8" y1="1502.70" x2="833.0" y2="1502.70" stroke="#333" stroke-width="2"/>
<line x1="814.8" y1="1539.87" x2="833.0" y2="1539.87" stroke="#333" stroke-width="2"/>
<line x1="814.8" y1="1577.03" x2="833.0" y2="1577.03" stroke="#333" stroke-width="2"/>
<line x1="814.8" y1="1614.20" x2="833.0" y2="1614.20" stroke="#333" stroke-width="2"/>
<line x1="814.8" y1="1651.37" x2="833.0" y2="1651.37" stroke="#333" stroke-width="2"/>
<line x1="814.8" y1="1688.53" x2="833.0" y2="1688.53" stroke="#333" stroke-width="2"/>
<line x1="814.8" y1="1725.70" x2="833.0" y2="1725.70" stroke="#333" stroke-width="2"/>
<text transform="translate(851.72,1289.45) scale(1.0717,1)" font-size="42.11">9.864</text>
<text transform="translate(863.22,1326.62) scale(1.0717,1)" font-size="42.11">9.042</text>
<text transform="translate(862.95,1363.79) scale(1.0717,1)" font-size="42.11">8.220</text>
<text transform="translate(861.87,1400.95) scale(1.0717,1)" font-size="42.11">7.398</text>
<text transform="translate(862.91,1438.12) scale(1.0717,1)" font-size="42.11">6.576</text>
<text transform="translate(862.64,1475.29) scale(1.0717,1)" font-size="42.11">5.754</text>
<text transform="translate(863.83,1512.45) scale(1.0717,1)" font-size="42.11">4.932</text>
<text transform="translate(863.83,1549.62) scale(1.0717,1)" font-size="42.11">4.110</text>
<text transform="translate(862.75,1586.79) scale(1.0717,1)" font-size="42.11">3.288</text>
<text transform="translate(862.55,1623.95) scale(1.0717,1)" font-size="42.11">2.466</text>
<text transform="translate(860.84,1661.12) scale(1.0717,1)" font-size="42.11">1.644</text>
<text transform="translate(862.73,1698.29) scale(1.0717,1)" font-size="42.11">0.822</text>
<text transform="translate(862.73,1735.45) scale(1.0717,1)" font-size="42.11">0.000</text>
<text transform="translate(1044.43,1283.55) scale(1.0448,1)" font-size="46.24" fill="#000" >10</text>
<text transform="translate(1012.56,1285.60) scale(1.0846,1)" font-size="48.92" fill="#000" style="stroke:#000;stroke-width:1.3px">×</text>
<text transform="translate(1101.59,1272.70) scale(1.0511,1)" font-size="30.66" fill="#000" >3</text>
<line x1="1093.4" y1="1266.3" x2="1102.1" y2="1266.3" stroke="#555" stroke-width="2.4"/>
<text transform="translate(1137.70,1798.29) scale(1.1618,1)" font-size="60.66" fill="#000" >(</text>
<text transform="translate(1221.07,1798.29) scale(1.1426,1)" font-size="60.66" fill="#000" >)</text>
<text transform="translate(1162.97,1801.00) scale(1.0043,1)" font-size="59.05">c2</text>
<clipPath id="clip_c2"><rect x="0" y="0" width="444" height="429"/></clipPath><g transform="translate(992,1289)" clip-path="url(#clip_c2)"><g filter="url(#soft)"><rect width="444" height="429" fill="#000598"/><path d="M431.5 210.0 L436.1 218.6 L432.1 226.8 L430.6 235.2 L434.5 244.3 L420.9 250.4 L419.1 258.3 L416.8 266.1 L411.6 273.0 L424.3 286.1 L417.3 292.6 L417.7 302.1 L410.2 308.0 L406.2 315.5 L395.8 319.2 L389.7 325.0 L386.9 333.0 L379.7 337.8 L383.9 352.1 L374.7 355.4 L370.8 363.4 L363.6 368.2 L358.9 375.8 L344.8 371.8 L339.8 378.8 L331.0 380.5 L324.7 385.8 L322.5 398.4 L315.6 403.6 L307.4 406.5 L298.7 407.7 L291.3 412.1 L280.3 405.9 L271.8 406.0 L265.3 413.4 L256.2 410.2 L249.9 421.8 L241.8 426.1 L233.1 425.9 L224.6 427.4 L216.0 415.8 L207.8 417.1 L199.5 417.1 L191.3 417.0 L183.4 413.8 L173.4 422.3 L165.1 420.2 L156.8 417.8 L148.2 416.7 L143.4 404.9 L135.6 402.3 L128.3 398.5 L121.3 394.0 L112.3 393.5 L101.5 395.1 L93.7 391.3 L85.4 388.1 L79.2 381.9 L81.3 366.3 L75.5 360.6 L70.3 354.3 L65.1 348.1 L59.1 342.8 L44.8 343.7 L40.6 336.2 L37.0 328.5 L31.3 322.2 L35.6 310.1 L32.7 302.5 L29.6 295.1 L22.6 289.4 L19.0 282.0 L8.5 276.8 L6.0 268.7 L6.0 259.9 L-0.4 252.6 L11.5 242.1 L12.4 233.9 L9.3 226.1 L7.0 218.1 L-6.1 210.0 L0.0 201.6 L-5.2 192.8 L-1.3 184.5 L-0.2 176.1 L11.9 169.8 L14.1 162.0 L14.3 153.6 L14.7 145.2 L10.8 135.0 L9.9 125.4 L18.4 119.7 L20.3 111.2 L24.4 103.7 L40.2 103.3 L43.1 95.5 L44.8 86.8 L52.7 82.5 L51.1 70.4 L56.4 63.9 L61.5 57.0 L68.0 51.4 L73.0 44.1 L85.2 45.6 L95.0 45.0 L98.9 36.4 L108.0 35.4 L107.4 17.9 L117.5 18.6 L123.4 11.1 L130.8 6.3 L140.9 8.5 L150.8 11.1 L158.6 8.5 L167.3 9.2 L175.1 6.1 L182.1 -2.3 L190.4 -3.9 L198.8 -6.5 L207.4 -7.0 L216.0 4.0 L224.3 1.4 L232.1 7.1 L240.4 5.7 L248.8 5.0 L258.7 -2.5 L266.5 1.5 L275.5 1.1 L283.9 3.1 L288.2 16.1 L296.8 16.7 L302.2 24.7 L309.4 28.4 L318.6 28.4 L331.7 23.0 L337.2 30.3 L344.1 35.4 L352.4 38.5 L354.2 49.7 L357.6 58.3 L363.9 63.5 L371.8 67.3 L376.5 74.2 L390.0 74.1 L392.1 83.2 L401.2 87.4 L402.1 97.0 L396.3 110.0 L402.5 115.9 L404.6 123.9 L406.2 131.9 L408.9 139.5 L427.1 142.1 L429.8 150.3 L428.7 159.4 L429.8 167.9 L419.6 178.1 L425.4 185.4 L421.2 194.0 L420.9 202.0Z" fill="#0a55d2" />
<path d="M396.1 208.0 L395.5 219.7 L394.1 231.3 L392.0 242.8 L389.1 254.1 L385.6 265.3 L381.5 276.2 L376.6 286.8 L371.2 297.1 L365.1 307.1 L358.5 316.7 L351.2 325.9 L343.3 334.6 L334.8 342.7 L325.8 350.3 L316.3 357.3 L306.3 363.5 L295.9 369.1 L285.2 374.0 L274.1 378.2 L262.8 381.6 L251.2 384.2 L239.6 386.1 L227.8 387.2 L216.0 387.5 L204.2 387.1 L192.5 385.8 L180.8 383.8 L169.4 381.1 L158.1 377.6 L147.1 373.3 L136.5 368.4 L126.2 362.8 L116.2 356.5 L106.7 349.6 L97.7 342.2 L89.1 334.2 L81.1 325.6 L73.6 316.6 L66.7 307.2 L60.5 297.3 L54.9 287.0 L50.0 276.4 L45.8 265.4 L42.4 254.3 L39.8 242.9 L37.9 231.3 L36.8 219.7 L36.5 208.0 L37.0 196.3 L38.1 184.7 L40.0 173.2 L42.6 161.8 L45.8 150.6 L49.7 139.5 L54.4 128.7 L59.7 118.2 L65.7 108.1 L72.3 98.4 L79.7 89.1 L87.7 80.4 L96.3 72.3 L105.5 64.8 L115.2 58.1 L125.4 52.0 L136.0 46.7 L146.9 42.1 L158.1 38.3 L169.4 35.2 L181.0 32.8 L192.6 31.2 L204.3 30.2 L216.0 29.9 L227.7 30.4 L239.4 31.5 L250.9 33.3 L262.4 35.9 L273.6 39.2 L284.6 43.2 L295.4 48.0 L305.8 53.4 L315.8 59.5 L325.4 66.2 L334.6 73.5 L343.3 81.4 L351.4 89.9 L359.0 98.9 L366.0 108.3 L372.4 118.2 L378.0 128.5 L383.0 139.2 L387.2 150.2 L390.6 161.5 L393.2 173.0 L395.0 184.6 L395.9 196.3Z" fill="#044cbc" />
<path d="M376.1 208.0 L375.5 218.4 L374.3 228.7 L372.4 238.9 L369.9 249.0 L366.8 258.9 L363.1 268.5 L358.8 278.0 L354.0 287.2 L348.6 296.0 L342.6 304.6 L336.1 312.7 L329.1 320.4 L321.6 327.7 L313.6 334.4 L305.1 340.6 L296.3 346.2 L287.0 351.1 L277.5 355.5 L267.6 359.2 L257.6 362.2 L247.3 364.5 L237.0 366.2 L226.5 367.2 L216.0 367.5 L205.5 367.1 L195.1 366.0 L184.7 364.2 L174.5 361.7 L164.5 358.6 L154.8 354.9 L145.3 350.5 L136.1 345.5 L127.3 339.9 L118.9 333.8 L110.8 327.2 L103.2 320.1 L96.1 312.5 L89.4 304.5 L83.3 296.1 L77.8 287.3 L72.8 278.2 L68.4 268.7 L64.7 259.0 L61.7 249.1 L59.4 239.0 L57.7 228.7 L56.8 218.4 L56.5 208.0 L56.9 197.6 L57.9 187.3 L59.6 177.1 L61.8 166.9 L64.7 157.0 L68.2 147.2 L72.3 137.6 L77.0 128.3 L82.4 119.3 L88.3 110.6 L94.8 102.4 L101.9 94.7 L109.6 87.4 L117.8 80.8 L126.4 74.8 L135.5 69.4 L144.9 64.7 L154.6 60.7 L164.5 57.3 L174.6 54.5 L184.9 52.4 L195.2 50.9 L205.6 50.1 L216.0 49.8 L226.4 50.2 L236.8 51.2 L247.1 52.9 L257.2 55.1 L267.2 58.1 L277.0 61.6 L286.5 65.8 L295.8 70.7 L304.7 76.1 L313.3 82.0 L321.4 88.5 L329.1 95.6 L336.4 103.1 L343.1 111.1 L349.3 119.5 L355.0 128.3 L360.0 137.4 L364.4 146.9 L368.2 156.7 L371.2 166.7 L373.5 176.9 L375.1 187.2 L375.9 197.6Z" fill="#000aa0" />
<path d="M408.0 240.0 L407.6 250.5 L406.4 260.9 L404.6 271.1 L402.1 281.3 L398.9 291.2 L395.1 300.9 L390.7 310.4 L385.8 319.6 L380.3 328.4 L374.3 336.9 L367.8 345.1 L360.8 352.8 L353.4 360.1 L345.4 366.9 L337.0 373.2 L328.2 378.9 L319.0 383.9 L309.4 388.3 L299.6 392.0 L289.5 395.0 L279.3 397.4 L268.9 399.0 L258.5 400.0 L248.0 400.3 L237.5 399.9 L227.1 398.9 L216.7 397.2 L206.5 394.9 L196.4 391.9 L186.6 388.2 L177.1 383.8 L167.8 378.8 L159.0 373.2 L150.6 367.0 L142.6 360.2 L135.1 352.9 L128.1 345.2 L121.6 337.0 L115.6 328.5 L110.2 319.6 L105.2 310.4 L100.9 300.9 L97.0 291.2 L93.8 281.3 L91.2 271.2 L89.3 260.9 L88.1 250.5 L87.6 240.0 L87.8 229.5 L88.8 219.0 L90.5 208.7 L93.0 198.5 L96.1 188.4 L99.9 178.7 L104.4 169.2 L109.4 160.0 L115.0 151.1 L121.1 142.6 L127.7 134.5 L134.8 126.8 L142.5 119.6 L150.5 113.0 L159.0 106.8 L167.9 101.3 L177.2 96.4 L186.8 92.2 L196.6 88.6 L206.7 85.7 L216.9 83.5 L227.2 81.9 L237.6 81.0 L248.0 80.8 L258.4 81.1 L268.8 82.1 L279.1 83.6 L289.3 85.8 L299.4 88.6 L309.3 92.1 L318.9 96.2 L328.2 101.0 L337.2 106.4 L345.8 112.5 L354.0 119.1 L361.7 126.3 L368.8 134.1 L375.4 142.2 L381.4 150.8 L386.9 159.8 L391.8 169.1 L396.0 178.7 L399.7 188.5 L402.7 198.5 L405.1 208.8 L406.8 219.1 L407.7 229.5Z" fill="#044cbc" />
<path d="M70 320 L350 115" stroke="#0896d0" stroke-width="3" fill="none"/>
<path d="M307.5 113.3 L337.4 125.5 L312.1 145.2Z" fill="#000090" stroke="#0aa0d8" stroke-width="3.5" stroke-linejoin="round" opacity="1.0"/>
<path d="M253.5 157.3 L283.4 169.5 L258.1 189.2Z" fill="#000090" stroke="#0aa0d8" stroke-width="3.5" stroke-linejoin="round" opacity="1.0"/>
<path d="M201.5 201.3 L231.4 213.5 L206.1 233.2Z" fill="#000090" stroke="#0aa0d8" stroke-width="3.5" stroke-linejoin="round" opacity="1.0"/>
<path d="M146.5 245.3 L176.4 257.5 L151.1 277.2Z" fill="#000090" stroke="#0aa0d8" stroke-width="3.5" stroke-linejoin="round" opacity="1.0"/>
<path d="M94.5 289.3 L124.4 301.5 L99.1 321.2Z" fill="#000090" stroke="#0aa0d8" stroke-width="3.5" stroke-linejoin="round" opacity="1.0"/>
<path d="M418.1 208.0 L417.4 221.0 L415.8 233.9 L413.5 246.7 L410.3 259.3 L406.3 271.7 L401.7 283.8 L396.3 295.6 L390.2 307.1 L383.4 318.2 L375.9 328.8 L367.7 339.0 L358.8 348.7 L349.3 357.8 L339.2 366.2 L328.5 373.9 L317.3 380.9 L305.7 387.2 L293.6 392.6 L281.2 397.2 L268.5 401.0 L255.6 403.9 L242.5 406.0 L229.3 407.2 L216.0 407.6 L202.8 407.1 L189.6 405.7 L176.5 403.5 L163.7 400.4 L151.0 396.5 L138.7 391.8 L126.7 386.3 L115.2 380.0 L104.0 373.1 L93.4 365.4 L83.2 357.1 L73.6 348.3 L64.6 338.8 L56.2 328.8 L48.5 318.3 L41.5 307.3 L35.2 295.8 L29.7 284.0 L25.0 271.9 L21.2 259.4 L18.2 246.8 L16.2 233.9 L15.0 221.0 L14.6 208.0 L15.1 195.0 L16.4 182.1 L18.5 169.3 L21.4 156.6 L25.0 144.1 L29.4 131.9 L34.6 119.9 L40.6 108.2 L47.3 96.9 L54.8 86.1 L63.0 75.8 L72.0 66.1 L81.7 57.1 L92.0 48.8 L102.9 41.3 L114.4 34.6 L126.2 28.7 L138.5 23.6 L151.0 19.4 L163.8 15.9 L176.7 13.3 L189.7 11.4 L202.8 10.3 L216.0 10.0 L229.1 10.5 L242.2 11.8 L255.2 13.8 L268.0 16.7 L280.7 20.4 L293.0 24.8 L305.1 30.1 L316.7 36.1 L328.0 42.9 L338.8 50.3 L349.1 58.5 L358.8 67.3 L368.0 76.7 L376.5 86.7 L384.3 97.2 L391.5 108.2 L397.8 119.7 L403.4 131.5 L408.1 143.8 L411.9 156.3 L414.8 169.0 L416.9 182.0 L417.9 195.0Z M413.9 195.2 L412.9 182.5 L410.9 169.8 L408.0 157.3 L404.3 145.1 L399.7 133.1 L394.2 121.4 L388.0 110.2 L381.0 99.4 L373.3 89.1 L365.0 79.3 L356.0 70.1 L346.5 61.5 L336.4 53.5 L325.8 46.2 L314.7 39.6 L303.3 33.7 L291.5 28.5 L279.4 24.1 L267.0 20.5 L254.4 17.7 L241.7 15.7 L228.9 14.5 L216.0 14.0 L203.1 14.3 L190.2 15.4 L177.5 17.2 L164.8 19.8 L152.3 23.1 L140.0 27.3 L128.0 32.3 L116.4 38.1 L105.2 44.7 L94.5 52.0 L84.3 60.2 L74.9 69.0 L66.0 78.5 L58.0 88.6 L50.6 99.2 L44.0 110.2 L38.2 121.6 L33.1 133.4 L28.8 145.4 L25.2 157.7 L22.4 170.1 L20.3 182.6 L19.1 195.3 L18.6 208.0 L18.9 220.7 L20.1 233.4 L22.2 246.0 L25.1 258.4 L28.8 270.6 L33.4 282.5 L38.8 294.1 L44.9 305.3 L51.8 316.0 L59.4 326.3 L67.6 336.2 L76.5 345.4 L85.9 354.1 L95.8 362.3 L106.3 369.8 L117.2 376.6 L128.5 382.7 L140.2 388.1 L152.3 392.7 L164.7 396.6 L177.3 399.6 L190.1 401.7 L203.0 403.1 L216.0 403.6 L229.0 403.2 L241.9 402.0 L254.8 400.0 L267.4 397.1 L279.9 393.4 L292.1 388.9 L303.9 383.6 L315.3 377.5 L326.3 370.6 L336.8 363.0 L346.7 354.8 L356.0 345.9 L364.7 336.4 L372.7 326.4 L380.0 316.0 L386.7 305.1 L392.7 293.8 L398.0 282.2 L402.6 270.4 L406.4 258.3 L409.6 245.9 L411.9 233.4 L413.4 220.7 L414.1 208.0Z" fill="#00c8c8" fill-rule="evenodd" />
<path d="M414.1 208.0 L413.4 220.7 L411.9 233.4 L409.6 245.9 L406.4 258.3 L402.6 270.4 L398.0 282.2 L392.7 293.8 L386.7 305.1 L380.0 316.0 L372.7 326.4 L364.7 336.4 L356.0 345.9 L346.7 354.8 L336.8 363.0 L326.3 370.6 L315.3 377.5 L303.9 383.6 L292.1 388.9 L279.9 393.4 L267.4 397.1 L254.8 400.0 L241.9 402.0 L229.0 403.2 L216.0 403.6 L203.0 403.1 L190.1 401.7 L177.3 399.6 L164.7 396.6 L152.3 392.7 L140.2 388.1 L128.5 382.7 L117.2 376.6 L106.3 369.8 L95.8 362.3 L85.9 354.1 L76.5 345.4 L67.6 336.2 L59.4 326.3 L51.8 316.0 L44.9 305.3 L38.8 294.1 L33.4 282.5 L28.8 270.6 L25.1 258.4 L22.2 246.0 L20.1 233.4 L18.9 220.7 L18.6 208.0 L19.1 195.3 L20.3 182.6 L22.4 170.1 L25.2 157.7 L28.8 145.4 L33.1 133.4 L38.2 121.6 L44.0 110.2 L50.6 99.2 L58.0 88.6 L66.0 78.5 L74.9 69.0 L84.3 60.2 L94.5 52.0 L105.2 44.7 L116.4 38.1 L128.0 32.3 L140.0 27.3 L152.3 23.1 L164.8 19.8 L177.5 17.2 L190.2 15.4 L203.1 14.3 L216.0 14.0 L228.9 14.5 L241.7 15.7 L254.4 17.7 L267.0 20.5 L279.4 24.1 L291.5 28.5 L303.3 33.7 L314.7 39.6 L325.8 46.2 L336.4 53.5 L346.5 61.5 L356.0 70.1 L365.0 79.3 L373.3 89.1 L381.0 99.4 L388.0 110.2 L394.2 121.4 L399.7 133.1 L404.3 145.1 L408.0 157.3 L410.9 169.8 L412.9 182.5 L413.9 195.2Z M400.9 196.1 L399.9 184.2 L398.1 172.4 L395.4 160.7 L391.9 149.2 L387.6 138.1 L382.5 127.2 L376.7 116.7 L370.2 106.7 L363.0 97.0 L355.2 87.9 L346.8 79.3 L337.9 71.3 L328.5 63.8 L318.6 57.0 L308.3 50.8 L297.6 45.3 L286.5 40.5 L275.2 36.4 L263.7 33.0 L251.9 30.4 L240.0 28.5 L228.0 27.4 L216.0 26.9 L204.0 27.2 L191.9 28.2 L180.0 29.9 L168.2 32.3 L156.5 35.5 L145.0 39.4 L133.8 44.0 L122.9 49.4 L112.5 55.5 L102.5 62.4 L93.0 70.0 L84.1 78.3 L75.9 87.1 L68.3 96.5 L61.5 106.4 L55.3 116.7 L49.9 127.4 L45.1 138.4 L41.1 149.6 L37.7 161.0 L35.1 172.6 L33.2 184.3 L32.0 196.1 L31.5 208.0 L31.9 219.9 L33.0 231.7 L34.9 243.4 L37.6 255.0 L41.1 266.4 L45.4 277.5 L50.4 288.3 L56.2 298.8 L62.6 308.8 L69.7 318.5 L77.4 327.6 L85.6 336.3 L94.4 344.4 L103.7 352.0 L113.5 359.0 L123.7 365.4 L134.3 371.1 L145.2 376.1 L156.5 380.4 L168.1 384.0 L179.8 386.8 L191.8 388.8 L203.9 390.1 L216.0 390.5 L228.1 390.2 L240.2 389.1 L252.2 387.2 L264.1 384.5 L275.7 381.0 L287.1 376.8 L298.1 371.8 L308.8 366.2 L319.1 359.8 L328.9 352.7 L338.1 345.0 L346.8 336.7 L354.9 327.8 L362.4 318.5 L369.3 308.8 L375.5 298.6 L381.1 288.1 L386.0 277.3 L390.3 266.2 L393.9 254.9 L396.8 243.4 L399.0 231.7 L400.5 219.9 L401.1 208.0Z" fill="#06e02a" fill-rule="evenodd" />
<path d="M401.1 208.0 L400.5 219.9 L399.0 231.7 L396.8 243.4 L393.9 254.9 L390.3 266.2 L386.0 277.3 L381.1 288.1 L375.5 298.6 L369.3 308.8 L362.4 318.5 L354.9 327.8 L346.8 336.7 L338.1 345.0 L328.9 352.7 L319.1 359.8 L308.8 366.2 L298.1 371.8 L287.1 376.8 L275.7 381.0 L264.1 384.5 L252.2 387.2 L240.2 389.1 L228.1 390.2 L216.0 390.5 L203.9 390.1 L191.8 388.8 L179.8 386.8 L168.1 384.0 L156.5 380.4 L145.2 376.1 L134.3 371.1 L123.7 365.4 L113.5 359.0 L103.7 352.0 L94.4 344.4 L85.6 336.3 L77.4 327.6 L69.7 318.5 L62.6 308.8 L56.2 298.8 L50.4 288.3 L45.4 277.5 L41.1 266.4 L37.6 255.0 L34.9 243.4 L33.0 231.7 L31.9 219.9 L31.5 208.0 L32.0 196.1 L33.2 184.3 L35.1 172.6 L37.7 161.0 L41.1 149.6 L45.1 138.4 L49.9 127.4 L55.3 116.7 L61.5 106.4 L68.3 96.5 L75.9 87.1 L84.1 78.3 L93.0 70.0 L102.5 62.4 L112.5 55.5 L122.9 49.4 L133.8 44.0 L145.0 39.4 L156.5 35.5 L168.2 32.3 L180.0 29.9 L191.9 28.2 L204.0 27.2 L216.0 26.9 L228.0 27.4 L240.0 28.5 L251.9 30.4 L263.7 33.0 L275.2 36.4 L286.5 40.5 L297.6 45.3 L308.3 50.8 L318.6 57.0 L328.5 63.8 L337.9 71.3 L346.8 79.3 L355.2 87.9 L363.0 97.0 L370.2 106.7 L376.7 116.7 L382.5 127.2 L387.6 138.1 L391.9 149.2 L395.4 160.7 L398.1 172.4 L399.9 184.2 L400.9 196.1Z M396.9 196.3 L396.0 184.7 L394.2 173.1 L391.6 161.7 L388.1 150.5 L383.9 139.6 L378.9 129.0 L373.2 118.7 L366.8 108.9 L359.8 99.5 L352.2 90.6 L344.0 82.1 L335.2 74.3 L326.0 67.0 L316.4 60.3 L306.3 54.2 L295.8 48.9 L285.0 44.2 L273.9 40.2 L262.6 36.9 L251.1 34.3 L239.5 32.5 L227.8 31.3 L216.0 30.9 L204.2 31.2 L192.5 32.2 L180.8 33.8 L169.2 36.2 L157.8 39.3 L146.5 43.1 L135.6 47.6 L124.9 52.9 L114.7 58.9 L104.9 65.6 L95.7 73.0 L87.0 81.1 L78.9 89.8 L71.5 99.0 L64.8 108.7 L58.8 118.7 L53.5 129.2 L48.8 139.9 L44.9 150.9 L41.6 162.0 L39.0 173.4 L37.1 184.8 L36.0 196.4 L35.5 208.0 L35.9 219.6 L36.9 231.2 L38.8 242.7 L41.4 254.0 L44.9 265.1 L49.1 276.0 L54.0 286.6 L59.6 296.8 L65.9 306.6 L72.8 316.0 L80.4 325.0 L88.4 333.5 L97.0 341.4 L106.1 348.8 L115.7 355.7 L125.7 361.9 L136.0 367.5 L146.8 372.4 L157.8 376.6 L169.1 380.1 L180.6 382.9 L192.3 384.9 L204.1 386.1 L216.0 386.5 L227.9 386.2 L239.7 385.1 L251.4 383.2 L263.0 380.6 L274.4 377.2 L285.5 373.1 L296.4 368.2 L306.8 362.7 L316.8 356.4 L326.4 349.5 L335.5 342.0 L344.0 333.9 L351.9 325.2 L359.2 316.1 L366.0 306.5 L372.1 296.6 L377.5 286.3 L382.4 275.8 L386.6 264.9 L390.1 253.9 L392.9 242.6 L395.1 231.2 L396.5 219.6 L397.1 208.0Z" fill="#00c8c8" fill-rule="evenodd" /><rect width="444" height="429" fill="url(#m6)"/></g></g>
<!-- d1 -->
<rect x="25.5" y="1882.70" width="56.1" height="38.40" fill="#ff0000"/>
<rect x="25.5" y="1920.60" width="56.1" height="38.40" fill="#ff5d00"/>
<rect x="25.5" y="1958.50" width="56.1" height="38.40" fill="#ffb900"/>
<rect x="25.5" y="1996.40" width="56.1" height="38.40" fill="#e8ff00"/>
<rect x="25.5" y="2034.30" width="56.1" height="38.40" fill="#10ff10"/>
<rect x="25.5" y="2072.20" width="56.1" height="38.40" fill="#00f000"/>
<rect x="25.5" y="2110.10" width="56.1" height="38.40" fill="#00f000"/>
<rect x="25.5" y="2148.00" width="56.1" height="38.40" fill="#00ff8b"/>
<rect x="25.5" y="2185.90" width="56.1" height="38.40" fill="#00ffe8"/>
<rect x="25.5" y="2223.80" width="56.1" height="38.40" fill="#00b9ff"/>
<rect x="25.5" y="2261.70" width="56.1" height="38.40" fill="#005dff"/>
<rect x="25.5" y="2299.60" width="56.1" height="38.40" fill="#0000ff"/>
<line x1="25.5" y1="1920.60" x2="81.6" y2="1920.60" stroke="#111" stroke-width="2"/>
<line x1="25.5" y1="1958.50" x2="81.6" y2="1958.50" stroke="#111" stroke-width="2"/>
<line x1="25.5" y1="1996.40" x2="81.6" y2="1996.40" stroke="#111" stroke-width="2"/>
<line x1="25.5" y1="2034.30" x2="81.6" y2="2034.30" stroke="#111" stroke-width="2"/>
<line x1="25.5" y1="2072.20" x2="81.6" y2="2072.20" stroke="#111" stroke-width="2"/>
<line x1="25.5" y1="2110.10" x2="81.6" y2="2110.10" stroke="#111" stroke-width="2"/>
<line x1="25.5" y1="2148.00" x2="81.6" y2="2148.00" stroke="#111" stroke-width="2"/>
<line x1="25.5" y1="2185.90" x2="81.6" y2="2185.90" stroke="#111" stroke-width="2"/>
<line x1="25.5" y1="2223.80" x2="81.6" y2="2223.80" stroke="#111" stroke-width="2"/>
<line x1="25.5" y1="2261.70" x2="81.6" y2="2261.70" stroke="#111" stroke-width="2"/>
<line x1="25.5" y1="2299.60" x2="81.6" y2="2299.60" stroke="#111" stroke-width="2"/>
<rect x="25.5" y="1882.70" width="56.1" height="454.80" fill="none" stroke="#111" stroke-width="2"/>
<line x1="81.6" y1="1882.70" x2="98.6" y2="1882.70" stroke="#333" stroke-width="2"/>
<line x1="81.6" y1="1920.60" x2="98.6" y2="1920.60" stroke="#333" stroke-width="2"/>
<line x1="81.6" y1="1958.50" x2="98.6" y2="1958.50" stroke="#333" stroke-width="2"/>
<line x1="81.6" y1="1996.40" x2="98.6" y2="1996.40" stroke="#333" stroke-width="2"/>
<line x1="81.6" y1="2034.30" x2="98.6" y2="2034.30" stroke="#333" stroke-width="2"/>
<line x1="81.6" y1="2072.20" x2="98.6" y2="2072.20" stroke="#333" stroke-width="2"/>
<line x1="81.6" y1="2110.10" x2="98.6" y2="2110.10" stroke="#333" stroke-width="2"/>
<line x1="81.6" y1="2148.00" x2="98.6" y2="2148.00" stroke="#333" stroke-width="2"/>
<line x1="81.6" y1="2185.90" x2="98.6" y2="2185.90" stroke="#333" stroke-width="2"/>
<line x1="81.6" y1="2223.80" x2="98.6" y2="2223.80" stroke="#333" stroke-width="2"/>
<line x1="81.6" y1="2261.70" x2="98.6" y2="2261.70" stroke="#333" stroke-width="2"/>
<line x1="81.6" y1="2299.60" x2="98.6" y2="2299.60" stroke="#333" stroke-width="2"/>
<line x1="81.6" y1="2337.50" x2="98.6" y2="2337.50" stroke="#333" stroke-width="2"/>
<text transform="translate(117.93,1893.15) scale(1.0742,1)" font-size="42.70">8.305</text>
<text transform="translate(116.83,1931.05) scale(1.0742,1)" font-size="42.70">7.613</text>
<text transform="translate(117.88,1968.95) scale(1.0742,1)" font-size="42.70">6.921</text>
<text transform="translate(117.88,2006.85) scale(1.0742,1)" font-size="42.70">6.229</text>
<text transform="translate(117.61,2044.75) scale(1.0742,1)" font-size="42.70">5.537</text>
<text transform="translate(118.82,2082.65) scale(1.0742,1)" font-size="42.70">4.845</text>
<text transform="translate(118.82,2120.55) scale(1.0742,1)" font-size="42.70">4.153</text>
<text transform="translate(117.73,2158.45) scale(1.0742,1)" font-size="42.70">3.460</text>
<text transform="translate(117.52,2196.35) scale(1.0742,1)" font-size="42.70">2.768</text>
<text transform="translate(117.52,2234.25) scale(1.0742,1)" font-size="42.70">2.076</text>
<text transform="translate(115.78,2272.15) scale(1.0742,1)" font-size="42.70">1.384</text>
<text transform="translate(117.70,2310.05) scale(1.0742,1)" font-size="42.70">0.692</text>
<text transform="translate(117.70,2347.95) scale(1.0742,1)" font-size="42.70">0.000</text>
<text transform="translate(292.37,1890.45) scale(1.0284,1)" font-size="46.53" fill="#000" >10</text>
<text transform="translate(261.06,1892.41) scale(1.0846,1)" font-size="48.92" fill="#000" style="stroke:#000;stroke-width:1.3px">×</text>
<text transform="translate(348.99,1879.40) scale(1.0511,1)" font-size="30.66" fill="#000" >3</text>
<line x1="340.9" y1="1873.0" x2="349.5" y2="1873.0" stroke="#555" stroke-width="2.4"/>
<text transform="translate(385.75,2435.37) scale(1.1323,1)" font-size="61.21" fill="#000" >(</text>
<text transform="translate(476.97,2435.37) scale(1.1323,1)" font-size="61.21" fill="#000" >)</text>
<text transform="translate(410.28,2438.00) scale(1.0632,1)" font-size="56.21">d1</text>
<clipPath id="clip_d1"><rect x="0" y="0" width="444" height="424"/></clipPath><g transform="translate(246,1913)" clip-path="url(#clip_d1)"><g filter="url(#soft)"><rect width="444" height="424" fill="#000598"/><path d="M430.5 213.0 L428.9 221.0 L434.6 229.5 L429.4 237.2 L427.3 245.0 L418.9 251.6 L411.1 257.7 L414.2 266.4 L409.4 273.0 L405.9 279.9 L415.6 292.0 L411.9 299.3 L411.0 307.9 L408.6 316.0 L402.2 321.8 L386.0 321.0 L382.1 327.6 L378.9 334.9 L372.1 339.3 L370.2 348.0 L370.4 359.2 L366.2 366.7 L360.5 372.8 L353.5 377.3 L345.9 381.1 L334.9 379.6 L326.6 381.2 L321.0 387.3 L311.7 386.4 L306.7 394.1 L304.4 409.0 L294.7 407.2 L287.9 412.9 L280.1 415.9 L272.1 418.8 L261.0 406.2 L253.2 407.2 L245.7 409.9 L237.6 408.2 L229.7 406.0 L222.0 419.2 L213.8 418.0 L205.6 418.3 L197.0 421.2 L188.5 421.6 L183.2 405.0 L176.2 401.1 L168.5 400.1 L161.0 398.0 L152.2 399.5 L142.1 403.1 L133.7 401.7 L124.6 401.3 L118.1 395.9 L111.6 390.6 L113.3 373.3 L104.1 372.9 L100.5 364.9 L91.2 364.0 L87.4 356.4 L73.1 359.7 L66.4 354.7 L64.2 345.8 L56.8 341.3 L53.4 333.7 L50.1 326.2 L55.6 313.5 L47.1 309.5 L43.2 302.8 L43.9 293.9 L30.7 291.1 L23.9 285.0 L24.8 276.1 L19.2 269.4 L21.7 260.4 L20.1 252.6 L30.0 243.0 L29.5 235.5 L23.2 228.4 L21.5 220.8 L14.5 213.0 L13.4 204.9 L10.9 196.6 L13.4 188.7 L13.0 180.4 L24.2 174.2 L32.2 168.1 L28.7 159.3 L32.0 152.2 L35.7 145.3 L26.7 133.3 L28.7 125.2 L34.9 119.1 L35.9 110.3 L42.8 104.8 L54.3 102.6 L57.7 95.3 L65.1 91.1 L69.1 84.3 L76.6 80.6 L72.6 65.8 L80.1 61.8 L83.2 52.8 L91.9 50.4 L96.7 43.1 L111.0 49.4 L116.7 43.8 L124.3 41.0 L131.4 37.7 L138.7 34.9 L142.1 22.9 L147.5 14.1 L157.4 17.0 L165.0 13.8 L172.9 11.3 L182.9 19.2 L190.6 17.4 L198.2 14.7 L206.5 19.0 L214.2 17.3 L222.0 4.9 L230.5 0.9 L238.4 7.3 L246.5 8.7 L254.9 8.6 L263.4 7.8 L268.4 22.7 L275.9 24.5 L284.0 24.8 L291.7 26.9 L298.4 31.3 L309.6 25.8 L317.7 28.0 L324.5 32.6 L333.1 34.4 L331.0 52.3 L340.6 52.1 L346.7 57.2 L352.8 62.1 L355.6 70.6 L368.3 68.8 L375.9 72.8 L383.9 76.8 L385.0 86.4 L392.0 91.3 L384.3 106.2 L390.3 111.3 L394.2 118.0 L401.4 122.9 L399.1 132.5 L406.2 137.8 L420.3 140.9 L420.8 149.4 L422.8 157.2 L428.8 164.1 L413.4 175.5 L420.0 182.1 L418.0 190.1 L418.0 197.8 L420.1 205.3Z" fill="#0a55d2" />
<path d="M399.1 213.0 L398.7 224.4 L397.6 235.7 L395.8 247.0 L393.3 258.1 L390.1 269.1 L386.2 279.9 L381.6 290.4 L376.4 300.6 L370.4 310.5 L363.8 320.0 L356.5 329.0 L348.6 337.5 L340.1 345.4 L331.0 352.7 L321.4 359.3 L311.4 365.3 L301.1 370.6 L290.3 375.2 L279.4 379.1 L268.2 382.4 L256.8 384.9 L245.3 386.7 L233.7 387.9 L222.0 388.3 L210.3 388.0 L198.7 387.0 L187.2 385.2 L175.8 382.6 L164.6 379.3 L153.7 375.2 L143.0 370.4 L132.8 364.9 L123.0 358.7 L113.6 351.8 L104.8 344.4 L96.4 336.4 L88.7 328.0 L81.4 319.0 L74.8 309.7 L68.8 300.0 L63.4 289.9 L58.7 279.5 L54.6 268.9 L51.3 258.0 L48.6 246.9 L46.7 235.7 L45.4 224.4 L44.9 213.0 L45.2 201.6 L46.1 190.2 L47.8 178.9 L50.3 167.8 L53.4 156.7 L57.3 145.9 L61.9 135.4 L67.3 125.2 L73.3 115.3 L80.1 105.9 L87.4 97.0 L95.4 88.6 L104.0 80.7 L113.1 73.5 L122.7 66.9 L132.7 60.9 L143.0 55.6 L153.7 50.9 L164.7 46.9 L175.8 43.6 L187.2 41.0 L198.7 39.1 L210.3 38.0 L222.0 37.5 L233.7 37.9 L245.3 39.0 L256.8 40.9 L268.2 43.5 L279.3 46.9 L290.2 51.1 L300.8 56.0 L311.0 61.5 L320.8 67.7 L330.1 74.5 L339.0 81.8 L347.4 89.7 L355.3 98.0 L362.7 106.9 L369.4 116.2 L375.6 125.8 L381.1 135.9 L385.9 146.3 L390.0 156.9 L393.3 167.9 L395.9 179.0 L397.7 190.3 L398.8 201.6Z" fill="#044cbc" />
<ellipse cx="220" cy="260" rx="90" ry="50" fill="#000070" opacity="0.15" filter="url(#blur6)"/>
<ellipse cx="150" cy="230" rx="40" ry="40" fill="#000070" opacity="0.15" filter="url(#blur6)"/>
<path d="M100 182.5 L350 155" stroke="#0aa0d8" stroke-width="5" fill="none"/>
<path d="M40 150 L100 182 M112 134 L137 176 M182 169 L198 128 L219 169 M267 158 L283 117 L304 158 L350 155" stroke="#0aa0d8" stroke-width="4" fill="none" opacity="0.8"/>
<path d="M116.0 134.0 L134.5 176.0 L97.5 176.0Z" fill="#000090" stroke="#0aa0d8" stroke-width="4" stroke-linejoin="round" opacity="1.0"/>
<path d="M200.0 127.5 L218.5 169.5 L181.5 169.5Z" fill="#000090" stroke="#0aa0d8" stroke-width="4" stroke-linejoin="round" opacity="1.0"/>
<path d="M285.0 116.5 L303.5 158.5 L266.5 158.5Z" fill="#000090" stroke="#0aa0d8" stroke-width="4" stroke-linejoin="round" opacity="1.0"/>
<path d="M130.0 328.7 L146.0 372.7 L114.0 372.7Z" fill="#000090" stroke="#0aa0d8" stroke-width="4" stroke-linejoin="round" opacity="1.0"/>
<path d="M214.5 324.7 L230.5 368.7 L198.5 368.7Z" fill="#000090" stroke="#0aa0d8" stroke-width="4" stroke-linejoin="round" opacity="1.0"/>
<path d="M297.5 326.7 L313.5 370.7 L281.5 370.7Z" fill="#000090" stroke="#0aa0d8" stroke-width="4" stroke-linejoin="round" opacity="1.0"/>
<path d="M33.0 146.0 L49.0 128.0 L70.0 100.0 L85.0 85.0 L100.0 67.0 L128.0 52.0 L152.0 40.0 L182.0 30.0 L213.0 27.0 L243.0 29.0 L274.0 36.5 L304.0 52.0 L328.0 70.0 L350.0 88.0 L362.0 106.0 L362.0 116.0" fill="none" stroke="#0a55d2" stroke-width="44" stroke-linejoin="round" stroke-linecap="round"/>
<path d="M374.0 150.0 L392.0 170.0 L398.0 198.0 L395.0 217.0 L392.0 237.0 L383.0 274.0 L365.0 307.0 L344.0 335.0 L322.0 356.0 L316.0 362.0" fill="none" stroke="#0a55d2" stroke-width="44" stroke-linejoin="round" stroke-linecap="round"/>
<path d="M18.0 195.0 L24.0 217.0 L30.0 237.0 L42.6 274.0 L61.0 307.0 L82.0 338.0 L100.0 362.0 L106.0 371.0" fill="none" stroke="#0a55d2" stroke-width="44" stroke-linejoin="round" stroke-linecap="round"/>
<path d="M128.0 382.0 L182.5 389.5 L228.0 393.0 L289.0 381.0" fill="none" stroke="#0a55d2" stroke-width="44" stroke-linejoin="round" stroke-linecap="round"/>
<path d="M33.0 146.0 L49.0 128.0 L70.0 100.0 L85.0 85.0 L100.0 67.0 L128.0 52.0 L152.0 40.0 L182.0 30.0 L213.0 27.0 L243.0 29.0 L274.0 36.5 L304.0 52.0 L328.0 70.0 L350.0 88.0 L362.0 106.0 L362.0 116.0" fill="none" stroke="#00c8c8" stroke-width="22" stroke-linejoin="round" stroke-linecap="square"/>
<path d="M374.0 150.0 L392.0 170.0 L398.0 198.0 L395.0 217.0 L392.0 237.0 L383.0 274.0 L365.0 307.0 L344.0 335.0 L322.0 356.0 L316.0 362.0" fill="none" stroke="#00c8c8" stroke-width="22" stroke-linejoin="round" stroke-linecap="square"/>
<path d="M18.0 195.0 L24.0 217.0 L30.0 237.0 L42.6 274.0 L61.0 307.0 L82.0 338.0 L100.0 362.0 L106.0 371.0" fill="none" stroke="#00c8c8" stroke-width="22" stroke-linejoin="round" stroke-linecap="square"/>
<path d="M128.0 382.0 L182.5 389.5 L228.0 393.0 L289.0 381.0" fill="none" stroke="#00c8c8" stroke-width="22" stroke-linejoin="round" stroke-linecap="square"/>
<path d="M33.0 146.0 L49.0 128.0 L70.0 100.0 L85.0 85.0 L100.0 67.0 L128.0 52.0 L152.0 40.0 L182.0 30.0 L213.0 27.0 L243.0 29.0 L274.0 36.5 L304.0 52.0 L328.0 70.0 L350.0 88.0 L362.0 106.0 L362.0 116.0" fill="none" stroke="#06e02a" stroke-width="13" stroke-linejoin="round" stroke-linecap="butt"/>
<path d="M374.0 150.0 L392.0 170.0 L398.0 198.0 L395.0 217.0 L392.0 237.0 L383.0 274.0 L365.0 307.0 L344.0 335.0 L322.0 356.0 L316.0 362.0" fill="none" stroke="#06e02a" stroke-width="13" stroke-linejoin="round" stroke-linecap="butt"/>
<path d="M18.0 195.0 L24.0 217.0 L30.0 237.0 L42.6 274.0 L61.0 307.0 L82.0 338.0 L100.0 362.0 L106.0 371.0" fill="none" stroke="#06e02a" stroke-width="13" stroke-linejoin="round" stroke-linecap="butt"/>
<path d="M128.0 382.0 L182.5 389.5 L228.0 393.0 L289.0 381.0" fill="none" stroke="#06e02a" stroke-width="13" stroke-linejoin="round" stroke-linecap="butt"/>
<circle cx="135" cy="380" r="4" fill="#f0e000"/>
<circle cx="286" cy="380" r="4" fill="#f02000"/><rect width="444" height="424" fill="url(#m6)"/></g></g>
<!-- d2 -->
<rect x="777.8" y="1886.00" width="56.2" height="37.39" fill="#ff8c00"/>
<rect x="777.8" y="1922.89" width="56.2" height="37.39" fill="#ff8c00"/>
<rect x="777.8" y="1959.78" width="56.2" height="37.39" fill="#ff8c00"/>
<rect x="777.8" y="1996.67" width="56.2" height="37.39" fill="#e1f03c"/>
<rect x="777.8" y="2033.57" width="56.2" height="37.39" fill="#5ae600"/>
<rect x="777.8" y="2070.46" width="56.2" height="37.39" fill="#00d200"/>
<rect x="777.8" y="2107.35" width="56.2" height="37.39" fill="#00d200"/>
<rect x="777.8" y="2144.24" width="56.2" height="37.39" fill="#00dc78"/>
<rect x="777.8" y="2181.13" width="56.2" height="37.39" fill="#00fae6"/>
<rect x="777.8" y="2218.02" width="56.2" height="37.39" fill="#00a0dc"/>
<rect x="777.8" y="2254.92" width="56.2" height="37.39" fill="#0050dc"/>
<rect x="777.8" y="2291.81" width="56.2" height="37.39" fill="#0000dc"/>
<line x1="777.8" y1="1922.89" x2="834.0" y2="1922.89" stroke="#111" stroke-width="2"/>
<line x1="777.8" y1="1959.78" x2="834.0" y2="1959.78" stroke="#111" stroke-width="2"/>
<line x1="777.8" y1="1996.67" x2="834.0" y2="1996.67" stroke="#111" stroke-width="2"/>
<line x1="777.8" y1="2033.57" x2="834.0" y2="2033.57" stroke="#111" stroke-width="2"/>
<line x1="777.8" y1="2070.46" x2="834.0" y2="2070.46" stroke="#111" stroke-width="2"/>
<line x1="777.8" y1="2107.35" x2="834.0" y2="2107.35" stroke="#111" stroke-width="2"/>
<line x1="777.8" y1="2144.24" x2="834.0" y2="2144.24" stroke="#111" stroke-width="2"/>
<line x1="777.8" y1="2181.13" x2="834.0" y2="2181.13" stroke="#111" stroke-width="2"/>
<line x1="777.8" y1="2218.02" x2="834.0" y2="2218.02" stroke="#111" stroke-width="2"/>
<line x1="777.8" y1="2254.92" x2="834.0" y2="2254.92" stroke="#111" stroke-width="2"/>
<line x1="777.8" y1="2291.81" x2="834.0" y2="2291.81" stroke="#111" stroke-width="2"/>
<rect x="777.8" y="1886.00" width="56.2" height="442.70" fill="none" stroke="#111" stroke-width="2"/>
<line x1="834.0" y1="1886.00" x2="851.0" y2="1886.00" stroke="#333" stroke-width="2"/>
<line x1="834.0" y1="1922.89" x2="851.0" y2="1922.89" stroke="#333" stroke-width="2"/>
<line x1="834.0" y1="1959.78" x2="851.0" y2="1959.78" stroke="#333" stroke-width="2"/>
<line x1="834.0" y1="1996.67" x2="851.0" y2="1996.67" stroke="#333" stroke-width="2"/>
<line x1="834.0" y1="2033.57" x2="851.0" y2="2033.57" stroke="#333" stroke-width="2"/>
<line x1="834.0" y1="2070.46" x2="851.0" y2="2070.46" stroke="#333" stroke-width="2"/>
<line x1="834.0" y1="2107.35" x2="851.0" y2="2107.35" stroke="#333" stroke-width="2"/>
<line x1="834.0" y1="2144.24" x2="851.0" y2="2144.24" stroke="#333" stroke-width="2"/>
<line x1="834.0" y1="2181.13" x2="851.0" y2="2181.13" stroke="#333" stroke-width="2"/>
<line x1="834.0" y1="2218.02" x2="851.0" y2="2218.02" stroke="#333" stroke-width="2"/>
<line x1="834.0" y1="2254.92" x2="851.0" y2="2254.92" stroke="#333" stroke-width="2"/>
<line x1="834.0" y1="2291.81" x2="851.0" y2="2291.81" stroke="#333" stroke-width="2"/>
<line x1="834.0" y1="2328.70" x2="851.0" y2="2328.70" stroke="#333" stroke-width="2"/>
<text transform="translate(868.76,1895.57) scale(1.1020,1)" font-size="40.78">8.767</text>
<text transform="translate(868.76,1932.46) scale(1.1020,1)" font-size="40.78">8.037</text>
<text transform="translate(867.68,1969.36) scale(1.1020,1)" font-size="40.78">7.306</text>
<text transform="translate(868.71,2006.25) scale(1.1020,1)" font-size="40.78">6.576</text>
<text transform="translate(868.45,2043.14) scale(1.1020,1)" font-size="40.78">5.845</text>
<text transform="translate(868.45,2080.03) scale(1.1020,1)" font-size="40.78">5.114</text>
<text transform="translate(869.64,2116.92) scale(1.1020,1)" font-size="40.78">4.384</text>
<text transform="translate(868.56,2153.81) scale(1.1020,1)" font-size="40.78">3.653</text>
<text transform="translate(868.36,2190.71) scale(1.1020,1)" font-size="40.78">2.922</text>
<text transform="translate(868.36,2227.60) scale(1.1020,1)" font-size="40.78">2.192</text>
<text transform="translate(866.65,2264.49) scale(1.1020,1)" font-size="40.78">1.461</text>
<text transform="translate(868.54,2301.38) scale(1.1020,1)" font-size="40.78">0.731</text>
<text transform="translate(868.54,2338.27) scale(1.1020,1)" font-size="40.78">0.000</text>
<text transform="translate(1054.02,1890.45) scale(1.0138,1)" font-size="46.53" fill="#000" >10</text>
<text transform="translate(1022.06,1892.41) scale(1.0846,1)" font-size="48.92" fill="#000" style="stroke:#000;stroke-width:1.3px">×</text>
<text transform="translate(1109.99,1879.40) scale(1.0511,1)" font-size="30.66" fill="#000" >3</text>
<line x1="1101.9" y1="1873.0" x2="1110.5" y2="1873.0" stroke="#555" stroke-width="2.4"/>
<text transform="translate(1137.70,2435.37) scale(1.1514,1)" font-size="61.21" fill="#000" >(</text>
<text transform="translate(1226.65,2435.37) scale(1.0878,1)" font-size="61.21" fill="#000" >)</text>
<text transform="translate(1162.00,2438.00) scale(1.0517,1)" font-size="56.21">d2</text>
<clipPath id="clip_d2"><rect x="0" y="0" width="444" height="432"/></clipPath><g transform="translate(996,1906)" clip-path="url(#clip_d2)"><g filter="url(#soft)"><rect width="444" height="432" fill="#000598"/><path d="M431.5 216.0 L430.9 224.1 L429.2 232.2 L434.0 240.9 L428.6 248.4 L415.0 254.0 L418.1 262.6 L412.3 269.1 L410.6 276.7 L405.4 283.0 L414.9 295.1 L412.2 302.8 L406.7 309.2 L403.9 316.9 L401.1 324.7 L388.7 326.3 L383.3 332.1 L375.9 336.1 L373.5 344.2 L370.4 351.8 L372.1 364.7 L365.7 370.0 L357.0 372.6 L350.8 377.8 L344.8 383.3 L332.5 379.7 L325.5 383.3 L321.0 391.1 L311.4 389.7 L305.7 395.7 L302.4 408.1 L294.6 410.8 L288.6 418.9 L280.1 419.9 L270.6 416.5 L260.2 406.3 L253.0 409.9 L245.2 410.0 L237.9 415.5 L229.7 409.9 L222.0 424.6 L213.7 425.8 L205.6 422.0 L197.2 423.8 L188.9 422.7 L183.4 408.1 L175.0 409.9 L168.1 405.1 L159.8 405.5 L153.8 399.1 L141.3 408.8 L133.0 407.2 L127.5 399.6 L120.1 396.2 L112.5 393.0 L110.2 381.7 L107.0 372.8 L99.2 370.2 L94.6 363.7 L87.2 360.5 L71.8 364.8 L68.9 356.2 L63.9 349.7 L57.9 344.1 L49.4 340.2 L46.8 331.9 L54.2 317.8 L50.4 311.2 L48.2 303.7 L44.8 296.9 L28.5 295.4 L26.1 287.6 L25.0 279.4 L19.6 272.5 L14.3 265.4 L16.9 256.4 L26.8 246.6 L24.4 239.2 L22.3 231.6 L22.5 223.8 L11.0 216.0 L9.9 207.7 L14.6 199.8 L8.8 191.0 L15.3 183.6 L28.3 177.9 L26.9 169.6 L29.5 162.2 L31.3 154.6 L35.1 147.7 L24.7 135.1 L28.2 127.5 L35.5 121.9 L36.2 112.9 L39.7 105.4 L54.2 105.0 L61.7 100.7 L63.5 92.2 L70.0 87.5 L77.7 84.0 L73.4 68.8 L76.8 60.5 L87.0 59.5 L90.7 51.1 L97.3 46.0 L110.0 50.1 L118.1 48.1 L125.1 44.7 L133.5 43.9 L140.5 40.9 L142.8 26.6 L149.5 21.3 L156.6 16.7 L164.9 15.5 L173.0 14.0 L182.9 21.6 L190.4 18.2 L198.3 17.7 L206.4 19.6 L214.2 20.2 L222.0 7.2 L230.2 10.0 L238.5 8.0 L247.0 6.7 L254.8 11.2 L262.8 12.7 L267.9 26.6 L275.2 29.3 L283.7 27.8 L291.5 29.5 L297.9 34.6 L311.4 23.9 L316.7 31.9 L326.8 30.7 L331.9 38.4 L330.8 54.8 L336.7 59.7 L343.2 63.8 L351.8 65.5 L355.7 72.7 L371.7 67.7 L377.6 73.6 L384.2 78.8 L389.9 84.9 L391.7 93.9 L385.2 108.0 L392.4 112.6 L398.5 118.1 L400.1 126.2 L403.9 132.9 L407.2 140.0 L421.6 143.1 L423.1 151.3 L428.0 158.5 L429.4 166.7 L418.2 177.4 L417.0 185.4 L416.2 193.2 L420.3 200.5 L423.2 208.2Z" fill="#0a55d2" />
<path d="M402.0 216.0 L401.5 227.6 L400.3 239.2 L398.2 250.7 L395.5 262.0 L392.0 273.1 L387.9 283.9 L383.0 294.5 L377.5 304.8 L371.3 314.6 L364.5 324.1 L357.1 333.2 L349.2 341.7 L340.6 349.8 L331.6 357.3 L322.1 364.1 L312.1 370.4 L301.8 376.0 L291.1 380.9 L280.0 385.0 L268.7 388.4 L257.2 391.1 L245.6 392.9 L233.8 394.0 L222.0 394.4 L210.2 393.9 L198.5 392.7 L186.8 390.8 L175.4 388.1 L164.1 384.6 L153.1 380.5 L142.4 375.7 L132.0 370.2 L122.0 364.0 L112.4 357.2 L103.4 349.8 L94.8 341.7 L86.9 333.2 L79.5 324.1 L72.7 314.6 L66.6 304.7 L61.2 294.4 L56.4 283.8 L52.3 273.0 L48.8 261.9 L46.1 250.6 L44.0 239.2 L42.7 227.6 L42.1 216.0 L42.3 204.3 L43.2 192.7 L44.9 181.2 L47.5 169.7 L50.8 158.5 L54.9 147.6 L59.8 136.9 L65.5 126.6 L71.8 116.8 L78.9 107.4 L86.5 98.5 L94.7 90.1 L103.4 82.3 L112.6 75.0 L122.2 68.3 L132.2 62.2 L142.6 56.7 L153.3 51.9 L164.2 47.7 L175.5 44.2 L186.9 41.5 L198.5 39.5 L210.2 38.3 L222.0 37.8 L233.8 38.2 L245.5 39.4 L257.1 41.3 L268.6 44.0 L279.9 47.5 L290.8 51.6 L301.5 56.5 L311.9 62.0 L321.9 68.2 L331.5 74.9 L340.6 82.3 L349.2 90.2 L357.3 98.7 L364.9 107.6 L371.8 117.0 L378.1 126.9 L383.7 137.1 L388.6 147.8 L392.8 158.7 L396.2 169.9 L398.8 181.2 L400.6 192.7 L401.7 204.4Z" fill="#044cbc" />
<ellipse cx="250" cy="300" rx="80" ry="50" fill="#000070" opacity="0.15" filter="url(#blur6)"/>
<ellipse cx="140" cy="180" rx="40" ry="40" fill="#000070" opacity="0.15" filter="url(#blur6)"/>
<path d="M120 350 L372 145" stroke="#0aa0d8" stroke-width="4.5" fill="none"/>
<path d="M100 110 L130 70 M185 30 L160 60 M80 330 L130 350" stroke="#0aa0d8" stroke-width="4" fill="none" opacity="0.8"/>
<path d="M322.6 180.4 L290.4 202.3 L287.1 164.5Z" fill="#000090" stroke="#0aa0d8" stroke-width="4" stroke-linejoin="round" opacity="1.0"/>
<path d="M257.9 237.2 L223.9 256.2 L223.9 218.2Z" fill="#000090" stroke="#0aa0d8" stroke-width="4" stroke-linejoin="round" opacity="1.0"/>
<path d="M191.8 289.0 L159.6 310.9 L156.3 273.1Z" fill="#000090" stroke="#0aa0d8" stroke-width="4" stroke-linejoin="round" opacity="1.0"/>
<path d="M185.5 30.4 L213.0 26.0 L243.0 30.4 L274.0 38.0 L298.0 50.0 L322.0 64.0 L343.6 79.0 L362.0 97.0 L368.0 105.0" fill="none" stroke="#0a55d2" stroke-width="44" stroke-linejoin="round" stroke-linecap="round"/>
<path d="M97.0 70.0 L144.5 45.6" fill="none" stroke="#0a55d2" stroke-width="44" stroke-linejoin="round" stroke-linecap="round"/>
<path d="M50.0 131.0 L76.0 91.0" fill="none" stroke="#0a55d2" stroke-width="44" stroke-linejoin="round" stroke-linecap="round"/>
<path d="M30.0 176.0 L33.5 216.0 L42.6 246.0 L55.0 277.0 L67.0 307.0 L79.0 328.5 L80.6 334.6" fill="none" stroke="#0a55d2" stroke-width="44" stroke-linejoin="round" stroke-linecap="round"/>
<path d="M386.0 143.0 L395.0 170.0 L401.5 198.0 L401.5 216.0 L398.4 231.0 L392.0 261.6 L380.0 292.0 L359.0 325.5 L328.5 356.0 L289.0 377.0 L243.0 389.0 L198.0 391.0 L152.0 380.0 L112.5 362.0" fill="none" stroke="#0a55d2" stroke-width="44" stroke-linejoin="round" stroke-linecap="round"/>
<path d="M185.5 30.4 L213.0 26.0 L243.0 30.4 L274.0 38.0 L298.0 50.0 L322.0 64.0 L343.6 79.0 L362.0 97.0 L368.0 105.0" fill="none" stroke="#00c8c8" stroke-width="22" stroke-linejoin="round" stroke-linecap="square"/>
<path d="M97.0 70.0 L144.5 45.6" fill="none" stroke="#00c8c8" stroke-width="22" stroke-linejoin="round" stroke-linecap="square"/>
<path d="M50.0 131.0 L76.0 91.0" fill="none" stroke="#00c8c8" stroke-width="22" stroke-linejoin="round" stroke-linecap="square"/>
<path d="M30.0 176.0 L33.5 216.0 L42.6 246.0 L55.0 277.0 L67.0 307.0 L79.0 328.5 L80.6 334.6" fill="none" stroke="#00c8c8" stroke-width="22" stroke-linejoin="round" stroke-linecap="square"/>
<path d="M386.0 143.0 L395.0 170.0 L401.5 198.0 L401.5 216.0 L398.4 231.0 L392.0 261.6 L380.0 292.0 L359.0 325.5 L328.5 356.0 L289.0 377.0 L243.0 389.0 L198.0 391.0 L152.0 380.0 L112.5 362.0" fill="none" stroke="#00c8c8" stroke-width="22" stroke-linejoin="round" stroke-linecap="square"/>
<path d="M185.5 30.4 L213.0 26.0 L243.0 30.4 L274.0 38.0 L298.0 50.0 L322.0 64.0 L343.6 79.0 L362.0 97.0 L368.0 105.0" fill="none" stroke="#06e02a" stroke-width="13" stroke-linejoin="round" stroke-linecap="butt"/>
<path d="M97.0 70.0 L144.5 45.6" fill="none" stroke="#06e02a" stroke-width="13" stroke-linejoin="round" stroke-linecap="butt"/>
<path d="M50.0 131.0 L76.0 91.0" fill="none" stroke="#06e02a" stroke-width="13" stroke-linejoin="round" stroke-linecap="butt"/>
<path d="M30.0 176.0 L33.5 216.0 L42.6 246.0 L55.0 277.0 L67.0 307.0 L79.0 328.5 L80.6 334.6" fill="none" stroke="#06e02a" stroke-width="13" stroke-linejoin="round" stroke-linecap="butt"/>
<path d="M386.0 143.0 L395.0 170.0 L401.5 198.0 L401.5 216.0 L398.4 231.0 L392.0 261.6 L380.0 292.0 L359.0 325.5 L328.5 356.0 L289.0 377.0 L243.0 389.0 L198.0 391.0 L152.0 380.0 L112.5 362.0" fill="none" stroke="#06e02a" stroke-width="13" stroke-linejoin="round" stroke-linecap="butt"/>
<path d="M97.0 70.0 L144.5 45.6" fill="none" stroke="#06e02a" stroke-width="10" stroke-linejoin="round" stroke-linecap="round"/>
<path d="M50.0 131.0 L76.0 91.0" fill="none" stroke="#06e02a" stroke-width="10" stroke-linejoin="round" stroke-linecap="round"/>
<circle cx="360" cy="105" r="3.5" fill="#e0a000"/>
<circle cx="79" cy="328" r="3.5" fill="#e0e000"/><rect width="444" height="432" fill="url(#m6)"/></g></g>
</svg>
</body></html>
